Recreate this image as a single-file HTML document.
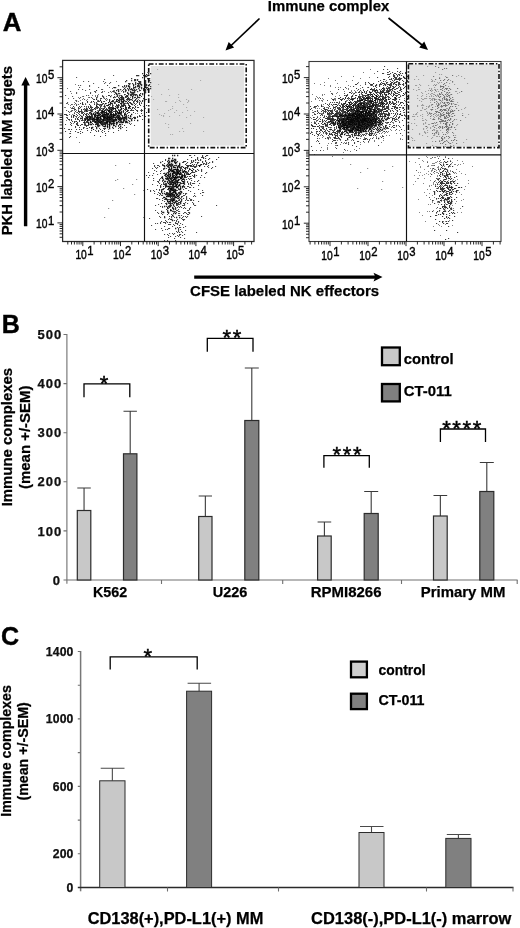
<!DOCTYPE html>
<html><head><meta charset="utf-8"><title>Figure</title>
<style>
html,body{margin:0;padding:0;background:#fff;}
body{width:520px;height:928px;overflow:hidden;font-family:"Liberation Sans",sans-serif;}
svg{display:block;}
</style></head><body>
<svg width="520" height="928" viewBox="0 0 520 928">
<rect width="520" height="928" fill="#fff"/>
<rect x="150.7" y="66" width="93.5" height="79.6" fill="#e2e2e2"/>
<rect x="409.2" y="64.5" width="89.00000000000003" height="82.3" fill="#e2e2e2"/>
<path d="M109 119.5h1.3M112 118.5h1.3M106 119.5h1.3M99 119.5h1.3M104 126.5h1.3M98 115.5h1.3M110 112.5h1.3M124 114.5h1.3M104 113.5h1.3M102 121.5h1.3M114 121.5h1.3M113 115.5h1.3M110 113.5h1.3M99 117.5h1.3M109 124.5h1.3M117 107.5h1.3M94 121.5h1.3M104 114.5h1.3M88 123.5h1.3M95 115.5h1.3M89 118.5h1.3M106 113.5h1.3M95 115.5h1.3M112 123.5h1.3M111 121.5h1.3M107 117.5h1.3M81 116.5h1.3M103 111.5h1.3M108 117.5h1.3M110 118.5h1.3M92 119.5h1.3M104 118.5h1.3M98 114.5h1.3M100 118.5h1.3M121 118.5h1.3M100 123.5h1.3M109 125.5h1.3M119 117.5h1.3M103 116.5h1.3M108 118.5h1.3M110 116.5h1.3M110 115.5h1.3M96 119.5h1.3M110 114.5h1.3M124 120.5h1.3M92 118.5h1.3M118 119.5h1.3M110 118.5h1.3M102 116.5h1.3M131 114.5h1.3M117 117.5h1.3M96 117.5h1.3M110 119.5h1.3M115 118.5h1.3M107 113.5h1.3M117 118.5h1.3M108 113.5h1.3M116 116.5h1.3M125 117.5h1.3M102 111.5h1.3M111 119.5h1.3M104 119.5h1.3M110 118.5h1.3M96 117.5h1.3M103 117.5h1.3M107 115.5h1.3M119 117.5h1.3M122 116.5h1.3M94 119.5h1.3M100 114.5h1.3M116 119.5h1.3M87 120.5h1.3M104 118.5h1.3M108 117.5h1.3M123 120.5h1.3M117 112.5h1.3M105 120.5h1.3M105 119.5h1.3M106 119.5h1.3M126 119.5h1.3M104 116.5h1.3M106 117.5h1.3M113 121.5h1.3M108 120.5h1.3M107 119.5h1.3M97 113.5h1.3M109 120.5h1.3M104 123.5h1.3M122 122.5h1.3M116 119.5h1.3M109 112.5h1.3M116 122.5h1.3M105 118.5h1.3M121 108.5h1.3M109 120.5h1.3M115 112.5h1.3M95 114.5h1.3M113 116.5h1.3M90 124.5h1.3M87 118.5h1.3M106 119.5h1.3M99 125.5h1.3M111 124.5h1.3M134 117.5h1.3M100 118.5h1.3M102 114.5h1.3M111 116.5h1.3M114 120.5h1.3M107 120.5h1.3M107 119.5h1.3M117 122.5h1.3M115 115.5h1.3M98 118.5h1.3M108 121.5h1.3M109 120.5h1.3M97 123.5h1.3M112 120.5h1.3M100 117.5h1.3M120 119.5h1.3M111 114.5h1.3M110 112.5h1.3M102 121.5h1.3M108 118.5h1.3M87 120.5h1.3M97 112.5h1.3M113 117.5h1.3M86 117.5h1.3M118 115.5h1.3M90 110.5h1.3M117 117.5h1.3M100 122.5h1.3M118 119.5h1.3M110 116.5h1.3M92 119.5h1.3M123 121.5h1.3M125 107.5h1.3M108 118.5h1.3M106 120.5h1.3M107 121.5h1.3M98 125.5h1.3M121 122.5h1.3M103 120.5h1.3M108 119.5h1.3M100 122.5h1.3M102 116.5h1.3M95 119.5h1.3M123 121.5h1.3M107 126.5h1.3M120 117.5h1.3M109 118.5h1.3M101 119.5h1.3M105 124.5h1.3M103 118.5h1.3M109 124.5h1.3M105 115.5h1.3M106 118.5h1.3M94 118.5h1.3M100 122.5h1.3M127 122.5h1.3M102 113.5h1.3M97 115.5h1.3M113 119.5h1.3M124 115.5h1.3M93 113.5h1.3M107 122.5h1.3M102 120.5h1.3M90 121.5h1.3M117 116.5h1.3M109 122.5h1.3M110 117.5h1.3M101 123.5h1.3M114 115.5h1.3M103 115.5h1.3M107 119.5h1.3M97 116.5h1.3M96 121.5h1.3M124 119.5h1.3M103 115.5h1.3M112 118.5h1.3M109 117.5h1.3M104 122.5h1.3M103 116.5h1.3M116 116.5h1.3M106 123.5h1.3M107 127.5h1.3M109 126.5h1.3M122 118.5h1.3M116 119.5h1.3M113 124.5h1.3M103 118.5h1.3M94 115.5h1.3M119 118.5h1.3M120 120.5h1.3M107 115.5h1.3M115 112.5h1.3M118 113.5h1.3M118 121.5h1.3M119 115.5h1.3M104 118.5h1.3M126 119.5h1.3M95 121.5h1.3M118 117.5h1.3M114 120.5h1.3M119 115.5h1.3M130 116.5h1.3M125 114.5h1.3M96 123.5h1.3M90 119.5h1.3M118 115.5h1.3M98 117.5h1.3M109 117.5h1.3M118 121.5h1.3M91 113.5h1.3M86 115.5h1.3M112 117.5h1.3M109 128.5h1.3M106 122.5h1.3M109 118.5h1.3M100 121.5h1.3M92 127.5h1.3M107 117.5h1.3M98 117.5h1.3M91 124.5h1.3M115 120.5h1.3M108 121.5h1.3M113 116.5h1.3M98 126.5h1.3M102 125.5h1.3M98 121.5h1.3M99 121.5h1.3M111 111.5h1.3M100 121.5h1.3M113 117.5h1.3M113 120.5h1.3M131 120.5h1.3M94 118.5h1.3M119 112.5h1.3M108 120.5h1.3M109 116.5h1.3M93 118.5h1.3M104 116.5h1.3M117 117.5h1.3M108 110.5h1.3M110 123.5h1.3M106 119.5h1.3M122 122.5h1.3M109 126.5h1.3M85 119.5h1.3M101 112.5h1.3M87 116.5h1.3M73 115.5h1.3M103 117.5h1.3M124 118.5h1.3M110 111.5h1.3M96 120.5h1.3M99 113.5h1.3M121 119.5h1.3M111 118.5h1.3M110 117.5h1.3M108 118.5h1.3M109 116.5h1.3M118 116.5h1.3M115 112.5h1.3M111 118.5h1.3M98 126.5h1.3M115 126.5h1.3M101 124.5h1.3M121 121.5h1.3M95 116.5h1.3M107 124.5h1.3M109 118.5h1.3M94 119.5h1.3M128 117.5h1.3M125 118.5h1.3M104 117.5h1.3M117 118.5h1.3M113 114.5h1.3M80 118.5h1.3M112 127.5h1.3M108 118.5h1.3M110 117.5h1.3M97 121.5h1.3M106 121.5h1.3M107 114.5h1.3M122 117.5h1.3M113 122.5h1.3M109 119.5h1.3M126 118.5h1.3M103 124.5h1.3M105 116.5h1.3M89 119.5h1.3M126 116.5h1.3M120 124.5h1.3M119 111.5h1.3M116 116.5h1.3M110 116.5h1.3M111 121.5h1.3M106 121.5h1.3M107 124.5h1.3M110 112.5h1.3M126 121.5h1.3M115 117.5h1.3M108 116.5h1.3M103 121.5h1.3M102 115.5h1.3M127 110.5h1.3M115 117.5h1.3M110 113.5h1.3M105 116.5h1.3M97 120.5h1.3M108 120.5h1.3M119 124.5h1.3M105 118.5h1.3M107 113.5h1.3M107 116.5h1.3M110 115.5h1.3M91 114.5h1.3M106 120.5h1.3M100 116.5h1.3M119 110.5h1.3M101 121.5h1.3M115 118.5h1.3M126 119.5h1.3M106 119.5h1.3M102 121.5h1.3M111 118.5h1.3M109 123.5h1.3M98 120.5h1.3M114 120.5h1.3M131 119.5h1.3M106 113.5h1.3M107 118.5h1.3M98 118.5h1.3M113 119.5h1.3M95 114.5h1.3M97 125.5h1.3M123 118.5h1.3M99 114.5h1.3M121 111.5h1.3M126 117.5h1.3M112 118.5h1.3M115 115.5h1.3M130 118.5h1.3M107 116.5h1.3M102 121.5h1.3M94 116.5h1.3M109 118.5h1.3M125 121.5h1.3M120 128.5h1.3M99 115.5h1.3M100 117.5h1.3M103 115.5h1.3M112 121.5h1.3M107 114.5h1.3M111 116.5h1.3M112 118.5h1.3M106 115.5h1.3M109 115.5h1.3M111 116.5h1.3M108 110.5h1.3M115 113.5h1.3M130 116.5h1.3M116 119.5h1.3M110 118.5h1.3M90 112.5h1.3M113 116.5h1.3M88 122.5h1.3M94 121.5h1.3M118 118.5h1.3M117 115.5h1.3M107 121.5h1.3M90 117.5h1.3M105 114.5h1.3M102 116.5h1.3M116 124.5h1.3M134 118.5h1.3M111 123.5h1.3M100 117.5h1.3M96 122.5h1.3M108 116.5h1.3M107 118.5h1.3M96 128.5h1.3M110 121.5h1.3M96 117.5h1.3M121 118.5h1.3M121 119.5h1.3M121 122.5h1.3M104 117.5h1.3M115 112.5h1.3M108 117.5h1.3M105 119.5h1.3M105 119.5h1.3M95 124.5h1.3M93 120.5h1.3M118 121.5h1.3M107 114.5h1.3M111 121.5h1.3M120 126.5h1.3M90 122.5h1.3M100 120.5h1.3M111 119.5h1.3M113 125.5h1.3M105 115.5h1.3M120 117.5h1.3M111 120.5h1.3M96 122.5h1.3M99 117.5h1.3M118 119.5h1.3M114 117.5h1.3M88 119.5h1.3M124 117.5h1.3M116 114.5h1.3M124 118.5h1.3M105 122.5h1.3M106 115.5h1.3M97 118.5h1.3M137 120.5h1.3M107 114.5h1.3M126 118.5h1.3M102 115.5h1.3M111 123.5h1.3M91 128.5h1.3M105 126.5h1.3M120 117.5h1.3M95 122.5h1.3M121 118.5h1.3M113 119.5h1.3M98 125.5h1.3M103 114.5h1.3M104 122.5h1.3M108 118.5h1.3M103 124.5h1.3M100 119.5h1.3M106 116.5h1.3M98 120.5h1.3M95 122.5h1.3M108 118.5h1.3M119 120.5h1.3M92 117.5h1.3M109 110.5h1.3M102 122.5h1.3M98 121.5h1.3M118 119.5h1.3M103 119.5h1.3M125 122.5h1.3M100 117.5h1.3M113 115.5h1.3M106 118.5h1.3M101 123.5h1.3M115 113.5h1.3M107 123.5h1.3M116 116.5h1.3M108 114.5h1.3M97 123.5h1.3M108 118.5h1.3M110 113.5h1.3M120 117.5h1.3M99 122.5h1.3M109 123.5h1.3M90 117.5h1.3M116 120.5h1.3M97 121.5h1.3M89 117.5h1.3M108 120.5h1.3M121 118.5h1.3M92 117.5h1.3M97 117.5h1.3M101 119.5h1.3M97 119.5h1.3M113 116.5h1.3M100 117.5h1.3M101 123.5h1.3M115 119.5h1.3M101 122.5h1.3M114 123.5h1.3M98 121.5h1.3M96 127.5h1.3M89 116.5h1.3M129 121.5h1.3M105 117.5h1.3" stroke="#000" stroke-width="1.3" stroke-opacity="0.85" fill="none"/>
<path d="M142 101.5h1.05M139 116.5h1.05M66 114.5h1.05M86 114.5h1.05M118 126.5h1.05M121 113.5h1.05M120 112.5h1.05M104 131.5h1.05M114 115.5h1.05M118 105.5h1.05M103 119.5h1.05M126 101.5h1.05M118 121.5h1.05M84 113.5h1.05M124 105.5h1.05M100 116.5h1.05M87 117.5h1.05M112 105.5h1.05M87 121.5h1.05M87 101.5h1.05M74 115.5h1.05M104 110.5h1.05M115 110.5h1.05M125 112.5h1.05M102 104.5h1.05M126 115.5h1.05M105 112.5h1.05M103 109.5h1.05M116 101.5h1.05M126 101.5h1.05M98 117.5h1.05M100 107.5h1.05M102 115.5h1.05M107 121.5h1.05M87 125.5h1.05M126 122.5h1.05M97 113.5h1.05M114 103.5h1.05M88 124.5h1.05M112 115.5h1.05M113 121.5h1.05M97 115.5h1.05M145 116.5h1.05M112 119.5h1.05M141 113.5h1.05M124 114.5h1.05M92 119.5h1.05M97 117.5h1.05M114 114.5h1.05M106 121.5h1.05M106 109.5h1.05M99 128.5h1.05M69 119.5h1.05M100 122.5h1.05M112 110.5h1.05M90 132.5h1.05M91 114.5h1.05M101 104.5h1.05M110 107.5h1.05M76 116.5h1.05M70 136.5h1.05M84 119.5h1.05M64 128.5h1.05M86 109.5h1.05M137 111.5h1.05M84 122.5h1.05M118 125.5h1.05M78 113.5h1.05M111 117.5h1.05M99 117.5h1.05M104 106.5h1.05M116 111.5h1.05M140 105.5h1.05M109 95.5h1.05M107 118.5h1.05M86 121.5h1.05M117 108.5h1.05M100 104.5h1.05M122 122.5h1.05M104 116.5h1.05M140 116.5h1.05M65 131.5h1.05M99 110.5h1.05M123 117.5h1.05M98 113.5h1.05M89 116.5h1.05M100 114.5h1.05M77 118.5h1.05M107 122.5h1.05M128 108.5h1.05M83 115.5h1.05M88 119.5h1.05M97 108.5h1.05M125 106.5h1.05M89 116.5h1.05M91 111.5h1.05M123 110.5h1.05M122 106.5h1.05M98 130.5h1.05M83 128.5h1.05M74 122.5h1.05M91 115.5h1.05M120 113.5h1.05M92 115.5h1.05M115 114.5h1.05M142 110.5h1.05M128 120.5h1.05M82 117.5h1.05M122 127.5h1.05M128 103.5h1.05M90 121.5h1.05M86 109.5h1.05M103 128.5h1.05M73 116.5h1.05M134 108.5h1.05M83 127.5h1.05M100 106.5h1.05M100 112.5h1.05M108 102.5h1.05M110 114.5h1.05M101 113.5h1.05M128 107.5h1.05M105 110.5h1.05M91 110.5h1.05M108 117.5h1.05M109 125.5h1.05M87 102.5h1.05M92 115.5h1.05M121 108.5h1.05M112 116.5h1.05M91 108.5h1.05M146 105.5h1.05M76 124.5h1.05M111 113.5h1.05M121 114.5h1.05M109 111.5h1.05M101 102.5h1.05M94 120.5h1.05M101 116.5h1.05M94 114.5h1.05M120 119.5h1.05M97 124.5h1.05M96 106.5h1.05M81 112.5h1.05M104 126.5h1.05M87 128.5h1.05M101 108.5h1.05M126 101.5h1.05M112 107.5h1.05M115 108.5h1.05M112 100.5h1.05M106 114.5h1.05M102 104.5h1.05M99 105.5h1.05M120 118.5h1.05M83 112.5h1.05M132 108.5h1.05M106 118.5h1.05M90 122.5h1.05M95 113.5h1.05M91 116.5h1.05M108 107.5h1.05M91 130.5h1.05M128 115.5h1.05M89 108.5h1.05M90 122.5h1.05M65 124.5h1.05M104 128.5h1.05M126 121.5h1.05M118 107.5h1.05M78 117.5h1.05M90 106.5h1.05M141 109.5h1.05M111 114.5h1.05M105 135.5h1.05M126 111.5h1.05M131 104.5h1.05M108 114.5h1.05M112 103.5h1.05M117 105.5h1.05M93 113.5h1.05M84 120.5h1.05M106 112.5h1.05M86 110.5h1.05M104 120.5h1.05M107 109.5h1.05M88 106.5h1.05M103 108.5h1.05M102 119.5h1.05M114 99.5h1.05M126 109.5h1.05M95 121.5h1.05M89 113.5h1.05M72 121.5h1.05M86 108.5h1.05M116 122.5h1.05M106 122.5h1.05M85 119.5h1.05M98 101.5h1.05M106 105.5h1.05M115 119.5h1.05M93 129.5h1.05M100 117.5h1.05M69 129.5h1.05M82 113.5h1.05M137 107.5h1.05M98 118.5h1.05M109 101.5h1.05M98 122.5h1.05M89 127.5h1.05M104 105.5h1.05M105 103.5h1.05M103 117.5h1.05M67 115.5h1.05M102 96.5h1.05M88 123.5h1.05M94 117.5h1.05M110 109.5h1.05M118 128.5h1.05M123 112.5h1.05M95 109.5h1.05M123 111.5h1.05M128 101.5h1.05M128 104.5h1.05M133 112.5h1.05M102 110.5h1.05M102 111.5h1.05M122 124.5h1.05M78 125.5h1.05M109 119.5h1.05M94 119.5h1.05M98 119.5h1.05M70 131.5h1.05M87 116.5h1.05M105 128.5h1.05M123 103.5h1.05M125 108.5h1.05M103 103.5h1.05M101 111.5h1.05M88 120.5h1.05M113 123.5h1.05M100 109.5h1.05M117 111.5h1.05M140 105.5h1.05M104 108.5h1.05M75 109.5h1.05M88 117.5h1.05M76 105.5h1.05M81 118.5h1.05M131 109.5h1.05M110 108.5h1.05M75 111.5h1.05M118 100.5h1.05M130 124.5h1.05M98 104.5h1.05M91 128.5h1.05M98 119.5h1.05M111 110.5h1.05M118 102.5h1.05M129 118.5h1.05M129 123.5h1.05M129 102.5h1.05M132 107.5h1.05M118 119.5h1.05M74 121.5h1.05M102 130.5h1.05M111 108.5h1.05M97 119.5h1.05M123 101.5h1.05M98 131.5h1.05M86 111.5h1.05M134 91.5h1.05M118 110.5h1.05M109 112.5h1.05M124 125.5h1.05M126 107.5h1.05M112 112.5h1.05M91 128.5h1.05M96 115.5h1.05M85 125.5h1.05M109 117.5h1.05M129 107.5h1.05M95 116.5h1.05M82 118.5h1.05M146 99.5h1.05M96 124.5h1.05M80 107.5h1.05M110 122.5h1.05M114 119.5h1.05M91 115.5h1.05M121 105.5h1.05M95 113.5h1.05M87 120.5h1.05M109 119.5h1.05M120 113.5h1.05M92 123.5h1.05M112 108.5h1.05M103 116.5h1.05M91 122.5h1.05M133 110.5h1.05M104 110.5h1.05M102 123.5h1.05M119 116.5h1.05M123 89.5h1.05M130 110.5h1.05M112 101.5h1.05M93 124.5h1.05M94 135.5h1.05M115 108.5h1.05M117 112.5h1.05M133 107.5h1.05M113 115.5h1.05M126 115.5h1.05M135 118.5h1.05M108 105.5h1.05M75 131.5h1.05M81 110.5h1.05M76 121.5h1.05M137 117.5h1.05M88 122.5h1.05M130 102.5h1.05M117 106.5h1.05M139 104.5h1.05M125 110.5h1.05M103 123.5h1.05M101 104.5h1.05M107 117.5h1.05M109 118.5h1.05M94 120.5h1.05M104 117.5h1.05M137 120.5h1.05M71 123.5h1.05M110 119.5h1.05M87 121.5h1.05M109 127.5h1.05M122 96.5h1.05M104 124.5h1.05M120 109.5h1.05M73 117.5h1.05M127 102.5h1.05M93 101.5h1.05M117 108.5h1.05M109 108.5h1.05M90 105.5h1.05M109 124.5h1.05M136 110.5h1.05M111 111.5h1.05M110 107.5h1.05M77 112.5h1.05M134 100.5h1.05M141 103.5h1.05M106 113.5h1.05M101 113.5h1.05M73 108.5h1.05M123 108.5h1.05M119 112.5h1.05M130 124.5h1.05M116 117.5h1.05M85 114.5h1.05M132 96.5h1.05M80 107.5h1.05M101 101.5h1.05M111 118.5h1.05M123 105.5h1.05M113 113.5h1.05M113 107.5h1.05M90 117.5h1.05M79 129.5h1.05M106 108.5h1.05M91 113.5h1.05M79 112.5h1.05M80 125.5h1.05M95 107.5h1.05M68 111.5h1.05M78 107.5h1.05M72 108.5h1.05M109 117.5h1.05M113 132.5h1.05M145 99.5h1.05M75 126.5h1.05M91 118.5h1.05M123 102.5h1.05M101 112.5h1.05M98 113.5h1.05M139 102.5h1.05M98 130.5h1.05M82 103.5h1.05M79 121.5h1.05M112 115.5h1.05M111 108.5h1.05M78 119.5h1.05M85 124.5h1.05M116 113.5h1.05M117 115.5h1.05M92 121.5h1.05M117 96.5h1.05M116 123.5h1.05M69 137.5h1.05M99 122.5h1.05M113 120.5h1.05M94 104.5h1.05M99 108.5h1.05M120 106.5h1.05M137 116.5h1.05M82 102.5h1.05M124 109.5h1.05M130 110.5h1.05M125 105.5h1.05M108 107.5h1.05M82 132.5h1.05M118 102.5h1.05M91 108.5h1.05M119 127.5h1.05M141 110.5h1.05M87 111.5h1.05M134 105.5h1.05M137 116.5h1.05M136 101.5h1.05M105 125.5h1.05M81 129.5h1.05M101 115.5h1.05M71 125.5h1.05M107 125.5h1.05M85 109.5h1.05M102 123.5h1.05M103 111.5h1.05M144 101.5h1.05M131 110.5h1.05M104 112.5h1.05M129 102.5h1.05M89 104.5h1.05M98 107.5h1.05M123 122.5h1.05M80 133.5h1.05M99 120.5h1.05M79 127.5h1.05M107 109.5h1.05M138 107.5h1.05M90 118.5h1.05M110 104.5h1.05M87 109.5h1.05M82 118.5h1.05M80 115.5h1.05M134 100.5h1.05M115 110.5h1.05M91 124.5h1.05M119 111.5h1.05M98 112.5h1.05M121 112.5h1.05M111 111.5h1.05M111 107.5h1.05M117 108.5h1.05M93 121.5h1.05M97 120.5h1.05M71 129.5h1.05M96 102.5h1.05M77 115.5h1.05M102 111.5h1.05M86 118.5h1.05M107 110.5h1.05M114 108.5h1.05M77 124.5h1.05M89 118.5h1.05M86 108.5h1.05M120 121.5h1.05M139 115.5h1.05M122 106.5h1.05M98 121.5h1.05M134 103.5h1.05M75 127.5h1.05M135 107.5h1.05M92 109.5h1.05M137 110.5h1.05M84 118.5h1.05M108 113.5h1.05M101 110.5h1.05M107 85.5h1.05M75 119.5h1.05M91 101.5h1.05M114 114.5h1.05M109 122.5h1.05M129 112.5h1.05M107 110.5h1.05M91 115.5h1.05M110 108.5h1.05M67 115.5h1.05M80 111.5h1.05M132 118.5h1.05M86 117.5h1.05M116 119.5h1.05M104 112.5h1.05M84 118.5h1.05M98 113.5h1.05M95 119.5h1.05M95 122.5h1.05M120 113.5h1.05M118 106.5h1.05M93 109.5h1.05M87 130.5h1.05M111 110.5h1.05M103 112.5h1.05M126 121.5h1.05M122 115.5h1.05M104 111.5h1.05M102 132.5h1.05M88 119.5h1.05M87 121.5h1.05M85 116.5h1.05M97 104.5h1.05M96 105.5h1.05M120 114.5h1.05M97 118.5h1.05M101 112.5h1.05M81 109.5h1.05M138 97.5h1.05M115 109.5h1.05M141 96.5h1.05M121 118.5h1.05M135 117.5h1.05M100 136.5h1.05M119 118.5h1.05M81 111.5h1.05M129 83.5h1.05M139 103.5h1.05M113 111.5h1.05M120 118.5h1.05M131 114.5h1.05M92 120.5h1.05M113 114.5h1.05M87 122.5h1.05M91 127.5h1.05M92 107.5h1.05M102 110.5h1.05M108 102.5h1.05M114 125.5h1.05M76 129.5h1.05M146 112.5h1.05M129 100.5h1.05M120 112.5h1.05M98 113.5h1.05M103 114.5h1.05M116 110.5h1.05M113 116.5h1.05M71 116.5h1.05M120 118.5h1.05M67 118.5h1.05M125 109.5h1.05M113 109.5h1.05M103 120.5h1.05M133 107.5h1.05M81 120.5h1.05M108 110.5h1.05M135 97.5h1.05M101 121.5h1.05M96 107.5h1.05M107 118.5h1.05M96 118.5h1.05M137 95.5h1.05M86 109.5h1.05M123 106.5h1.05M79 111.5h1.05M119 102.5h1.05M103 120.5h1.05M105 117.5h1.05M83 114.5h1.05M96 117.5h1.05M137 102.5h1.05M82 117.5h1.05M83 122.5h1.05M135 109.5h1.05M107 110.5h1.05M137 100.5h1.05M112 114.5h1.05M87 119.5h1.05M104 112.5h1.05M130 103.5h1.05M124 114.5h1.05M105 133.5h1.05M106 111.5h1.05M103 117.5h1.05M93 118.5h1.05M145 87.5h1.05M105 114.5h1.05M82 112.5h1.05M95 126.5h1.05M120 109.5h1.05M118 105.5h1.05M102 112.5h1.05M91 117.5h1.05M105 109.5h1.05M71 119.5h1.05M78 108.5h1.05M121 109.5h1.05M95 121.5h1.05M113 128.5h1.05M130 115.5h1.05M118 113.5h1.05M105 123.5h1.05M119 124.5h1.05M98 123.5h1.05M120 110.5h1.05M113 114.5h1.05M87 118.5h1.05M107 116.5h1.05M102 116.5h1.05M65 114.5h1.05M101 98.5h1.05M99 109.5h1.05M96 99.5h1.05M71 120.5h1.05M98 115.5h1.05M104 101.5h1.05M107 119.5h1.05M82 124.5h1.05M118 112.5h1.05M80 131.5h1.05M100 129.5h1.05M132 100.5h1.05M91 124.5h1.05M94 119.5h1.05M127 113.5h1.05M97 122.5h1.05M99 109.5h1.05M110 108.5h1.05M127 103.5h1.05M88 116.5h1.05M84 106.5h1.05M83 109.5h1.05M87 121.5h1.05M88 116.5h1.05M111 115.5h1.05M87 102.5h1.05M108 107.5h1.05M113 108.5h1.05M90 116.5h1.05M108 108.5h1.05M139 115.5h1.05M112 112.5h1.05M92 116.5h1.05M104 114.5h1.05M86 122.5h1.05M111 109.5h1.05M123 119.5h1.05M88 120.5h1.05M101 115.5h1.05M128 110.5h1.05M95 119.5h1.05M109 121.5h1.05M84 124.5h1.05M88 119.5h1.05M95 122.5h1.05M97 125.5h1.05M94 115.5h1.05M94 99.5h1.05M102 124.5h1.05M118 112.5h1.05M109 104.5h1.05M146 105.5h1.05M109 106.5h1.05M134 125.5h1.05M111 116.5h1.05M117 99.5h1.05M76 123.5h1.05M102 111.5h1.05M104 129.5h1.05M100 106.5h1.05M123 111.5h1.05M97 112.5h1.05M96 112.5h1.05M100 98.5h1.05M100 118.5h1.05M113 125.5h1.05M80 103.5h1.05M86 126.5h1.05M111 108.5h1.05M108 131.5h1.05M97 118.5h1.05M94 114.5h1.05M88 125.5h1.05M104 118.5h1.05M129 105.5h1.05M84 123.5h1.05M135 104.5h1.05M122 97.5h1.05M96 131.5h1.05M121 108.5h1.05M76 114.5h1.05M70 122.5h1.05M79 106.5h1.05M97 104.5h1.05M98 111.5h1.05M95 111.5h1.05M107 114.5h1.05M115 108.5h1.05M77 122.5h1.05M92 120.5h1.05M97 106.5h1.05M82 119.5h1.05M78 111.5h1.05M85 125.5h1.05M105 117.5h1.05M117 112.5h1.05M116 101.5h1.05M85 118.5h1.05M89 110.5h1.05M87 122.5h1.05M114 111.5h1.05M64 114.5h1.05M130 116.5h1.05M95 121.5h1.05M89 112.5h1.05M112 121.5h1.05M126 108.5h1.05M112 110.5h1.05M126 111.5h1.05M108 107.5h1.05M130 106.5h1.05M130 108.5h1.05M103 126.5h1.05M134 120.5h1.05M108 111.5h1.05M107 126.5h1.05M87 116.5h1.05M99 117.5h1.05M121 118.5h1.05M79 120.5h1.05M118 130.5h1.05M112 114.5h1.05M111 103.5h1.05M103 111.5h1.05M118 109.5h1.05M90 93.5h1.05M107 121.5h1.05M118 117.5h1.05M92 123.5h1.05M122 124.5h1.05M68 119.5h1.05M119 118.5h1.05M100 109.5h1.05M121 108.5h1.05M86 125.5h1.05M93 119.5h1.05M88 119.5h1.05M91 114.5h1.05M99 108.5h1.05M85 120.5h1.05M129 106.5h1.05M140 95.5h1.05M91 107.5h1.05M70 133.5h1.05M128 98.5h1.05M127 111.5h1.05M121 115.5h1.05M128 115.5h1.05M88 107.5h1.05M102 112.5h1.05M77 119.5h1.05M77 125.5h1.05M125 105.5h1.05M92 107.5h1.05M106 122.5h1.05M92 119.5h1.05M121 106.5h1.05M141 111.5h1.05M115 113.5h1.05M81 124.5h1.05M112 103.5h1.05M133 110.5h1.05M95 114.5h1.05M90 107.5h1.05M125 112.5h1.05M108 113.5h1.05M83 114.5h1.05M97 118.5h1.05M90 105.5h1.05M111 112.5h1.05M107 116.5h1.05M128 112.5h1.05M119 119.5h1.05M74 109.5h1.05M113 100.5h1.05M123 112.5h1.05M114 115.5h1.05M126 127.5h1.05M94 120.5h1.05M86 110.5h1.05M124 117.5h1.05M84 111.5h1.05M126 130.5h1.05M91 119.5h1.05M99 120.5h1.05M77 123.5h1.05M78 132.5h1.05M82 120.5h1.05M98 124.5h1.05M112 104.5h1.05M120 122.5h1.05M81 129.5h1.05M84 121.5h1.05M119 113.5h1.05M104 115.5h1.05M74 113.5h1.05M142 119.5h1.05M88 122.5h1.05M110 117.5h1.05M109 116.5h1.05M133 117.5h1.05M96 119.5h1.05M125 116.5h1.05" stroke="#000" stroke-width="1.05" stroke-opacity="0.75" fill="none"/>
<path d="M74 104.5h1M114 91.5h1M90 107.5h1M99 104.5h1M123 87.5h1M125 97.5h1M117 123.5h1M114 87.5h1M74 115.5h1M82 116.5h1M115 108.5h1M95 96.5h1M121 112.5h1M121 91.5h1M119 96.5h1M81 109.5h1M87 116.5h1M76 117.5h1M89 108.5h1M76 121.5h1M86 110.5h1M97 116.5h1M78 97.5h1M68 98.5h1M69 120.5h1M113 90.5h1M103 103.5h1M127 100.5h1M127 96.5h1M94 103.5h1M118 116.5h1M67 88.5h1M131 123.5h1M97 107.5h1M74 112.5h1M111 111.5h1M83 98.5h1M120 103.5h1M104 104.5h1M90 114.5h1M125 103.5h1M77 118.5h1M109 100.5h1M90 109.5h1M82 104.5h1M113 97.5h1M78 110.5h1M88 97.5h1M76 110.5h1M117 89.5h1M73 123.5h1M70 105.5h1M106 110.5h1M118 102.5h1M71 115.5h1M130 102.5h1M83 104.5h1M105 106.5h1M111 124.5h1M116 81.5h1M141 102.5h1M115 93.5h1M92 95.5h1M77 132.5h1M69 133.5h1M115 109.5h1M94 108.5h1M75 116.5h1M89 115.5h1M140 110.5h1M94 112.5h1M88 110.5h1M134 101.5h1M113 117.5h1M103 114.5h1M87 99.5h1M65 107.5h1M74 115.5h1M90 102.5h1M97 103.5h1M111 95.5h1M115 101.5h1M107 109.5h1M107 115.5h1M78 111.5h1M89 108.5h1M79 142.5h1M86 119.5h1M95 112.5h1M72 107.5h1M75 84.5h1M100 105.5h1M105 107.5h1M86 128.5h1M114 90.5h1M97 126.5h1M78 109.5h1M103 113.5h1M147 72.5h1M86 111.5h1M130 97.5h1M135 106.5h1M138 99.5h1M82 99.5h1M105 112.5h1M96 113.5h1M96 117.5h1M116 114.5h1M103 106.5h1M98 94.5h1M133 86.5h1M85 123.5h1M77 118.5h1M121 103.5h1M119 98.5h1M128 101.5h1M76 112.5h1M128 97.5h1M114 97.5h1M144 119.5h1M72 114.5h1M107 99.5h1M95 95.5h1M64 107.5h1M85 117.5h1M129 108.5h1M91 106.5h1M85 110.5h1M123 99.5h1M126 90.5h1M126 114.5h1M83 114.5h1M101 131.5h1M127 93.5h1M86 108.5h1M84 118.5h1M122 99.5h1M139 85.5h1M74 102.5h1M67 117.5h1M78 110.5h1M99 117.5h1M117 113.5h1M98 110.5h1M85 110.5h1M106 103.5h1M79 116.5h1M101 115.5h1M87 110.5h1M122 99.5h1M82 96.5h1M78 101.5h1M91 116.5h1M84 125.5h1M84 110.5h1M123 110.5h1M92 121.5h1M83 120.5h1M70 107.5h1M74 110.5h1M100 108.5h1M97 97.5h1M129 105.5h1M87 119.5h1M127 96.5h1M108 124.5h1M102 103.5h1M71 110.5h1M120 95.5h1M136 103.5h1M107 105.5h1M120 119.5h1M92 114.5h1M93 113.5h1M86 107.5h1M125 87.5h1M110 103.5h1M96 99.5h1M94 117.5h1M115 103.5h1M110 121.5h1M82 117.5h1M143 106.5h1M108 107.5h1M102 108.5h1M137 105.5h1M127 110.5h1M100 99.5h1M115 108.5h1M76 137.5h1M87 108.5h1M131 93.5h1M118 114.5h1M82 111.5h1M79 114.5h1M97 125.5h1M108 129.5h1M117 94.5h1M145 108.5h1M111 110.5h1M123 106.5h1M88 114.5h1M119 102.5h1M106 121.5h1M91 114.5h1M100 110.5h1M101 119.5h1M107 114.5h1M112 109.5h1M90 112.5h1M84 127.5h1M120 107.5h1M87 101.5h1M139 95.5h1M85 111.5h1M119 105.5h1M136 101.5h1M139 89.5h1M124 114.5h1M97 100.5h1M111 92.5h1M80 100.5h1M121 102.5h1M75 121.5h1M95 119.5h1M126 103.5h1M75 100.5h1M93 101.5h1M106 96.5h1M70 111.5h1M130 83.5h1M110 105.5h1M66 120.5h1M101 105.5h1M83 114.5h1M86 100.5h1M104 91.5h1M85 103.5h1M125 113.5h1M85 120.5h1M126 97.5h1M101 118.5h1M123 99.5h1M89 124.5h1M90 113.5h1M74 107.5h1M116 111.5h1M125 94.5h1M133 85.5h1M108 107.5h1M97 107.5h1M111 103.5h1M101 102.5h1M137 113.5h1M125 97.5h1M82 103.5h1M85 122.5h1M135 113.5h1M109 108.5h1M96 90.5h1M130 94.5h1M93 114.5h1M95 108.5h1M91 124.5h1M123 108.5h1M73 106.5h1M88 122.5h1M84 109.5h1M119 113.5h1M100 100.5h1M102 92.5h1M100 100.5h1M67 103.5h1M109 116.5h1M111 117.5h1M102 109.5h1M115 102.5h1M116 96.5h1M105 120.5h1M97 110.5h1M125 106.5h1M128 97.5h1M71 93.5h1M127 93.5h1M114 92.5h1M125 105.5h1M113 105.5h1M72 104.5h1M74 108.5h1M146 112.5h1M108 95.5h1M68 104.5h1M110 102.5h1M93 101.5h1M109 87.5h1M101 106.5h1M96 108.5h1M109 104.5h1M116 101.5h1M95 117.5h1" stroke="#222" stroke-width="1" stroke-opacity="0.6" fill="none"/>
<path d="M139 82.5h1.25M135 99.5h1.25M139 90.5h1.25M137 83.5h1.25M120 97.5h1.25M94 108.5h1.25M139 86.5h1.25M131 95.5h1.25M146 85.5h1.25M119 100.5h1.25M137 86.5h1.25M121 99.5h1.25M138 85.5h1.25M149 84.5h1.25M115 111.5h1.25M143 75.5h1.25M144 86.5h1.25M123 104.5h1.25M138 83.5h1.25M134 80.5h1.25M131 103.5h1.25M109 107.5h1.25M122 102.5h1.25M123 97.5h1.25M114 102.5h1.25M129 84.5h1.25M137 91.5h1.25M147 89.5h1.25M121 100.5h1.25M145 80.5h1.25M145 76.5h1.25M141 84.5h1.25M124 86.5h1.25M121 97.5h1.25M132 83.5h1.25M131 92.5h1.25M132 94.5h1.25M144 86.5h1.25M137 79.5h1.25M141 88.5h1.25M126 86.5h1.25M139 83.5h1.25M118 93.5h1.25M132 97.5h1.25M138 75.5h1.25M140 84.5h1.25M125 101.5h1.25M116 105.5h1.25M150 86.5h1.25M143 88.5h1.25M120 99.5h1.25M138 88.5h1.25M117 99.5h1.25M124 88.5h1.25M133 84.5h1.25M135 95.5h1.25M138 85.5h1.25M120 99.5h1.25M145 90.5h1.25M139 95.5h1.25M124 100.5h1.25M132 96.5h1.25M127 88.5h1.25M142 77.5h1.25M146 87.5h1.25M120 107.5h1.25M122 101.5h1.25M137 101.5h1.25M138 84.5h1.25M133 93.5h1.25M145 85.5h1.25M135 84.5h1.25M130 89.5h1.25M129 106.5h1.25M136 89.5h1.25M125 101.5h1.25M110 103.5h1.25M143 89.5h1.25M138 88.5h1.25M130 95.5h1.25M116 93.5h1.25M116 100.5h1.25M144 93.5h1.25M138 86.5h1.25M118 104.5h1.25M131 80.5h1.25M121 96.5h1.25M119 113.5h1.25M137 97.5h1.25M117 95.5h1.25M124 94.5h1.25M145 82.5h1.25M110 96.5h1.25M127 98.5h1.25M133 85.5h1.25M143 98.5h1.25M102 111.5h1.25M150 73.5h1.25M129 99.5h1.25M118 89.5h1.25M137 75.5h1.25M144 81.5h1.25M132 98.5h1.25M148 78.5h1.25M143 88.5h1.25M115 108.5h1.25M133 84.5h1.25M118 104.5h1.25M133 87.5h1.25M125 91.5h1.25M123 100.5h1.25M110 102.5h1.25M124 113.5h1.25M112 101.5h1.25M124 103.5h1.25M118 91.5h1.25M147 75.5h1.25M109 99.5h1.25M148 80.5h1.25M127 99.5h1.25M139 94.5h1.25M132 104.5h1.25M134 94.5h1.25M103 97.5h1.25M126 96.5h1.25M112 108.5h1.25M145 81.5h1.25M135 90.5h1.25M123 100.5h1.25M107 105.5h1.25M115 106.5h1.25M123 91.5h1.25M108 104.5h1.25M132 89.5h1.25M126 96.5h1.25M124 86.5h1.25M130 99.5h1.25M119 99.5h1.25M145 89.5h1.25M127 95.5h1.25M134 87.5h1.25M139 100.5h1.25M121 95.5h1.25M140 93.5h1.25M108 104.5h1.25M136 98.5h1.25M133 102.5h1.25M132 98.5h1.25M143 90.5h1.25M115 87.5h1.25M139 97.5h1.25M132 90.5h1.25M145 83.5h1.25M122 98.5h1.25M148 85.5h1.25M114 87.5h1.25M126 99.5h1.25M140 81.5h1.25M123 101.5h1.25M133 95.5h1.25M121 104.5h1.25M135 86.5h1.25M137 85.5h1.25M147 87.5h1.25M139 87.5h1.25M130 92.5h1.25M142 73.5h1.25M134 89.5h1.25M141 85.5h1.25M141 84.5h1.25M145 92.5h1.25M146 76.5h1.25M113 91.5h1.25M125 90.5h1.25M118 100.5h1.25M145 81.5h1.25M149 80.5h1.25M150 88.5h1.25M120 103.5h1.25M123 98.5h1.25M128 86.5h1.25M129 87.5h1.25M111 109.5h1.25M116 90.5h1.25M145 86.5h1.25M122 105.5h1.25M130 91.5h1.25M126 95.5h1.25M131 94.5h1.25M136 94.5h1.25M133 88.5h1.25M141 87.5h1.25M134 94.5h1.25M119 101.5h1.25M132 92.5h1.25M139 81.5h1.25M136 75.5h1.25M111 101.5h1.25M128 107.5h1.25M130 95.5h1.25M150 82.5h1.25M144 100.5h1.25M145 83.5h1.25M123 99.5h1.25M123 99.5h1.25M135 90.5h1.25M142 94.5h1.25M135 79.5h1.25M139 81.5h1.25M128 85.5h1.25M128 99.5h1.25M147 78.5h1.25M134 92.5h1.25M130 91.5h1.25M127 98.5h1.25M148 89.5h1.25M133 92.5h1.25M127 96.5h1.25M141 85.5h1.25M148 73.5h1.25M133 94.5h1.25M145 87.5h1.25M136 75.5h1.25M135 83.5h1.25M131 88.5h1.25M140 82.5h1.25M146 84.5h1.25M116 99.5h1.25M113 101.5h1.25M137 91.5h1.25M108 104.5h1.25M147 89.5h1.25M118 85.5h1.25M149 78.5h1.25M133 101.5h1.25M119 100.5h1.25M145 84.5h1.25M115 92.5h1.25M132 90.5h1.25M112 106.5h1.25M142 93.5h1.25M117 95.5h1.25M125 81.5h1.25M129 86.5h1.25M122 86.5h1.25M131 78.5h1.25M134 92.5h1.25M116 94.5h1.25M145 85.5h1.25M118 100.5h1.25M135 90.5h1.25M128 94.5h1.25M126 80.5h1.25M129 88.5h1.25M124 85.5h1.25M135 82.5h1.25M137 96.5h1.25M120 89.5h1.25M135 87.5h1.25M125 89.5h1.25M134 97.5h1.25M145 87.5h1.25M131 95.5h1.25M128 89.5h1.25M135 80.5h1.25M145 81.5h1.25M145 87.5h1.25M118 90.5h1.25M109 110.5h1.25M138 81.5h1.25M119 93.5h1.25M142 100.5h1.25M145 80.5h1.25M140 83.5h1.25M145 75.5h1.25M105 103.5h1.25M133 90.5h1.25M113 108.5h1.25M135 94.5h1.25M118 97.5h1.25M117 101.5h1.25M131 99.5h1.25M128 93.5h1.25M127 92.5h1.25M128 90.5h1.25M146 74.5h1.25M134 90.5h1.25M145 86.5h1.25M121 103.5h1.25M113 97.5h1.25M134 79.5h1.25M131 89.5h1.25M121 98.5h1.25M126 85.5h1.25M132 89.5h1.25M121 96.5h1.25M108 102.5h1.25M128 83.5h1.25M119 98.5h1.25M132 93.5h1.25M121 101.5h1.25M125 96.5h1.25" stroke="#000" stroke-width="1.25" stroke-opacity="0.8" fill="none"/>
<path d="M93 129.5h1.1M116 107.5h1.1M101 105.5h1.1M109 83.5h1.1M114 120.5h1.1M96 99.5h1.1M91 102.5h1.1M104 79.5h1.1M88 114.5h1.1M106 114.5h1.1M121 97.5h1.1M116 104.5h1.1M89 108.5h1.1M69 114.5h1.1M96 105.5h1.1M94 122.5h1.1M121 101.5h1.1M89 97.5h1.1M92 98.5h1.1M113 75.5h1.1M86 95.5h1.1M93 114.5h1.1M135 106.5h1.1M130 94.5h1.1M111 107.5h1.1M103 81.5h1.1M76 100.5h1.1M109 109.5h1.1M98 111.5h1.1M102 95.5h1.1M86 113.5h1.1M97 124.5h1.1M93 99.5h1.1M104 112.5h1.1M128 86.5h1.1M105 82.5h1.1M76 104.5h1.1M80 97.5h1.1M109 100.5h1.1M106 112.5h1.1M84 122.5h1.1M103 101.5h1.1M80 85.5h1.1M66 117.5h1.1M66 110.5h1.1M78 111.5h1.1M128 105.5h1.1M68 129.5h1.1M124 104.5h1.1M126 109.5h1.1M93 83.5h1.1M96 97.5h1.1M83 96.5h1.1M96 103.5h1.1M111 107.5h1.1M97 95.5h1.1M119 122.5h1.1M123 92.5h1.1M104 98.5h1.1M104 106.5h1.1M96 90.5h1.1M104 110.5h1.1M72 110.5h1.1M106 100.5h1.1M101 124.5h1.1M78 104.5h1.1M144 107.5h1.1M76 93.5h1.1M78 85.5h1.1M103 96.5h1.1M79 98.5h1.1M76 77.5h1.1M94 91.5h1.1M104 83.5h1.1M121 118.5h1.1M115 97.5h1.1M123 98.5h1.1M110 91.5h1.1M87 113.5h1.1M121 99.5h1.1M86 106.5h1.1M83 81.5h1.1M130 116.5h1.1M114 108.5h1.1M102 110.5h1.1M113 117.5h1.1M116 101.5h1.1M67 102.5h1.1M95 111.5h1.1M71 108.5h1.1M99 101.5h1.1M82 104.5h1.1M127 98.5h1.1M108 111.5h1.1M79 114.5h1.1M96 104.5h1.1M70 124.5h1.1M98 87.5h1.1M109 101.5h1.1M103 122.5h1.1M89 86.5h1.1M108 119.5h1.1M103 109.5h1.1M122 90.5h1.1M69 112.5h1.1M108 92.5h1.1M82 89.5h1.1M101 102.5h1.1M106 98.5h1.1M112 91.5h1.1M84 99.5h1.1M101 92.5h1.1M71 104.5h1.1M66 103.5h1.1M109 112.5h1.1M96 98.5h1.1M78 89.5h1.1M97 101.5h1.1M131 120.5h1.1M120 113.5h1.1M114 96.5h1.1M95 91.5h1.1M107 115.5h1.1M105 99.5h1.1M106 112.5h1.1M92 110.5h1.1M135 100.5h1.1M129 107.5h1.1M95 92.5h1.1M75 103.5h1.1M142 115.5h1.1M123 111.5h1.1M139 104.5h1.1M76 92.5h1.1M103 115.5h1.1M89 85.5h1.1M108 95.5h1.1M104 107.5h1.1M140 90.5h1.1M110 120.5h1.1M97 116.5h1.1M121 97.5h1.1M91 97.5h1.1M89 89.5h1.1M146 88.5h1.1M79 108.5h1.1M86 110.5h1.1M98 107.5h1.1M73 106.5h1.1M120 107.5h1.1M79 87.5h1.1M85 104.5h1.1M89 120.5h1.1M75 118.5h1.1M73 98.5h1.1M100 100.5h1.1M113 123.5h1.1M113 87.5h1.1M96 106.5h1.1M71 117.5h1.1M114 94.5h1.1M92 111.5h1.1M98 100.5h1.1M95 130.5h1.1M84 108.5h1.1M109 100.5h1.1M66 115.5h1.1M71 111.5h1.1M90 92.5h1.1M81 106.5h1.1M102 89.5h1.1M119 95.5h1.1M102 89.5h1.1M101 89.5h1.1M97 96.5h1.1M116 93.5h1.1M105 112.5h1.1M76 101.5h1.1M70 91.5h1.1M97 112.5h1.1M88 81.5h1.1M110 82.5h1.1M121 112.5h1.1M95 114.5h1.1M140 101.5h1.1M116 90.5h1.1M129 98.5h1.1M99 110.5h1.1M65 95.5h1.1M72 96.5h1.1M112 88.5h1.1M118 91.5h1.1M81 113.5h1.1M91 109.5h1.1M102 91.5h1.1M89 97.5h1.1M132 110.5h1.1M145 91.5h1.1M94 102.5h1.1M137 80.5h1.1M85 90.5h1.1M79 108.5h1.1M118 91.5h1.1M88 95.5h1.1" stroke="#111" stroke-width="1.1" stroke-opacity="0.7" fill="none"/>
<path d="M183 131.5h1.1M165 123.5h1.1M163 116.5h1.1M179 115.5h1.1M174 112.5h1.1M188 100.5h1.1M183 104.5h1.1M163 115.5h1.1M170 109.5h1.1M170 134.5h1.1M151 96.5h1.1M157 69.5h1.1M186 107.5h1.1M186 117.5h1.1M176 110.5h1.1M169 95.5h1.1M179 131.5h1.1M179 100.5h1.1M190 123.5h1.1M165 101.5h1.1M168 89.5h1.1M168 127.5h1.1M200 80.5h1.1M186 99.5h1.1M157 109.5h1.1M166 101.5h1.1M161 115.5h1.1M172 106.5h1.1M175 102.5h1.1M187 110.5h1.1M178 94.5h1.1M161 94.5h1.1M169 116.5h1.1M164 113.5h1.1M172 108.5h1.1M187 102.5h1.1M191 89.5h1.1M166 101.5h1.1M194 111.5h1.1M178 97.5h1.1M190 115.5h1.1M180 101.5h1.1M188 101.5h1.1M172 134.5h1.1M159 114.5h1.1M182 128.5h1.1M182 112.5h1.1M203 131.5h1.1M168 124.5h1.1M153 99.5h1.1M168 110.5h1.1M203 117.5h1.1M158 84.5h1.1" stroke="#888" stroke-width="1.1" stroke-opacity="0.6" fill="none"/>
<path d="M166 192.5h1.1M166 179.5h1.1M177 232.5h1.1M174 238.5h1.1M193 204.5h1.1M167 240.5h1.1M170 183.5h1.1M163 180.5h1.1M188 214.5h1.1M162 207.5h1.1M185 188.5h1.1M194 183.5h1.1M174 186.5h1.1M180 227.5h1.1M150 191.5h1.1M171 203.5h1.1M158 213.5h1.1M177 203.5h1.1M175 213.5h1.1M166 174.5h1.1M188 186.5h1.1M177 219.5h1.1M170 188.5h1.1M159 199.5h1.1M173 200.5h1.1M198 201.5h1.1M167 189.5h1.1M179 204.5h1.1M169 218.5h1.1M185 194.5h1.1M180 198.5h1.1M173 182.5h1.1M153 173.5h1.1M169 233.5h1.1M190 191.5h1.1M173 192.5h1.1M183 193.5h1.1M170 219.5h1.1M157 223.5h1.1M183 172.5h1.1M180 188.5h1.1M169 201.5h1.1M171 193.5h1.1M180 182.5h1.1M169 206.5h1.1M181 175.5h1.1M174 179.5h1.1M147 189.5h1.1M175 177.5h1.1M168 235.5h1.1M183 161.5h1.1M170 183.5h1.1M183 227.5h1.1M178 177.5h1.1M156 171.5h1.1M167 179.5h1.1M183 220.5h1.1M172 208.5h1.1M166 185.5h1.1M175 186.5h1.1M184 174.5h1.1M178 202.5h1.1M184 182.5h1.1M166 174.5h1.1M173 177.5h1.1M177 166.5h1.1M155 223.5h1.1M172 226.5h1.1M161 203.5h1.1M194 181.5h1.1M194 193.5h1.1M193 203.5h1.1M185 193.5h1.1M170 166.5h1.1M189 176.5h1.1M174 186.5h1.1M185 175.5h1.1M165 199.5h1.1M169 192.5h1.1M199 183.5h1.1M176 187.5h1.1M201 216.5h1.1M160 173.5h1.1M174 211.5h1.1M164 175.5h1.1M174 203.5h1.1M175 186.5h1.1M183 219.5h1.1M185 208.5h1.1M176 182.5h1.1M177 194.5h1.1M176 210.5h1.1M183 185.5h1.1M177 181.5h1.1M181 200.5h1.1M162 214.5h1.1M183 208.5h1.1M200 177.5h1.1M177 198.5h1.1M159 195.5h1.1M184 234.5h1.1M172 178.5h1.1M184 186.5h1.1M182 175.5h1.1M192 183.5h1.1M184 182.5h1.1M178 182.5h1.1M162 178.5h1.1M180 168.5h1.1M179 232.5h1.1M164 197.5h1.1M169 206.5h1.1M181 197.5h1.1M155 205.5h1.1M155 210.5h1.1M173 199.5h1.1M181 168.5h1.1M170 194.5h1.1M146 175.5h1.1M176 200.5h1.1M160 194.5h1.1M178 236.5h1.1M175 176.5h1.1M180 174.5h1.1M186 174.5h1.1M169 207.5h1.1M188 173.5h1.1M194 174.5h1.1M179 211.5h1.1M195 171.5h1.1M168 167.5h1.1M189 174.5h1.1M179 194.5h1.1M163 169.5h1.1M175 192.5h1.1M170 178.5h1.1M169 216.5h1.1M177 187.5h1.1M172 189.5h1.1M178 176.5h1.1M159 193.5h1.1M177 186.5h1.1M191 180.5h1.1M178 230.5h1.1M169 222.5h1.1M165 222.5h1.1M176 174.5h1.1M159 180.5h1.1M160 171.5h1.1M182 224.5h1.1M199 183.5h1.1M159 190.5h1.1M182 183.5h1.1M162 200.5h1.1M178 195.5h1.1M164 199.5h1.1M176 205.5h1.1M174 195.5h1.1M171 186.5h1.1M178 231.5h1.1M192 202.5h1.1M169 177.5h1.1M180 237.5h1.1M177 190.5h1.1M174 217.5h1.1M202 190.5h1.1M154 193.5h1.1M172 189.5h1.1M173 185.5h1.1M216 205.5h1.1M179 207.5h1.1M203 164.5h1.1M194 175.5h1.1M170 236.5h1.1M181 196.5h1.1M201 164.5h1.1M178 192.5h1.1M179 177.5h1.1M183 183.5h1.1M157 174.5h1.1M166 183.5h1.1M182 172.5h1.1M183 181.5h1.1M165 176.5h1.1M171 216.5h1.1M175 184.5h1.1M174 197.5h1.1M186 179.5h1.1M176 212.5h1.1M177 196.5h1.1M158 181.5h1.1M164 222.5h1.1M180 187.5h1.1M179 197.5h1.1M168 195.5h1.1M166 196.5h1.1M179 232.5h1.1M168 196.5h1.1M165 183.5h1.1M168 171.5h1.1M196 232.5h1.1M176 190.5h1.1M174 172.5h1.1M186 199.5h1.1M172 175.5h1.1M185 230.5h1.1M162 181.5h1.1M176 170.5h1.1M160 194.5h1.1M162 165.5h1.1M170 205.5h1.1M188 174.5h1.1M180 234.5h1.1M169 168.5h1.1M184 170.5h1.1M172 182.5h1.1M179 170.5h1.1M178 188.5h1.1M182 205.5h1.1M168 186.5h1.1M174 203.5h1.1M178 195.5h1.1M177 190.5h1.1M166 174.5h1.1M198 185.5h1.1M170 219.5h1.1M182 217.5h1.1M177 207.5h1.1M193 176.5h1.1M155 229.5h1.1M204 177.5h1.1M173 192.5h1.1M179 164.5h1.1M202 192.5h1.1M179 213.5h1.1M161 184.5h1.1M171 165.5h1.1M187 216.5h1.1M161 228.5h1.1M173 172.5h1.1M208 167.5h1.1M172 198.5h1.1M168 186.5h1.1M166 221.5h1.1M189 179.5h1.1M181 207.5h1.1M157 212.5h1.1M184 183.5h1.1M168 188.5h1.1M180 178.5h1.1M170 170.5h1.1M169 164.5h1.1M168 224.5h1.1M172 197.5h1.1M159 183.5h1.1M176 177.5h1.1M157 181.5h1.1M174 233.5h1.1M174 206.5h1.1M162 161.5h1.1M189 169.5h1.1M204 166.5h1.1M190 199.5h1.1M160 194.5h1.1M186 217.5h1.1M179 182.5h1.1M175 183.5h1.1M169 178.5h1.1M174 211.5h1.1M196 171.5h1.1M183 179.5h1.1M171 163.5h1.1M168 213.5h1.1M171 168.5h1.1M184 180.5h1.1M198 189.5h1.1M163 182.5h1.1M177 161.5h1.1M171 205.5h1.1M167 212.5h1.1M180 194.5h1.1M183 182.5h1.1M159 189.5h1.1M192 175.5h1.1M181 173.5h1.1M179 215.5h1.1M170 224.5h1.1M181 191.5h1.1M162 180.5h1.1M175 207.5h1.1M190 165.5h1.1M164 216.5h1.1M188 190.5h1.1M179 234.5h1.1M165 160.5h1.1M175 202.5h1.1M175 190.5h1.1M184 187.5h1.1M183 198.5h1.1M160 185.5h1.1M161 213.5h1.1M191 170.5h1.1M176 204.5h1.1M177 227.5h1.1M181 173.5h1.1M161 190.5h1.1M191 178.5h1.1M166 206.5h1.1M183 205.5h1.1M190 200.5h1.1M157 165.5h1.1M178 215.5h1.1M172 215.5h1.1M173 176.5h1.1M163 189.5h1.1M164 201.5h1.1M186 167.5h1.1M184 205.5h1.1M169 171.5h1.1M157 167.5h1.1M202 195.5h1.1M182 235.5h1.1M181 178.5h1.1M163 173.5h1.1M168 228.5h1.1M176 221.5h1.1M164 191.5h1.1M193 200.5h1.1M178 173.5h1.1M182 170.5h1.1M163 169.5h1.1M165 184.5h1.1M167 214.5h1.1M179 185.5h1.1M172 192.5h1.1M172 211.5h1.1M182 162.5h1.1M176 220.5h1.1M191 200.5h1.1M174 173.5h1.1M163 186.5h1.1M177 167.5h1.1M190 207.5h1.1M169 192.5h1.1M176 187.5h1.1M172 170.5h1.1M179 202.5h1.1M178 204.5h1.1M166 209.5h1.1M174 167.5h1.1M188 184.5h1.1M190 182.5h1.1M183 216.5h1.1M183 213.5h1.1M171 203.5h1.1M171 217.5h1.1M186 193.5h1.1M175 186.5h1.1M154 191.5h1.1M172 171.5h1.1M167 199.5h1.1M162 198.5h1.1M179 227.5h1.1M167 201.5h1.1M172 171.5h1.1M173 192.5h1.1M167 193.5h1.1M189 209.5h1.1M170 194.5h1.1M179 182.5h1.1M160 194.5h1.1M170 195.5h1.1M172 173.5h1.1M172 176.5h1.1M169 194.5h1.1M175 222.5h1.1M193 196.5h1.1M174 191.5h1.1M173 204.5h1.1M171 193.5h1.1M212 167.5h1.1M197 181.5h1.1M178 228.5h1.1M184 195.5h1.1M167 172.5h1.1M174 195.5h1.1M178 189.5h1.1M165 175.5h1.1M167 208.5h1.1M178 229.5h1.1M178 209.5h1.1M148 172.5h1.1M176 195.5h1.1M193 176.5h1.1M168 183.5h1.1M177 210.5h1.1M157 167.5h1.1M182 219.5h1.1M162 214.5h1.1M172 185.5h1.1M168 201.5h1.1M159 166.5h1.1M183 175.5h1.1M178 200.5h1.1M194 195.5h1.1M162 206.5h1.1M158 204.5h1.1M172 177.5h1.1M181 183.5h1.1M179 200.5h1.1M160 222.5h1.1M167 234.5h1.1M173 211.5h1.1M186 188.5h1.1M182 181.5h1.1M171 170.5h1.1M164 191.5h1.1M185 200.5h1.1M189 179.5h1.1M215 166.5h1.1M175 163.5h1.1M200 164.5h1.1M164 240.5h1.1M168 219.5h1.1M170 209.5h1.1M166 206.5h1.1M169 169.5h1.1M170 191.5h1.1M183 195.5h1.1M175 183.5h1.1M177 168.5h1.1M191 199.5h1.1M177 224.5h1.1M177 205.5h1.1M177 169.5h1.1M179 227.5h1.1M166 168.5h1.1M190 183.5h1.1M190 184.5h1.1M170 184.5h1.1M157 194.5h1.1M170 202.5h1.1M178 189.5h1.1M182 219.5h1.1M174 186.5h1.1M172 180.5h1.1M199 165.5h1.1M168 199.5h1.1M184 207.5h1.1M162 230.5h1.1M178 200.5h1.1M169 199.5h1.1M164 163.5h1.1M153 180.5h1.1M157 185.5h1.1M178 213.5h1.1M171 187.5h1.1M181 166.5h1.1M162 164.5h1.1M172 185.5h1.1M172 194.5h1.1M154 170.5h1.1M182 179.5h1.1M178 180.5h1.1M175 185.5h1.1M184 187.5h1.1M194 205.5h1.1M165 159.5h1.1M179 225.5h1.1M200 193.5h1.1M175 209.5h1.1M198 165.5h1.1M151 225.5h1.1M189 213.5h1.1M153 190.5h1.1M179 235.5h1.1M184 219.5h1.1M190 191.5h1.1M194 164.5h1.1M174 220.5h1.1M167 192.5h1.1M175 193.5h1.1M183 167.5h1.1M170 194.5h1.1M176 194.5h1.1M184 204.5h1.1M178 211.5h1.1M203 192.5h1.1M208 165.5h1.1M161 170.5h1.1M169 193.5h1.1M160 193.5h1.1M164 226.5h1.1M182 196.5h1.1M165 223.5h1.1M164 199.5h1.1M173 184.5h1.1M171 190.5h1.1M171 190.5h1.1M186 197.5h1.1M178 222.5h1.1M182 186.5h1.1M186 198.5h1.1M163 179.5h1.1M177 204.5h1.1M168 162.5h1.1M190 178.5h1.1M187 181.5h1.1M163 188.5h1.1M193 183.5h1.1M163 222.5h1.1M186 213.5h1.1M179 174.5h1.1M166 198.5h1.1M172 180.5h1.1M176 185.5h1.1M167 207.5h1.1M185 168.5h1.1M159 190.5h1.1M173 234.5h1.1M152 175.5h1.1M176 231.5h1.1M160 171.5h1.1M168 208.5h1.1M173 190.5h1.1M187 186.5h1.1M170 210.5h1.1M189 212.5h1.1M182 232.5h1.1M185 226.5h1.1M177 223.5h1.1M179 232.5h1.1M186 198.5h1.1M177 205.5h1.1M174 169.5h1.1M155 167.5h1.1M184 187.5h1.1M179 195.5h1.1M160 187.5h1.1M177 190.5h1.1M180 229.5h1.1M174 203.5h1.1M188 166.5h1.1M181 218.5h1.1M160 217.5h1.1M172 196.5h1.1M180 201.5h1.1M188 183.5h1.1M189 208.5h1.1M152 184.5h1.1M175 192.5h1.1M180 223.5h1.1M189 198.5h1.1M195 196.5h1.1M171 189.5h1.1M165 229.5h1.1M184 203.5h1.1M159 183.5h1.1M191 185.5h1.1M184 212.5h1.1M148 177.5h1.1M168 173.5h1.1M161 221.5h1.1M172 201.5h1.1M175 169.5h1.1M181 231.5h1.1M181 168.5h1.1M176 223.5h1.1M170 189.5h1.1M175 196.5h1.1M174 186.5h1.1M186 177.5h1.1M174 186.5h1.1M185 212.5h1.1M153 163.5h1.1M193 169.5h1.1M173 216.5h1.1M187 203.5h1.1M188 171.5h1.1M196 175.5h1.1M169 193.5h1.1M176 197.5h1.1M173 202.5h1.1M177 201.5h1.1M159 216.5h1.1M175 165.5h1.1M172 200.5h1.1M166 183.5h1.1M174 181.5h1.1M193 187.5h1.1M177 235.5h1.1M165 187.5h1.1M162 195.5h1.1M179 193.5h1.1M156 198.5h1.1M167 222.5h1.1M171 198.5h1.1M178 196.5h1.1M177 177.5h1.1M195 205.5h1.1M185 171.5h1.1M160 178.5h1.1M186 197.5h1.1M159 179.5h1.1M178 169.5h1.1M161 191.5h1.1M165 174.5h1.1M188 210.5h1.1M169 199.5h1.1M168 170.5h1.1M169 205.5h1.1M171 214.5h1.1M191 199.5h1.1M161 189.5h1.1M161 184.5h1.1M157 198.5h1.1M171 196.5h1.1M190 187.5h1.1M177 172.5h1.1M170 183.5h1.1M167 211.5h1.1M165 203.5h1.1M168 203.5h1.1M177 198.5h1.1M193 176.5h1.1M186 196.5h1.1M169 224.5h1.1M167 193.5h1.1M187 162.5h1.1M153 178.5h1.1M171 164.5h1.1M172 176.5h1.1M163 184.5h1.1M181 176.5h1.1M154 166.5h1.1M164 188.5h1.1M168 237.5h1.1M177 177.5h1.1M160 206.5h1.1M187 200.5h1.1M172 181.5h1.1M172 215.5h1.1M171 184.5h1.1M167 178.5h1.1M163 179.5h1.1M188 200.5h1.1M173 224.5h1.1M189 179.5h1.1M167 195.5h1.1M184 176.5h1.1M176 175.5h1.1M164 165.5h1.1M183 203.5h1.1M157 181.5h1.1M183 189.5h1.1M165 203.5h1.1M182 169.5h1.1M195 171.5h1.1M180 206.5h1.1M168 173.5h1.1M176 174.5h1.1M170 222.5h1.1M161 192.5h1.1M164 234.5h1.1M152 168.5h1.1M174 198.5h1.1M178 221.5h1.1M176 203.5h1.1M163 184.5h1.1M190 173.5h1.1M162 212.5h1.1M185 168.5h1.1M199 166.5h1.1M149 175.5h1.1M178 193.5h1.1M175 236.5h1.1M178 186.5h1.1M166 221.5h1.1M172 174.5h1.1M158 182.5h1.1M177 184.5h1.1M183 178.5h1.1M167 229.5h1.1M163 168.5h1.1M169 228.5h1.1M174 200.5h1.1M174 212.5h1.1M174 177.5h1.1M175 211.5h1.1M158 165.5h1.1M181 201.5h1.1M194 177.5h1.1M156 168.5h1.1M167 175.5h1.1M179 184.5h1.1M187 182.5h1.1M186 163.5h1.1M187 210.5h1.1M175 169.5h1.1M179 199.5h1.1M181 177.5h1.1M170 165.5h1.1M185 216.5h1.1M183 186.5h1.1M185 202.5h1.1M170 203.5h1.1M186 199.5h1.1M162 176.5h1.1M178 203.5h1.1M149 218.5h1.1M162 177.5h1.1M186 172.5h1.1M170 179.5h1.1M175 223.5h1.1M156 189.5h1.1M184 238.5h1.1M183 182.5h1.1M174 192.5h1.1M175 240.5h1.1M188 212.5h1.1M179 171.5h1.1M158 192.5h1.1M172 190.5h1.1M193 172.5h1.1M178 231.5h1.1M170 202.5h1.1M184 175.5h1.1M177 171.5h1.1M181 197.5h1.1M154 165.5h1.1M165 220.5h1.1M184 182.5h1.1M173 169.5h1.1M178 206.5h1.1M201 175.5h1.1M171 188.5h1.1M177 196.5h1.1M168 173.5h1.1M168 202.5h1.1M172 233.5h1.1M160 223.5h1.1M150 190.5h1.1M187 214.5h1.1M174 172.5h1.1M189 187.5h1.1M174 225.5h1.1M178 172.5h1.1M182 196.5h1.1M181 215.5h1.1M161 195.5h1.1M163 183.5h1.1M178 180.5h1.1M211 168.5h1.1M175 197.5h1.1M194 195.5h1.1" stroke="#000" stroke-width="1.1" stroke-opacity="0.72" fill="none"/>
<path d="M170 169.5h1.3M175 183.5h1.3M172 180.5h1.3M174 195.5h1.3M168 169.5h1.3M167 194.5h1.3M174 186.5h1.3M164 168.5h1.3M168 196.5h1.3M175 192.5h1.3M169 162.5h1.3M167 210.5h1.3M166 165.5h1.3M173 167.5h1.3M170 176.5h1.3M173 191.5h1.3M171 189.5h1.3M181 176.5h1.3M170 200.5h1.3M162 189.5h1.3M173 200.5h1.3M172 220.5h1.3M173 183.5h1.3M178 172.5h1.3M172 165.5h1.3M172 182.5h1.3M164 184.5h1.3M174 162.5h1.3M172 164.5h1.3M179 174.5h1.3M170 178.5h1.3M173 194.5h1.3M167 182.5h1.3M174 179.5h1.3M167 186.5h1.3M171 166.5h1.3M171 180.5h1.3M172 195.5h1.3M169 196.5h1.3M168 188.5h1.3M172 176.5h1.3M169 169.5h1.3M173 199.5h1.3M171 188.5h1.3M161 177.5h1.3M179 166.5h1.3M175 197.5h1.3M174 182.5h1.3M170 170.5h1.3M165 178.5h1.3M176 217.5h1.3M177 196.5h1.3M175 160.5h1.3M174 178.5h1.3M174 162.5h1.3M172 155.5h1.3M173 182.5h1.3M172 215.5h1.3M174 202.5h1.3M167 182.5h1.3M169 176.5h1.3M175 182.5h1.3M170 196.5h1.3M160 162.5h1.3M161 211.5h1.3M182 181.5h1.3M176 203.5h1.3M175 183.5h1.3M169 203.5h1.3M166 173.5h1.3M171 188.5h1.3M172 203.5h1.3M168 196.5h1.3M173 173.5h1.3M175 192.5h1.3M175 169.5h1.3M167 161.5h1.3M161 191.5h1.3M172 201.5h1.3M169 194.5h1.3M174 161.5h1.3M180 191.5h1.3M180 188.5h1.3M173 173.5h1.3M180 193.5h1.3M172 193.5h1.3M173 187.5h1.3M172 158.5h1.3M170 196.5h1.3M168 193.5h1.3M172 187.5h1.3M169 177.5h1.3M176 185.5h1.3M170 173.5h1.3M179 173.5h1.3M178 166.5h1.3M166 186.5h1.3M177 172.5h1.3M170 195.5h1.3M179 189.5h1.3M175 167.5h1.3M172 207.5h1.3M175 162.5h1.3M169 188.5h1.3M174 196.5h1.3M174 199.5h1.3M174 194.5h1.3M167 200.5h1.3M175 201.5h1.3M175 169.5h1.3M174 178.5h1.3M176 172.5h1.3M169 201.5h1.3M187 166.5h1.3M171 199.5h1.3M173 188.5h1.3M168 160.5h1.3M179 163.5h1.3M170 174.5h1.3M177 180.5h1.3M167 196.5h1.3M174 177.5h1.3M170 194.5h1.3M177 155.5h1.3M168 176.5h1.3M174 186.5h1.3M166 176.5h1.3M167 166.5h1.3M176 185.5h1.3M163 212.5h1.3M176 177.5h1.3M170 170.5h1.3M168 169.5h1.3M173 209.5h1.3M175 179.5h1.3M169 190.5h1.3M171 199.5h1.3M176 195.5h1.3M176 165.5h1.3M172 194.5h1.3M168 194.5h1.3M168 189.5h1.3M169 196.5h1.3M176 171.5h1.3M175 178.5h1.3M174 172.5h1.3M179 189.5h1.3M171 171.5h1.3M170 186.5h1.3M170 164.5h1.3M182 176.5h1.3M162 178.5h1.3M174 178.5h1.3M175 181.5h1.3M173 177.5h1.3M184 173.5h1.3M176 195.5h1.3M168 172.5h1.3M175 176.5h1.3M171 168.5h1.3M173 195.5h1.3M173 166.5h1.3M170 188.5h1.3M175 197.5h1.3M180 202.5h1.3M177 196.5h1.3M173 189.5h1.3M163 165.5h1.3M178 198.5h1.3M178 196.5h1.3M171 193.5h1.3M170 193.5h1.3M176 180.5h1.3M168 174.5h1.3M176 195.5h1.3M167 201.5h1.3M168 166.5h1.3M172 194.5h1.3M165 186.5h1.3M172 193.5h1.3M175 183.5h1.3M166 199.5h1.3M177 194.5h1.3M170 194.5h1.3M175 159.5h1.3M173 192.5h1.3M170 182.5h1.3M170 164.5h1.3M164 193.5h1.3M169 161.5h1.3M169 195.5h1.3M180 203.5h1.3M177 171.5h1.3M166 196.5h1.3M176 186.5h1.3M174 190.5h1.3M171 161.5h1.3M175 189.5h1.3M176 181.5h1.3M170 192.5h1.3M171 181.5h1.3M173 196.5h1.3M168 186.5h1.3M173 190.5h1.3M172 201.5h1.3M169 184.5h1.3M168 196.5h1.3M174 183.5h1.3M177 187.5h1.3M174 172.5h1.3M168 193.5h1.3M176 197.5h1.3M173 179.5h1.3M175 191.5h1.3M178 185.5h1.3M168 165.5h1.3M172 186.5h1.3M170 201.5h1.3M168 175.5h1.3M177 182.5h1.3M164 173.5h1.3M175 208.5h1.3M170 181.5h1.3M178 179.5h1.3M173 171.5h1.3M172 184.5h1.3M173 172.5h1.3M174 167.5h1.3M173 180.5h1.3M171 169.5h1.3M172 200.5h1.3M175 163.5h1.3M167 181.5h1.3M172 170.5h1.3M172 160.5h1.3M170 206.5h1.3M166 204.5h1.3M171 160.5h1.3M168 183.5h1.3M175 213.5h1.3M173 160.5h1.3M174 199.5h1.3M165 185.5h1.3M175 172.5h1.3M169 181.5h1.3M171 167.5h1.3M172 182.5h1.3M176 201.5h1.3M176 174.5h1.3M181 180.5h1.3M173 198.5h1.3M170 210.5h1.3M170 173.5h1.3M176 184.5h1.3M180 170.5h1.3M174 171.5h1.3M170 175.5h1.3M174 171.5h1.3M174 155.5h1.3M169 171.5h1.3M160 186.5h1.3M170 199.5h1.3M178 171.5h1.3M174 178.5h1.3M162 193.5h1.3M173 191.5h1.3M164 181.5h1.3M182 177.5h1.3M173 208.5h1.3M167 177.5h1.3M176 172.5h1.3M169 158.5h1.3M175 186.5h1.3M173 177.5h1.3M167 210.5h1.3M176 175.5h1.3M166 194.5h1.3M179 192.5h1.3M173 205.5h1.3M168 163.5h1.3M164 206.5h1.3M180 178.5h1.3M180 177.5h1.3M166 178.5h1.3M180 172.5h1.3M173 175.5h1.3M172 188.5h1.3M171 182.5h1.3M179 165.5h1.3M173 179.5h1.3M164 217.5h1.3M183 183.5h1.3M177 174.5h1.3M167 207.5h1.3M171 169.5h1.3M168 180.5h1.3M173 172.5h1.3M174 177.5h1.3M174 191.5h1.3M170 190.5h1.3M169 171.5h1.3M177 177.5h1.3M172 182.5h1.3M183 171.5h1.3M169 181.5h1.3M176 169.5h1.3M173 170.5h1.3M169 182.5h1.3M179 164.5h1.3M173 186.5h1.3M168 179.5h1.3M171 168.5h1.3M177 170.5h1.3M167 175.5h1.3M179 176.5h1.3M176 181.5h1.3M171 178.5h1.3M179 166.5h1.3M181 199.5h1.3M175 193.5h1.3M173 182.5h1.3M181 192.5h1.3M180 183.5h1.3M168 178.5h1.3M171 182.5h1.3M171 219.5h1.3M171 195.5h1.3M165 198.5h1.3M177 173.5h1.3M173 189.5h1.3M173 213.5h1.3M179 185.5h1.3M170 197.5h1.3M172 199.5h1.3M174 189.5h1.3M170 204.5h1.3M172 184.5h1.3M176 187.5h1.3M172 171.5h1.3M179 217.5h1.3M169 186.5h1.3M173 182.5h1.3M166 203.5h1.3M172 174.5h1.3M169 181.5h1.3M179 167.5h1.3M176 180.5h1.3M175 174.5h1.3M182 186.5h1.3M180 177.5h1.3M176 171.5h1.3M169 177.5h1.3M165 181.5h1.3M172 173.5h1.3M171 194.5h1.3M169 191.5h1.3M171 183.5h1.3M164 166.5h1.3M180 186.5h1.3M167 164.5h1.3M169 184.5h1.3M175 180.5h1.3M165 174.5h1.3M177 167.5h1.3M177 169.5h1.3M171 210.5h1.3M167 178.5h1.3M170 178.5h1.3M163 197.5h1.3M179 184.5h1.3M173 196.5h1.3M169 164.5h1.3M168 166.5h1.3M175 228.5h1.3M180 178.5h1.3M166 178.5h1.3M170 184.5h1.3M164 197.5h1.3M176 162.5h1.3M173 184.5h1.3M184 177.5h1.3M172 190.5h1.3M170 184.5h1.3M169 174.5h1.3M177 167.5h1.3M176 193.5h1.3M174 159.5h1.3M170 175.5h1.3M168 206.5h1.3M178 173.5h1.3M182 187.5h1.3M170 178.5h1.3M175 190.5h1.3M181 178.5h1.3M169 174.5h1.3M171 200.5h1.3M166 178.5h1.3M172 161.5h1.3M172 176.5h1.3M170 189.5h1.3M169 165.5h1.3M165 194.5h1.3M166 193.5h1.3M168 212.5h1.3M176 170.5h1.3M170 191.5h1.3M168 158.5h1.3M176 173.5h1.3M175 181.5h1.3M169 187.5h1.3M169 180.5h1.3M176 178.5h1.3M174 171.5h1.3" stroke="#000" stroke-width="1.3" stroke-opacity="0.85" fill="none"/>
<path d="M197 162.5h1.15M166 184.5h1.15M184 181.5h1.15M203 163.5h1.15M170 175.5h1.15M208 163.5h1.15M190 176.5h1.15M175 177.5h1.15M191 160.5h1.15M190 169.5h1.15M206 164.5h1.15M206 172.5h1.15M201 157.5h1.15M184 179.5h1.15M174 175.5h1.15M193 169.5h1.15M181 174.5h1.15M185 169.5h1.15M187 159.5h1.15M191 161.5h1.15M199 165.5h1.15M191 172.5h1.15M187 168.5h1.15M193 166.5h1.15M205 158.5h1.15M180 172.5h1.15M177 181.5h1.15M180 173.5h1.15M183 167.5h1.15M195 170.5h1.15M183 172.5h1.15M197 163.5h1.15M209 162.5h1.15M201 169.5h1.15M201 164.5h1.15M184 175.5h1.15M185 176.5h1.15M181 167.5h1.15M177 173.5h1.15M195 159.5h1.15M187 173.5h1.15M200 165.5h1.15M187 172.5h1.15M195 166.5h1.15M192 166.5h1.15M207 155.5h1.15M184 176.5h1.15M179 174.5h1.15M177 169.5h1.15M190 173.5h1.15M206 163.5h1.15M208 159.5h1.15M182 166.5h1.15M202 155.5h1.15M191 160.5h1.15M177 183.5h1.15M174 169.5h1.15M200 159.5h1.15M177 167.5h1.15M203 157.5h1.15M192 168.5h1.15M185 177.5h1.15M188 165.5h1.15M191 165.5h1.15M183 179.5h1.15M199 166.5h1.15M205 158.5h1.15M201 170.5h1.15M195 162.5h1.15M182 171.5h1.15M206 163.5h1.15M202 161.5h1.15M197 158.5h1.15M195 160.5h1.15M185 172.5h1.15M178 165.5h1.15M206 163.5h1.15M180 167.5h1.15M185 171.5h1.15M191 160.5h1.15M180 174.5h1.15M194 175.5h1.15M207 166.5h1.15M192 171.5h1.15M196 165.5h1.15M177 176.5h1.15M189 169.5h1.15M180 177.5h1.15M185 167.5h1.15M182 174.5h1.15M178 170.5h1.15M187 176.5h1.15M205 164.5h1.15M186 171.5h1.15M205 156.5h1.15M185 168.5h1.15M183 167.5h1.15M184 168.5h1.15M200 159.5h1.15M187 174.5h1.15M189 155.5h1.15M198 180.5h1.15M184 171.5h1.15M171 179.5h1.15M184 179.5h1.15M190 155.5h1.15M198 162.5h1.15M188 178.5h1.15M173 179.5h1.15M197 157.5h1.15M180 170.5h1.15M216 159.5h1.15M189 165.5h1.15M200 160.5h1.15M187 165.5h1.15M187 167.5h1.15M182 179.5h1.15M180 189.5h1.15M183 171.5h1.15M212 162.5h1.15M209 158.5h1.15M173 171.5h1.15M185 167.5h1.15M175 183.5h1.15M182 175.5h1.15M197 169.5h1.15M190 165.5h1.15M194 172.5h1.15M185 176.5h1.15M195 167.5h1.15M197 163.5h1.15M202 156.5h1.15M193 160.5h1.15M186 165.5h1.15M194 166.5h1.15M183 162.5h1.15M198 160.5h1.15M204 163.5h1.15M182 175.5h1.15M191 165.5h1.15M196 164.5h1.15M191 157.5h1.15M184 184.5h1.15M198 170.5h1.15M191 162.5h1.15M188 174.5h1.15M194 172.5h1.15M192 172.5h1.15M169 167.5h1.15M180 169.5h1.15M179 171.5h1.15M190 166.5h1.15M190 163.5h1.15M189 168.5h1.15M206 155.5h1.15M205 161.5h1.15M202 162.5h1.15M194 155.5h1.15M218 157.5h1.15M194 176.5h1.15M206 162.5h1.15M186 173.5h1.15M197 159.5h1.15M191 170.5h1.15M202 157.5h1.15M189 174.5h1.15M185 161.5h1.15M205 173.5h1.15M184 170.5h1.15M189 165.5h1.15M193 165.5h1.15M191 165.5h1.15M194 166.5h1.15M192 162.5h1.15M203 158.5h1.15M174 179.5h1.15M182 176.5h1.15M171 177.5h1.15M183 181.5h1.15M177 173.5h1.15M206 155.5h1.15M184 161.5h1.15M193 161.5h1.15M192 170.5h1.15M205 160.5h1.15M174 178.5h1.15M191 166.5h1.15M174 165.5h1.15M185 176.5h1.15M178 180.5h1.15M182 166.5h1.15M184 174.5h1.15M177 182.5h1.15M212 161.5h1.15M185 169.5h1.15M188 165.5h1.15M201 171.5h1.15M188 170.5h1.15M192 164.5h1.15M194 167.5h1.15M181 167.5h1.15M196 164.5h1.15M187 168.5h1.15M196 166.5h1.15M185 164.5h1.15M179 179.5h1.15M175 173.5h1.15" stroke="#000" stroke-width="1.15" stroke-opacity="0.75" fill="none"/>
<path d="M143 217.5h1.2M115 165.5h1.2M132 184.5h1.2M143 190.5h1.2M129 163.5h1.2M108 208.5h1.2M123 188.5h1.2M134 194.5h1.2M115 180.5h1.2M136 179.5h1.2M112 200.5h1.2M104 217.5h1.2M117 179.5h1.2" stroke="#444" stroke-width="1.2" stroke-opacity="0.6" fill="none"/>
<path d="M354 117.5h1.3M361 130.5h1.3M371 117.5h1.3M349 119.5h1.3M363 121.5h1.3M354 116.5h1.3M353 120.5h1.3M364 121.5h1.3M349 120.5h1.3M346 121.5h1.3M363 127.5h1.3M356 124.5h1.3M354 115.5h1.3M355 120.5h1.3M361 125.5h1.3M353 119.5h1.3M364 122.5h1.3M361 121.5h1.3M371 123.5h1.3M369 120.5h1.3M365 120.5h1.3M355 118.5h1.3M358 123.5h1.3M351 117.5h1.3M384 128.5h1.3M355 122.5h1.3M362 120.5h1.3M370 125.5h1.3M344 122.5h1.3M349 122.5h1.3M353 121.5h1.3M347 119.5h1.3M345 118.5h1.3M352 118.5h1.3M369 126.5h1.3M364 118.5h1.3M357 120.5h1.3M357 119.5h1.3M341 126.5h1.3M363 130.5h1.3M361 117.5h1.3M346 125.5h1.3M359 122.5h1.3M355 120.5h1.3M352 124.5h1.3M347 116.5h1.3M350 126.5h1.3M348 123.5h1.3M361 117.5h1.3M360 129.5h1.3M360 125.5h1.3M355 127.5h1.3M353 115.5h1.3M376 119.5h1.3M339 120.5h1.3M368 124.5h1.3M360 128.5h1.3M357 113.5h1.3M352 122.5h1.3M355 121.5h1.3M345 127.5h1.3M344 122.5h1.3M356 116.5h1.3M341 121.5h1.3M365 116.5h1.3M367 117.5h1.3M324 123.5h1.3M342 120.5h1.3M359 123.5h1.3M359 114.5h1.3M358 132.5h1.3M361 127.5h1.3M364 125.5h1.3M365 115.5h1.3M374 111.5h1.3M357 117.5h1.3M365 120.5h1.3M341 133.5h1.3M355 128.5h1.3M345 120.5h1.3M370 127.5h1.3M379 126.5h1.3M362 121.5h1.3M344 128.5h1.3M356 123.5h1.3M357 118.5h1.3M359 116.5h1.3M367 120.5h1.3M366 126.5h1.3M332 116.5h1.3M370 113.5h1.3M352 124.5h1.3M351 109.5h1.3M370 129.5h1.3M354 120.5h1.3M344 126.5h1.3M344 131.5h1.3M357 115.5h1.3M365 116.5h1.3M371 131.5h1.3M355 120.5h1.3M352 121.5h1.3M372 122.5h1.3M352 127.5h1.3M371 127.5h1.3M359 122.5h1.3M359 120.5h1.3M355 121.5h1.3M360 123.5h1.3M352 128.5h1.3M350 122.5h1.3M355 130.5h1.3M351 118.5h1.3M360 124.5h1.3M358 130.5h1.3M354 128.5h1.3M355 123.5h1.3M355 117.5h1.3M373 117.5h1.3M357 121.5h1.3M351 123.5h1.3M354 120.5h1.3M363 114.5h1.3M355 118.5h1.3M355 124.5h1.3M354 126.5h1.3M358 115.5h1.3M360 120.5h1.3M361 113.5h1.3M341 120.5h1.3M347 139.5h1.3M332 123.5h1.3M364 120.5h1.3M367 118.5h1.3M369 115.5h1.3M358 113.5h1.3M368 121.5h1.3M356 120.5h1.3M356 128.5h1.3M342 115.5h1.3M349 124.5h1.3M351 128.5h1.3M365 112.5h1.3M373 124.5h1.3M352 114.5h1.3M360 124.5h1.3M359 128.5h1.3M349 122.5h1.3M340 124.5h1.3M350 119.5h1.3M343 124.5h1.3M354 127.5h1.3M355 121.5h1.3M355 121.5h1.3M355 123.5h1.3M361 125.5h1.3M348 114.5h1.3M365 121.5h1.3M341 119.5h1.3M357 124.5h1.3M360 126.5h1.3M349 123.5h1.3M342 128.5h1.3M363 117.5h1.3M350 120.5h1.3M364 117.5h1.3M364 121.5h1.3M357 122.5h1.3M357 121.5h1.3M366 115.5h1.3M360 121.5h1.3M348 120.5h1.3M358 124.5h1.3M362 120.5h1.3M359 127.5h1.3M359 123.5h1.3M355 113.5h1.3M356 121.5h1.3M348 115.5h1.3M343 127.5h1.3M367 128.5h1.3M351 122.5h1.3M359 123.5h1.3M343 115.5h1.3M358 111.5h1.3M349 119.5h1.3M385 119.5h1.3M347 115.5h1.3M348 122.5h1.3M366 123.5h1.3M367 124.5h1.3M337 130.5h1.3M359 125.5h1.3M365 119.5h1.3M345 123.5h1.3M363 124.5h1.3M352 117.5h1.3M347 128.5h1.3M353 126.5h1.3M352 121.5h1.3M344 119.5h1.3M378 138.5h1.3M352 126.5h1.3M350 126.5h1.3M365 130.5h1.3M356 126.5h1.3M369 122.5h1.3M354 125.5h1.3M360 117.5h1.3M358 125.5h1.3M358 114.5h1.3M355 124.5h1.3M356 124.5h1.3M373 113.5h1.3M350 131.5h1.3M352 116.5h1.3M353 127.5h1.3M362 119.5h1.3M361 123.5h1.3M366 118.5h1.3M344 134.5h1.3M359 126.5h1.3M355 130.5h1.3M354 125.5h1.3M358 125.5h1.3M338 123.5h1.3M359 120.5h1.3M358 124.5h1.3M343 123.5h1.3M356 121.5h1.3M371 114.5h1.3M353 120.5h1.3M362 124.5h1.3M355 119.5h1.3M349 124.5h1.3M348 121.5h1.3M353 117.5h1.3M369 117.5h1.3M364 118.5h1.3M350 121.5h1.3M366 120.5h1.3M356 127.5h1.3M350 117.5h1.3M361 112.5h1.3M348 125.5h1.3M342 120.5h1.3M369 120.5h1.3M340 134.5h1.3M362 128.5h1.3M342 125.5h1.3M356 126.5h1.3M355 122.5h1.3M353 126.5h1.3M336 120.5h1.3M356 118.5h1.3M356 119.5h1.3M348 129.5h1.3M356 129.5h1.3M366 118.5h1.3M350 127.5h1.3M359 121.5h1.3M346 127.5h1.3M360 120.5h1.3M363 126.5h1.3M380 120.5h1.3M365 120.5h1.3M361 121.5h1.3M370 122.5h1.3M347 119.5h1.3M367 115.5h1.3M352 130.5h1.3M351 120.5h1.3M367 113.5h1.3M359 111.5h1.3M369 108.5h1.3M343 119.5h1.3M359 128.5h1.3M352 114.5h1.3M354 120.5h1.3M339 114.5h1.3M366 126.5h1.3M359 123.5h1.3M348 124.5h1.3M344 129.5h1.3M349 130.5h1.3M370 126.5h1.3M356 119.5h1.3M354 116.5h1.3M361 117.5h1.3M357 113.5h1.3M359 130.5h1.3M364 120.5h1.3M360 122.5h1.3M365 122.5h1.3M346 132.5h1.3M357 119.5h1.3M354 127.5h1.3M358 123.5h1.3M356 121.5h1.3M351 113.5h1.3M354 126.5h1.3M366 118.5h1.3M352 120.5h1.3M345 123.5h1.3M362 122.5h1.3M366 127.5h1.3M354 119.5h1.3M358 122.5h1.3M349 123.5h1.3M355 122.5h1.3M367 124.5h1.3M364 120.5h1.3M358 127.5h1.3M354 118.5h1.3M342 116.5h1.3M360 121.5h1.3M361 127.5h1.3M367 119.5h1.3M376 118.5h1.3M360 120.5h1.3M366 122.5h1.3M347 121.5h1.3M368 123.5h1.3M365 113.5h1.3M370 128.5h1.3M363 124.5h1.3M361 117.5h1.3M371 127.5h1.3M351 124.5h1.3M363 128.5h1.3M367 116.5h1.3M350 130.5h1.3M346 122.5h1.3M361 112.5h1.3M358 125.5h1.3M363 120.5h1.3M363 117.5h1.3M350 121.5h1.3M360 112.5h1.3M368 124.5h1.3M354 121.5h1.3M354 121.5h1.3M347 129.5h1.3M365 121.5h1.3M375 118.5h1.3M344 118.5h1.3M364 121.5h1.3M365 126.5h1.3M352 119.5h1.3M354 117.5h1.3M347 127.5h1.3M350 122.5h1.3M359 121.5h1.3M363 131.5h1.3M358 116.5h1.3M365 122.5h1.3M359 113.5h1.3M346 121.5h1.3M371 124.5h1.3M368 126.5h1.3M351 116.5h1.3M374 125.5h1.3M362 125.5h1.3M358 121.5h1.3M375 132.5h1.3M334 123.5h1.3M342 118.5h1.3M364 123.5h1.3M355 113.5h1.3M348 129.5h1.3M371 126.5h1.3M362 120.5h1.3M345 125.5h1.3M351 125.5h1.3M365 130.5h1.3M374 118.5h1.3M339 116.5h1.3M360 112.5h1.3M354 120.5h1.3M341 115.5h1.3M356 121.5h1.3M342 124.5h1.3M352 120.5h1.3M372 117.5h1.3M362 127.5h1.3M365 120.5h1.3M363 123.5h1.3M361 126.5h1.3M366 115.5h1.3M346 118.5h1.3M354 134.5h1.3M365 121.5h1.3M351 117.5h1.3M353 121.5h1.3M368 118.5h1.3M372 115.5h1.3M352 120.5h1.3M350 122.5h1.3M363 121.5h1.3M360 124.5h1.3M351 114.5h1.3M363 114.5h1.3M362 125.5h1.3M358 120.5h1.3M385 126.5h1.3M370 122.5h1.3M365 115.5h1.3M367 124.5h1.3M385 116.5h1.3M368 122.5h1.3M351 128.5h1.3M360 131.5h1.3M358 121.5h1.3M352 125.5h1.3M360 123.5h1.3M360 125.5h1.3M357 110.5h1.3M353 120.5h1.3M365 123.5h1.3M343 125.5h1.3M365 118.5h1.3M357 126.5h1.3M360 127.5h1.3M335 123.5h1.3M373 120.5h1.3M341 121.5h1.3M349 123.5h1.3M363 127.5h1.3M352 129.5h1.3M354 120.5h1.3M337 118.5h1.3M353 118.5h1.3M359 126.5h1.3M364 122.5h1.3M355 123.5h1.3M359 124.5h1.3M361 123.5h1.3M351 121.5h1.3M350 117.5h1.3M376 118.5h1.3M350 123.5h1.3M369 123.5h1.3M358 120.5h1.3M371 119.5h1.3M351 128.5h1.3M362 119.5h1.3M361 123.5h1.3M355 120.5h1.3M360 117.5h1.3M350 115.5h1.3M357 119.5h1.3M354 118.5h1.3M365 125.5h1.3M357 116.5h1.3M344 120.5h1.3M354 125.5h1.3M357 121.5h1.3M349 124.5h1.3M370 125.5h1.3M361 114.5h1.3M365 119.5h1.3M350 118.5h1.3M354 128.5h1.3M367 121.5h1.3M344 125.5h1.3M361 129.5h1.3M358 120.5h1.3M353 122.5h1.3M358 124.5h1.3M347 121.5h1.3M360 127.5h1.3M346 126.5h1.3M346 127.5h1.3M370 121.5h1.3M351 120.5h1.3M338 121.5h1.3M367 120.5h1.3M350 114.5h1.3M325 125.5h1.3M357 125.5h1.3M366 121.5h1.3M361 119.5h1.3M373 121.5h1.3M356 123.5h1.3M363 123.5h1.3M348 130.5h1.3M359 118.5h1.3M372 123.5h1.3M362 125.5h1.3M359 122.5h1.3M339 121.5h1.3M354 117.5h1.3M345 119.5h1.3M365 125.5h1.3M351 129.5h1.3M361 118.5h1.3M348 124.5h1.3M375 123.5h1.3M346 127.5h1.3M359 123.5h1.3M382 123.5h1.3M359 126.5h1.3M349 117.5h1.3M363 122.5h1.3M367 113.5h1.3M366 112.5h1.3M339 119.5h1.3M359 114.5h1.3M338 125.5h1.3M375 125.5h1.3M358 120.5h1.3M353 121.5h1.3M364 120.5h1.3M362 120.5h1.3M346 123.5h1.3M373 123.5h1.3M355 120.5h1.3M341 119.5h1.3M371 119.5h1.3M372 125.5h1.3M369 119.5h1.3M363 128.5h1.3M349 121.5h1.3M366 128.5h1.3M375 115.5h1.3M365 118.5h1.3M372 123.5h1.3M350 124.5h1.3M367 120.5h1.3M366 131.5h1.3M343 123.5h1.3M342 124.5h1.3M351 119.5h1.3M358 129.5h1.3M362 125.5h1.3M355 124.5h1.3M357 114.5h1.3M356 123.5h1.3M358 119.5h1.3M363 123.5h1.3M362 126.5h1.3M357 118.5h1.3M360 123.5h1.3M353 126.5h1.3M365 122.5h1.3M353 120.5h1.3M373 116.5h1.3M357 119.5h1.3M360 116.5h1.3M350 127.5h1.3M354 122.5h1.3M359 116.5h1.3M358 122.5h1.3M352 116.5h1.3M347 107.5h1.3M358 127.5h1.3M359 127.5h1.3M363 115.5h1.3M369 118.5h1.3M355 123.5h1.3M339 121.5h1.3M356 118.5h1.3M340 120.5h1.3M345 121.5h1.3M367 119.5h1.3M363 122.5h1.3M351 121.5h1.3M352 118.5h1.3M357 122.5h1.3M341 115.5h1.3M362 128.5h1.3M354 114.5h1.3M375 120.5h1.3M348 124.5h1.3M367 123.5h1.3M351 123.5h1.3M367 127.5h1.3M348 117.5h1.3M364 121.5h1.3M353 122.5h1.3M350 120.5h1.3M356 119.5h1.3M362 127.5h1.3M361 118.5h1.3M372 119.5h1.3M365 120.5h1.3M333 122.5h1.3M354 123.5h1.3M339 122.5h1.3M354 123.5h1.3M363 122.5h1.3M345 124.5h1.3M346 128.5h1.3M359 118.5h1.3M355 129.5h1.3M373 119.5h1.3M361 124.5h1.3M363 122.5h1.3M374 119.5h1.3M353 113.5h1.3M358 129.5h1.3M348 119.5h1.3M360 118.5h1.3M367 126.5h1.3M370 121.5h1.3M357 130.5h1.3M351 130.5h1.3M350 125.5h1.3M344 123.5h1.3M359 125.5h1.3M370 115.5h1.3M335 123.5h1.3M337 123.5h1.3M371 119.5h1.3M342 123.5h1.3M361 115.5h1.3M346 126.5h1.3M365 127.5h1.3M365 115.5h1.3M359 122.5h1.3M365 128.5h1.3M358 123.5h1.3M363 117.5h1.3M375 116.5h1.3M368 125.5h1.3M351 130.5h1.3M350 117.5h1.3M355 122.5h1.3M355 118.5h1.3M358 120.5h1.3M352 123.5h1.3M364 121.5h1.3M358 118.5h1.3M361 131.5h1.3M358 121.5h1.3M363 120.5h1.3M346 127.5h1.3M373 121.5h1.3M361 120.5h1.3M362 126.5h1.3M363 117.5h1.3M368 124.5h1.3M365 126.5h1.3M360 124.5h1.3M356 121.5h1.3M342 122.5h1.3M360 114.5h1.3M355 121.5h1.3M355 123.5h1.3M381 124.5h1.3M340 123.5h1.3M358 120.5h1.3M369 117.5h1.3M367 121.5h1.3M369 122.5h1.3M346 128.5h1.3M349 122.5h1.3M364 119.5h1.3M355 121.5h1.3M374 119.5h1.3M360 120.5h1.3M360 111.5h1.3M362 114.5h1.3M355 116.5h1.3M359 124.5h1.3M351 122.5h1.3M357 122.5h1.3M353 127.5h1.3M360 117.5h1.3M344 127.5h1.3M344 124.5h1.3M362 118.5h1.3M360 128.5h1.3M349 116.5h1.3M356 117.5h1.3M348 121.5h1.3M377 122.5h1.3M343 121.5h1.3M374 111.5h1.3M350 121.5h1.3M362 121.5h1.3M355 133.5h1.3M354 128.5h1.3M367 122.5h1.3M366 116.5h1.3M355 123.5h1.3M349 117.5h1.3M378 122.5h1.3M371 123.5h1.3M359 120.5h1.3M355 123.5h1.3M361 120.5h1.3M359 119.5h1.3M369 128.5h1.3M349 125.5h1.3M358 120.5h1.3M350 118.5h1.3M370 122.5h1.3M375 123.5h1.3M357 125.5h1.3M363 128.5h1.3M371 123.5h1.3M355 117.5h1.3M349 131.5h1.3M368 126.5h1.3M363 125.5h1.3M356 128.5h1.3M372 114.5h1.3M360 120.5h1.3M341 120.5h1.3M361 127.5h1.3M357 116.5h1.3M376 119.5h1.3M358 128.5h1.3M356 125.5h1.3M362 120.5h1.3M360 130.5h1.3M344 116.5h1.3M359 124.5h1.3M355 121.5h1.3M371 123.5h1.3M381 119.5h1.3M347 118.5h1.3M349 123.5h1.3M350 116.5h1.3M352 124.5h1.3M351 120.5h1.3M358 126.5h1.3M368 119.5h1.3M346 119.5h1.3M343 124.5h1.3M340 128.5h1.3M368 112.5h1.3M370 121.5h1.3M343 125.5h1.3M342 116.5h1.3M359 117.5h1.3M368 124.5h1.3M368 117.5h1.3M360 119.5h1.3M364 129.5h1.3M361 117.5h1.3M353 118.5h1.3M376 110.5h1.3M358 117.5h1.3M347 116.5h1.3M353 129.5h1.3M343 128.5h1.3M358 116.5h1.3M368 130.5h1.3M346 126.5h1.3M369 120.5h1.3M378 124.5h1.3M361 123.5h1.3M347 119.5h1.3M350 114.5h1.3M355 118.5h1.3M346 122.5h1.3M346 120.5h1.3M355 118.5h1.3M356 126.5h1.3M364 116.5h1.3M346 126.5h1.3M376 118.5h1.3M368 122.5h1.3M366 116.5h1.3M352 122.5h1.3M374 117.5h1.3M355 114.5h1.3M375 121.5h1.3M368 121.5h1.3M349 126.5h1.3M354 123.5h1.3M376 116.5h1.3M367 118.5h1.3M356 110.5h1.3M360 116.5h1.3M360 127.5h1.3M351 129.5h1.3M356 125.5h1.3M352 123.5h1.3M354 124.5h1.3M362 123.5h1.3M349 114.5h1.3M365 117.5h1.3M359 127.5h1.3M365 126.5h1.3M366 122.5h1.3M370 120.5h1.3M364 119.5h1.3M365 119.5h1.3M356 117.5h1.3M363 113.5h1.3M349 123.5h1.3M356 120.5h1.3M365 120.5h1.3M357 129.5h1.3M362 124.5h1.3M348 119.5h1.3M371 123.5h1.3M352 115.5h1.3M362 126.5h1.3M358 123.5h1.3M367 120.5h1.3M354 124.5h1.3M348 129.5h1.3M340 120.5h1.3M355 117.5h1.3M347 132.5h1.3M363 121.5h1.3M372 128.5h1.3M337 119.5h1.3M346 124.5h1.3M361 118.5h1.3M370 124.5h1.3M361 120.5h1.3M361 118.5h1.3M363 128.5h1.3M363 123.5h1.3M374 112.5h1.3M364 120.5h1.3M346 118.5h1.3M353 116.5h1.3M360 119.5h1.3M350 120.5h1.3M355 122.5h1.3M353 118.5h1.3M351 113.5h1.3M365 119.5h1.3M354 126.5h1.3M347 116.5h1.3M351 125.5h1.3M358 124.5h1.3M378 118.5h1.3M360 123.5h1.3M372 117.5h1.3M363 119.5h1.3M337 118.5h1.3M362 123.5h1.3M350 128.5h1.3M345 119.5h1.3M348 127.5h1.3M375 111.5h1.3M343 118.5h1.3M352 117.5h1.3M369 129.5h1.3M364 118.5h1.3M342 126.5h1.3M357 112.5h1.3M353 122.5h1.3M356 124.5h1.3M365 121.5h1.3M352 109.5h1.3M355 122.5h1.3M372 124.5h1.3M340 128.5h1.3M354 123.5h1.3M362 114.5h1.3M346 121.5h1.3M352 126.5h1.3M345 118.5h1.3M359 124.5h1.3M352 120.5h1.3M365 122.5h1.3M368 124.5h1.3M358 118.5h1.3M354 135.5h1.3M360 122.5h1.3M358 123.5h1.3M346 119.5h1.3M368 121.5h1.3M360 120.5h1.3M365 114.5h1.3M345 115.5h1.3M366 122.5h1.3M378 120.5h1.3M364 109.5h1.3M344 112.5h1.3M358 120.5h1.3M357 121.5h1.3M360 124.5h1.3M356 116.5h1.3M363 124.5h1.3M353 120.5h1.3M360 119.5h1.3M351 121.5h1.3M359 126.5h1.3M367 124.5h1.3M353 126.5h1.3M364 118.5h1.3M349 121.5h1.3M354 116.5h1.3M356 119.5h1.3M370 119.5h1.3M350 120.5h1.3M370 124.5h1.3M344 124.5h1.3M356 125.5h1.3M367 122.5h1.3M364 126.5h1.3M348 122.5h1.3M346 126.5h1.3M366 123.5h1.3M346 125.5h1.3M363 121.5h1.3M353 116.5h1.3M358 115.5h1.3M380 129.5h1.3M373 123.5h1.3M366 123.5h1.3M345 121.5h1.3M361 119.5h1.3M358 135.5h1.3M357 116.5h1.3M371 121.5h1.3M341 122.5h1.3M361 116.5h1.3M359 116.5h1.3M351 119.5h1.3M374 119.5h1.3M346 120.5h1.3M358 125.5h1.3M359 116.5h1.3M337 124.5h1.3M344 129.5h1.3M348 126.5h1.3M365 116.5h1.3M367 108.5h1.3M363 125.5h1.3M360 124.5h1.3M337 120.5h1.3M360 127.5h1.3M353 120.5h1.3M369 121.5h1.3M371 116.5h1.3M379 122.5h1.3M365 119.5h1.3M366 119.5h1.3M348 127.5h1.3M359 122.5h1.3M346 115.5h1.3M366 124.5h1.3M346 126.5h1.3M356 118.5h1.3M350 120.5h1.3M353 122.5h1.3M362 120.5h1.3M352 122.5h1.3M360 124.5h1.3M348 120.5h1.3M371 130.5h1.3M352 119.5h1.3M367 119.5h1.3M378 129.5h1.3M334 134.5h1.3M348 122.5h1.3M356 121.5h1.3M369 116.5h1.3M353 127.5h1.3M361 122.5h1.3M351 118.5h1.3M363 123.5h1.3M346 128.5h1.3M366 124.5h1.3M329 133.5h1.3M339 128.5h1.3M375 123.5h1.3M359 121.5h1.3M349 124.5h1.3M379 126.5h1.3M368 125.5h1.3M369 126.5h1.3M354 123.5h1.3M364 125.5h1.3M363 127.5h1.3M342 121.5h1.3M363 115.5h1.3M356 129.5h1.3M370 124.5h1.3M370 119.5h1.3M351 123.5h1.3M352 121.5h1.3M360 114.5h1.3M364 120.5h1.3M354 115.5h1.3M357 122.5h1.3M364 121.5h1.3M362 126.5h1.3M369 120.5h1.3M360 123.5h1.3M349 121.5h1.3M341 121.5h1.3M366 115.5h1.3M354 126.5h1.3M354 122.5h1.3M355 119.5h1.3M342 123.5h1.3M354 120.5h1.3M332 119.5h1.3M354 123.5h1.3M349 127.5h1.3M375 119.5h1.3M362 115.5h1.3M356 119.5h1.3M359 130.5h1.3M365 117.5h1.3M350 127.5h1.3M355 120.5h1.3M354 125.5h1.3M382 120.5h1.3M358 114.5h1.3M338 121.5h1.3M365 131.5h1.3M383 120.5h1.3M348 125.5h1.3M392 118.5h1.3M357 121.5h1.3M367 122.5h1.3M352 124.5h1.3M355 132.5h1.3M346 122.5h1.3M347 121.5h1.3M337 119.5h1.3M369 115.5h1.3M346 115.5h1.3M361 124.5h1.3M361 113.5h1.3M351 128.5h1.3M358 125.5h1.3M357 120.5h1.3M353 116.5h1.3M358 122.5h1.3M358 122.5h1.3M348 127.5h1.3M345 119.5h1.3M349 120.5h1.3M359 121.5h1.3M371 120.5h1.3M372 118.5h1.3M361 113.5h1.3M367 114.5h1.3M359 118.5h1.3M368 120.5h1.3M359 126.5h1.3M361 132.5h1.3M355 129.5h1.3M358 123.5h1.3M376 129.5h1.3M346 122.5h1.3M358 119.5h1.3M352 132.5h1.3M367 116.5h1.3M375 119.5h1.3M354 120.5h1.3M330 129.5h1.3M364 118.5h1.3M364 125.5h1.3M341 120.5h1.3M355 116.5h1.3M357 123.5h1.3M335 123.5h1.3M364 116.5h1.3M362 117.5h1.3M360 118.5h1.3M347 126.5h1.3M351 124.5h1.3M351 123.5h1.3M362 124.5h1.3M348 120.5h1.3M372 123.5h1.3M361 119.5h1.3M336 116.5h1.3M374 117.5h1.3M359 122.5h1.3M352 122.5h1.3M359 126.5h1.3M340 115.5h1.3M359 120.5h1.3M333 124.5h1.3M347 118.5h1.3M371 122.5h1.3M370 119.5h1.3M354 116.5h1.3M348 127.5h1.3M367 115.5h1.3M357 126.5h1.3M360 120.5h1.3M364 117.5h1.3M347 118.5h1.3M365 118.5h1.3M337 119.5h1.3M372 122.5h1.3M342 114.5h1.3M351 127.5h1.3M351 126.5h1.3M365 128.5h1.3M365 117.5h1.3M361 111.5h1.3M363 118.5h1.3M362 121.5h1.3M357 123.5h1.3M339 120.5h1.3M335 122.5h1.3M335 123.5h1.3M357 114.5h1.3M355 130.5h1.3M356 116.5h1.3M360 123.5h1.3M355 127.5h1.3M347 118.5h1.3M343 122.5h1.3M339 130.5h1.3M369 120.5h1.3M366 126.5h1.3M344 124.5h1.3M355 123.5h1.3M362 125.5h1.3M373 120.5h1.3M351 121.5h1.3M359 126.5h1.3M369 122.5h1.3M340 125.5h1.3M350 116.5h1.3M357 122.5h1.3M350 127.5h1.3M378 125.5h1.3M366 123.5h1.3M359 119.5h1.3M348 119.5h1.3M366 123.5h1.3M364 128.5h1.3M352 122.5h1.3M353 128.5h1.3M343 121.5h1.3M357 127.5h1.3M366 117.5h1.3M367 122.5h1.3M363 116.5h1.3M365 124.5h1.3M351 124.5h1.3M353 117.5h1.3M369 118.5h1.3M362 119.5h1.3M349 115.5h1.3M362 117.5h1.3M366 117.5h1.3M364 125.5h1.3M358 128.5h1.3M352 120.5h1.3M361 120.5h1.3M374 122.5h1.3M359 119.5h1.3M351 121.5h1.3M361 125.5h1.3M345 123.5h1.3M360 121.5h1.3M354 119.5h1.3M367 128.5h1.3M358 119.5h1.3M368 122.5h1.3M380 116.5h1.3M355 119.5h1.3M349 122.5h1.3M362 120.5h1.3M356 124.5h1.3M359 122.5h1.3M351 116.5h1.3M363 111.5h1.3M358 126.5h1.3M336 120.5h1.3M355 128.5h1.3M361 121.5h1.3M369 117.5h1.3M352 124.5h1.3M349 121.5h1.3M369 121.5h1.3M351 118.5h1.3M358 124.5h1.3M362 126.5h1.3M365 119.5h1.3M357 130.5h1.3M346 119.5h1.3M367 122.5h1.3M353 114.5h1.3M352 113.5h1.3M377 130.5h1.3M366 128.5h1.3M347 127.5h1.3M352 114.5h1.3M355 123.5h1.3M350 124.5h1.3M338 123.5h1.3M365 123.5h1.3M365 117.5h1.3M360 121.5h1.3M353 117.5h1.3M359 120.5h1.3M363 123.5h1.3M347 118.5h1.3M354 120.5h1.3M352 120.5h1.3M364 121.5h1.3M360 126.5h1.3M344 123.5h1.3M351 124.5h1.3M375 114.5h1.3M348 120.5h1.3M359 125.5h1.3M351 118.5h1.3M369 119.5h1.3M357 117.5h1.3M353 128.5h1.3M346 120.5h1.3M355 118.5h1.3M365 124.5h1.3M364 126.5h1.3M344 124.5h1.3M373 125.5h1.3M355 123.5h1.3M347 121.5h1.3M358 119.5h1.3M351 120.5h1.3M351 119.5h1.3M351 124.5h1.3M356 121.5h1.3M352 122.5h1.3M340 125.5h1.3M362 121.5h1.3M352 116.5h1.3M369 117.5h1.3M362 116.5h1.3M363 113.5h1.3M359 122.5h1.3M370 115.5h1.3M354 116.5h1.3M347 117.5h1.3M361 125.5h1.3M330 121.5h1.3M353 126.5h1.3M359 121.5h1.3M353 120.5h1.3M369 124.5h1.3M364 124.5h1.3M358 122.5h1.3M353 117.5h1.3M368 119.5h1.3M350 116.5h1.3M353 121.5h1.3M364 122.5h1.3M363 128.5h1.3M377 127.5h1.3M355 125.5h1.3M339 127.5h1.3M364 122.5h1.3M369 134.5h1.3M355 129.5h1.3M372 133.5h1.3M375 122.5h1.3M351 124.5h1.3M352 127.5h1.3M345 123.5h1.3M362 123.5h1.3M364 117.5h1.3M363 126.5h1.3M345 123.5h1.3M350 126.5h1.3M343 121.5h1.3M341 114.5h1.3M344 124.5h1.3M342 128.5h1.3M355 116.5h1.3M361 117.5h1.3M363 120.5h1.3M357 120.5h1.3M350 114.5h1.3M357 130.5h1.3M363 126.5h1.3M354 119.5h1.3M358 113.5h1.3M354 123.5h1.3M352 131.5h1.3M357 125.5h1.3M346 127.5h1.3M367 117.5h1.3M342 123.5h1.3M362 114.5h1.3M344 131.5h1.3M372 123.5h1.3M366 111.5h1.3M349 113.5h1.3M353 124.5h1.3M346 123.5h1.3M356 120.5h1.3M361 124.5h1.3M382 129.5h1.3M344 124.5h1.3M369 113.5h1.3M351 121.5h1.3M360 115.5h1.3M366 117.5h1.3M362 123.5h1.3M361 121.5h1.3M355 117.5h1.3M357 121.5h1.3M358 118.5h1.3M369 123.5h1.3M343 121.5h1.3M352 123.5h1.3M345 121.5h1.3M348 125.5h1.3M349 121.5h1.3M368 121.5h1.3M378 118.5h1.3M370 121.5h1.3M345 114.5h1.3M358 134.5h1.3M346 119.5h1.3M361 122.5h1.3M369 119.5h1.3M363 119.5h1.3M366 123.5h1.3M356 119.5h1.3M338 120.5h1.3M338 116.5h1.3M356 117.5h1.3M363 116.5h1.3M369 129.5h1.3M354 116.5h1.3M358 116.5h1.3M359 122.5h1.3M367 127.5h1.3M356 114.5h1.3M346 115.5h1.3M368 121.5h1.3M361 123.5h1.3M361 115.5h1.3M345 114.5h1.3M357 117.5h1.3M340 126.5h1.3M337 122.5h1.3M355 125.5h1.3M353 121.5h1.3M363 121.5h1.3M371 124.5h1.3M357 121.5h1.3M374 122.5h1.3M351 118.5h1.3M364 118.5h1.3M345 124.5h1.3M358 120.5h1.3M354 118.5h1.3M355 125.5h1.3M363 124.5h1.3M339 122.5h1.3M358 118.5h1.3M349 126.5h1.3M358 133.5h1.3M361 117.5h1.3M353 115.5h1.3M353 118.5h1.3M346 118.5h1.3M362 115.5h1.3M350 116.5h1.3M361 125.5h1.3M343 126.5h1.3M370 128.5h1.3M347 125.5h1.3M368 119.5h1.3M353 127.5h1.3M362 118.5h1.3M356 120.5h1.3M364 116.5h1.3M357 127.5h1.3M369 125.5h1.3M364 119.5h1.3M364 120.5h1.3M373 121.5h1.3M350 123.5h1.3M370 125.5h1.3M358 122.5h1.3M343 124.5h1.3M362 114.5h1.3M355 120.5h1.3M373 112.5h1.3M352 130.5h1.3M357 128.5h1.3M359 125.5h1.3M338 127.5h1.3M362 130.5h1.3M347 126.5h1.3M371 113.5h1.3M373 120.5h1.3M357 111.5h1.3M342 118.5h1.3M359 116.5h1.3M359 121.5h1.3M364 123.5h1.3M354 117.5h1.3M345 121.5h1.3M356 123.5h1.3" stroke="#000" stroke-width="1.3" stroke-opacity="0.85" fill="none"/>
<path d="M353 120.5h1.05M353 119.5h1.05M347 106.5h1.05M373 119.5h1.05M362 119.5h1.05M325 138.5h1.05M351 99.5h1.05M362 114.5h1.05M336 142.5h1.05M370 109.5h1.05M339 115.5h1.05M349 135.5h1.05M354 142.5h1.05M403 108.5h1.05M350 110.5h1.05M344 112.5h1.05M371 109.5h1.05M346 109.5h1.05M360 107.5h1.05M362 115.5h1.05M356 121.5h1.05M329 121.5h1.05M385 98.5h1.05M351 124.5h1.05M352 119.5h1.05M329 115.5h1.05M322 119.5h1.05M344 121.5h1.05M324 123.5h1.05M367 113.5h1.05M374 120.5h1.05M343 129.5h1.05M322 119.5h1.05M348 117.5h1.05M334 109.5h1.05M360 113.5h1.05M360 120.5h1.05M347 126.5h1.05M358 117.5h1.05M378 111.5h1.05M392 102.5h1.05M345 120.5h1.05M371 102.5h1.05M351 118.5h1.05M334 120.5h1.05M383 102.5h1.05M364 118.5h1.05M359 113.5h1.05M364 121.5h1.05M353 112.5h1.05M334 125.5h1.05M393 125.5h1.05M375 114.5h1.05M362 123.5h1.05M376 106.5h1.05M383 107.5h1.05M352 98.5h1.05M368 112.5h1.05M349 106.5h1.05M370 115.5h1.05M351 96.5h1.05M407 98.5h1.05M349 118.5h1.05M367 118.5h1.05M366 97.5h1.05M349 113.5h1.05M376 138.5h1.05M354 124.5h1.05M347 119.5h1.05M356 88.5h1.05M340 109.5h1.05M381 116.5h1.05M369 116.5h1.05M377 117.5h1.05M328 131.5h1.05M362 116.5h1.05M340 127.5h1.05M358 97.5h1.05M383 136.5h1.05M362 112.5h1.05M352 110.5h1.05M380 127.5h1.05M377 118.5h1.05M395 119.5h1.05M317 117.5h1.05M363 117.5h1.05M347 125.5h1.05M338 108.5h1.05M359 113.5h1.05M332 118.5h1.05M337 112.5h1.05M351 104.5h1.05M395 113.5h1.05M341 121.5h1.05M332 132.5h1.05M315 123.5h1.05M349 110.5h1.05M351 102.5h1.05M359 116.5h1.05M326 118.5h1.05M340 139.5h1.05M360 131.5h1.05M323 113.5h1.05M380 109.5h1.05M367 105.5h1.05M364 129.5h1.05M363 116.5h1.05M334 116.5h1.05M379 111.5h1.05M334 132.5h1.05M396 99.5h1.05M361 120.5h1.05M317 110.5h1.05M374 110.5h1.05M398 101.5h1.05M351 120.5h1.05M379 113.5h1.05M352 129.5h1.05M343 125.5h1.05M382 98.5h1.05M347 109.5h1.05M364 110.5h1.05M332 118.5h1.05M337 112.5h1.05M380 122.5h1.05M348 127.5h1.05M348 115.5h1.05M330 116.5h1.05M361 113.5h1.05M373 112.5h1.05M347 117.5h1.05M352 100.5h1.05M331 116.5h1.05M386 91.5h1.05M343 118.5h1.05M353 123.5h1.05M392 99.5h1.05M351 118.5h1.05M324 116.5h1.05M337 112.5h1.05M349 137.5h1.05M394 118.5h1.05M361 120.5h1.05M352 112.5h1.05M374 117.5h1.05M384 109.5h1.05M340 123.5h1.05M386 101.5h1.05M374 112.5h1.05M366 110.5h1.05M360 132.5h1.05M386 119.5h1.05M351 109.5h1.05M405 92.5h1.05M358 108.5h1.05M335 111.5h1.05M369 107.5h1.05M363 99.5h1.05M374 104.5h1.05M352 117.5h1.05M384 115.5h1.05M345 98.5h1.05M359 115.5h1.05M330 111.5h1.05M340 108.5h1.05M361 112.5h1.05M343 111.5h1.05M347 124.5h1.05M352 124.5h1.05M362 112.5h1.05M373 106.5h1.05M373 131.5h1.05M378 131.5h1.05M361 119.5h1.05M345 116.5h1.05M323 132.5h1.05M349 132.5h1.05M340 113.5h1.05M318 141.5h1.05M391 108.5h1.05M318 134.5h1.05M364 109.5h1.05M368 114.5h1.05M352 112.5h1.05M357 126.5h1.05M340 109.5h1.05M394 106.5h1.05M340 124.5h1.05M326 116.5h1.05M335 140.5h1.05M343 103.5h1.05M357 141.5h1.05M364 108.5h1.05M324 131.5h1.05M364 131.5h1.05M404 112.5h1.05M341 104.5h1.05M354 113.5h1.05M371 114.5h1.05M382 117.5h1.05M342 128.5h1.05M336 131.5h1.05M335 135.5h1.05M380 102.5h1.05M376 122.5h1.05M310 106.5h1.05M311 125.5h1.05M330 110.5h1.05M325 103.5h1.05M365 123.5h1.05M361 114.5h1.05M398 118.5h1.05M373 96.5h1.05M359 103.5h1.05M382 110.5h1.05M338 112.5h1.05M327 122.5h1.05M357 109.5h1.05M377 108.5h1.05M322 110.5h1.05M376 125.5h1.05M375 109.5h1.05M346 105.5h1.05M360 122.5h1.05M351 122.5h1.05M358 117.5h1.05M374 115.5h1.05M339 115.5h1.05M379 110.5h1.05M375 90.5h1.05M376 96.5h1.05M315 111.5h1.05M317 126.5h1.05M371 125.5h1.05M344 116.5h1.05M342 116.5h1.05M340 130.5h1.05M328 117.5h1.05M350 123.5h1.05M341 123.5h1.05M343 105.5h1.05M367 117.5h1.05M331 122.5h1.05M381 99.5h1.05M328 135.5h1.05M369 135.5h1.05M376 119.5h1.05M356 132.5h1.05M372 99.5h1.05M354 130.5h1.05M319 143.5h1.05M364 131.5h1.05M381 101.5h1.05M345 129.5h1.05M320 121.5h1.05M344 129.5h1.05M363 108.5h1.05M363 115.5h1.05M380 105.5h1.05M368 118.5h1.05M367 113.5h1.05M314 135.5h1.05M404 115.5h1.05M358 120.5h1.05M375 112.5h1.05M349 114.5h1.05M353 116.5h1.05M358 123.5h1.05M390 111.5h1.05M389 113.5h1.05M370 113.5h1.05M399 107.5h1.05M348 110.5h1.05M368 94.5h1.05M347 123.5h1.05M384 116.5h1.05M357 106.5h1.05M378 131.5h1.05M394 97.5h1.05M312 134.5h1.05M403 110.5h1.05M363 118.5h1.05M350 129.5h1.05M316 133.5h1.05M350 117.5h1.05M359 103.5h1.05M353 118.5h1.05M396 125.5h1.05M350 126.5h1.05M380 111.5h1.05M382 114.5h1.05M401 115.5h1.05M351 134.5h1.05M373 105.5h1.05M324 129.5h1.05M333 123.5h1.05M351 109.5h1.05M356 105.5h1.05M331 133.5h1.05M348 121.5h1.05M372 111.5h1.05M347 118.5h1.05M353 126.5h1.05M338 120.5h1.05M387 127.5h1.05M395 106.5h1.05M361 107.5h1.05M354 115.5h1.05M393 99.5h1.05M367 110.5h1.05M342 131.5h1.05M328 138.5h1.05M344 124.5h1.05M404 109.5h1.05M344 109.5h1.05M357 119.5h1.05M352 118.5h1.05M385 104.5h1.05M352 112.5h1.05M365 130.5h1.05M334 130.5h1.05M330 121.5h1.05M341 121.5h1.05M362 128.5h1.05M343 122.5h1.05M315 126.5h1.05M367 98.5h1.05M353 99.5h1.05M351 97.5h1.05M344 95.5h1.05M391 113.5h1.05M347 109.5h1.05M368 118.5h1.05M387 115.5h1.05M381 110.5h1.05M361 100.5h1.05M357 130.5h1.05M364 129.5h1.05M376 106.5h1.05M369 133.5h1.05M347 118.5h1.05M367 106.5h1.05M365 110.5h1.05M372 94.5h1.05M361 111.5h1.05M386 94.5h1.05M361 126.5h1.05M376 115.5h1.05M358 101.5h1.05M345 124.5h1.05M337 102.5h1.05M354 118.5h1.05M369 118.5h1.05M384 111.5h1.05M355 104.5h1.05M346 116.5h1.05M346 116.5h1.05M385 111.5h1.05M359 130.5h1.05M346 135.5h1.05M373 129.5h1.05M329 114.5h1.05M359 107.5h1.05M356 116.5h1.05M354 121.5h1.05M332 99.5h1.05M378 105.5h1.05M393 127.5h1.05M328 108.5h1.05M360 107.5h1.05M371 106.5h1.05M406 112.5h1.05M348 117.5h1.05M337 116.5h1.05M357 100.5h1.05M400 114.5h1.05M358 115.5h1.05M363 108.5h1.05M395 109.5h1.05M311 132.5h1.05M310 109.5h1.05M377 96.5h1.05M374 102.5h1.05M327 112.5h1.05M368 82.5h1.05M358 109.5h1.05M362 126.5h1.05M340 115.5h1.05M347 128.5h1.05M338 89.5h1.05M358 114.5h1.05M352 131.5h1.05M393 125.5h1.05M371 108.5h1.05M323 113.5h1.05M366 118.5h1.05M388 97.5h1.05M363 111.5h1.05M380 94.5h1.05M356 116.5h1.05M372 113.5h1.05M337 136.5h1.05M374 116.5h1.05M327 114.5h1.05M385 109.5h1.05M324 108.5h1.05M311 124.5h1.05M368 111.5h1.05M353 121.5h1.05M359 125.5h1.05M366 93.5h1.05M356 119.5h1.05M338 127.5h1.05M362 102.5h1.05M364 134.5h1.05M368 106.5h1.05M400 133.5h1.05M341 126.5h1.05M358 125.5h1.05M369 116.5h1.05M347 128.5h1.05M331 110.5h1.05M345 109.5h1.05M380 91.5h1.05M351 122.5h1.05M370 106.5h1.05M341 126.5h1.05M367 120.5h1.05M342 104.5h1.05M339 126.5h1.05M359 118.5h1.05M358 117.5h1.05M389 114.5h1.05M322 122.5h1.05M368 114.5h1.05M392 120.5h1.05M386 100.5h1.05M349 105.5h1.05M342 110.5h1.05M346 128.5h1.05M363 111.5h1.05M361 135.5h1.05M365 82.5h1.05M370 106.5h1.05M334 115.5h1.05M333 123.5h1.05M331 134.5h1.05M328 119.5h1.05M355 105.5h1.05M364 123.5h1.05M368 87.5h1.05M357 121.5h1.05M388 113.5h1.05M341 110.5h1.05M364 109.5h1.05M378 115.5h1.05M374 113.5h1.05M366 111.5h1.05M349 105.5h1.05M330 123.5h1.05M354 109.5h1.05M344 119.5h1.05M372 107.5h1.05M354 118.5h1.05M369 121.5h1.05M322 124.5h1.05M378 118.5h1.05M339 105.5h1.05M323 126.5h1.05M327 124.5h1.05M343 111.5h1.05M381 109.5h1.05M372 84.5h1.05M332 121.5h1.05M359 111.5h1.05M355 92.5h1.05M323 127.5h1.05M336 113.5h1.05M313 126.5h1.05M338 116.5h1.05M340 119.5h1.05M337 116.5h1.05M340 124.5h1.05M339 127.5h1.05M382 88.5h1.05M350 117.5h1.05M362 108.5h1.05M373 101.5h1.05M376 125.5h1.05M372 123.5h1.05M345 107.5h1.05M333 108.5h1.05M340 127.5h1.05M347 111.5h1.05M357 112.5h1.05M355 95.5h1.05M381 110.5h1.05M355 128.5h1.05M396 104.5h1.05M379 110.5h1.05M347 135.5h1.05M375 121.5h1.05M387 117.5h1.05M366 126.5h1.05M366 97.5h1.05M321 114.5h1.05M352 139.5h1.05M354 118.5h1.05M381 110.5h1.05M353 108.5h1.05M339 108.5h1.05M371 84.5h1.05M335 143.5h1.05M373 112.5h1.05M360 116.5h1.05M381 96.5h1.05M331 120.5h1.05M384 114.5h1.05M363 113.5h1.05M399 114.5h1.05M343 109.5h1.05M397 111.5h1.05M372 122.5h1.05M374 118.5h1.05M341 122.5h1.05M369 112.5h1.05M371 103.5h1.05M339 124.5h1.05M332 116.5h1.05M340 109.5h1.05M388 118.5h1.05M360 98.5h1.05M377 106.5h1.05M363 122.5h1.05M359 125.5h1.05M362 111.5h1.05M348 118.5h1.05M383 116.5h1.05M361 114.5h1.05M362 107.5h1.05M327 125.5h1.05M364 116.5h1.05M342 119.5h1.05M346 129.5h1.05M379 114.5h1.05M334 115.5h1.05M353 118.5h1.05M370 133.5h1.05M382 103.5h1.05M346 115.5h1.05M364 106.5h1.05M363 118.5h1.05M333 107.5h1.05M311 128.5h1.05M316 131.5h1.05M370 105.5h1.05M359 106.5h1.05M328 105.5h1.05M343 118.5h1.05M348 105.5h1.05M349 110.5h1.05M356 111.5h1.05M404 100.5h1.05M340 127.5h1.05M360 131.5h1.05M340 97.5h1.05M343 110.5h1.05M338 121.5h1.05M352 105.5h1.05M345 112.5h1.05M364 116.5h1.05M362 129.5h1.05M338 131.5h1.05M398 105.5h1.05M332 121.5h1.05M365 110.5h1.05M404 105.5h1.05M342 106.5h1.05M385 92.5h1.05M387 106.5h1.05M364 124.5h1.05M317 131.5h1.05M387 91.5h1.05M359 113.5h1.05M345 111.5h1.05M384 113.5h1.05M341 107.5h1.05M380 121.5h1.05M345 115.5h1.05M368 119.5h1.05M334 129.5h1.05M348 97.5h1.05M337 117.5h1.05M342 134.5h1.05M361 115.5h1.05M353 127.5h1.05M361 119.5h1.05M384 105.5h1.05M355 119.5h1.05M317 134.5h1.05M351 130.5h1.05M359 130.5h1.05M379 100.5h1.05M379 120.5h1.05M377 98.5h1.05M352 115.5h1.05M371 111.5h1.05M326 128.5h1.05M385 114.5h1.05M366 127.5h1.05M368 107.5h1.05M349 126.5h1.05M358 119.5h1.05M343 118.5h1.05M369 101.5h1.05M328 127.5h1.05M378 115.5h1.05M369 121.5h1.05M400 107.5h1.05M356 113.5h1.05M355 120.5h1.05M361 119.5h1.05M358 122.5h1.05M355 135.5h1.05M333 113.5h1.05M333 140.5h1.05M345 87.5h1.05M351 126.5h1.05M332 112.5h1.05M332 141.5h1.05M351 107.5h1.05M373 123.5h1.05M353 106.5h1.05M372 101.5h1.05M378 120.5h1.05M373 121.5h1.05M348 110.5h1.05M348 142.5h1.05M317 120.5h1.05M342 134.5h1.05M367 103.5h1.05M334 110.5h1.05M386 111.5h1.05M388 99.5h1.05M349 122.5h1.05M377 90.5h1.05M327 123.5h1.05M335 114.5h1.05M349 107.5h1.05M357 118.5h1.05M353 114.5h1.05M339 114.5h1.05M399 116.5h1.05M363 117.5h1.05M363 118.5h1.05M372 126.5h1.05M361 114.5h1.05M352 125.5h1.05M345 113.5h1.05M322 128.5h1.05M389 115.5h1.05M337 113.5h1.05M321 106.5h1.05M340 106.5h1.05M323 112.5h1.05M400 113.5h1.05M365 113.5h1.05M387 107.5h1.05M388 115.5h1.05M369 121.5h1.05M369 128.5h1.05M342 112.5h1.05M355 121.5h1.05M344 125.5h1.05M358 106.5h1.05M342 119.5h1.05M384 101.5h1.05M373 110.5h1.05M355 120.5h1.05M321 105.5h1.05M372 104.5h1.05M376 104.5h1.05M356 117.5h1.05M330 113.5h1.05M366 118.5h1.05M380 103.5h1.05M316 118.5h1.05M369 119.5h1.05M318 126.5h1.05M359 117.5h1.05M394 108.5h1.05M359 125.5h1.05M367 128.5h1.05M350 113.5h1.05M357 108.5h1.05M407 96.5h1.05M386 128.5h1.05M350 108.5h1.05M349 103.5h1.05M357 118.5h1.05M404 118.5h1.05M361 102.5h1.05M381 110.5h1.05M349 102.5h1.05M330 113.5h1.05M385 127.5h1.05M355 117.5h1.05M340 116.5h1.05M342 119.5h1.05M343 121.5h1.05M344 117.5h1.05M324 109.5h1.05M383 99.5h1.05M365 135.5h1.05M378 104.5h1.05M350 129.5h1.05M364 107.5h1.05M361 128.5h1.05M382 118.5h1.05M374 110.5h1.05M365 135.5h1.05M343 108.5h1.05M331 118.5h1.05M340 110.5h1.05M343 110.5h1.05M345 114.5h1.05M331 111.5h1.05M392 106.5h1.05M363 131.5h1.05M314 106.5h1.05M334 107.5h1.05M328 111.5h1.05M362 110.5h1.05M380 122.5h1.05M336 127.5h1.05M370 118.5h1.05M351 119.5h1.05M382 136.5h1.05M386 99.5h1.05M364 102.5h1.05M372 112.5h1.05M357 118.5h1.05M349 115.5h1.05M332 111.5h1.05M364 101.5h1.05M356 113.5h1.05M349 110.5h1.05M355 111.5h1.05M353 105.5h1.05M335 133.5h1.05M346 122.5h1.05M381 130.5h1.05M352 111.5h1.05M387 111.5h1.05M332 117.5h1.05M328 121.5h1.05M360 112.5h1.05M374 111.5h1.05M343 98.5h1.05M370 110.5h1.05M377 119.5h1.05M380 91.5h1.05M355 112.5h1.05M356 122.5h1.05M322 135.5h1.05M357 115.5h1.05M363 119.5h1.05M387 128.5h1.05M330 134.5h1.05M339 114.5h1.05M336 113.5h1.05M376 122.5h1.05M334 114.5h1.05M401 105.5h1.05M371 116.5h1.05M329 119.5h1.05M356 113.5h1.05M375 110.5h1.05M369 98.5h1.05M352 134.5h1.05M340 131.5h1.05M375 128.5h1.05M357 114.5h1.05M374 114.5h1.05M365 120.5h1.05M347 126.5h1.05M388 91.5h1.05M346 121.5h1.05M366 104.5h1.05M344 117.5h1.05M352 110.5h1.05M352 134.5h1.05M343 124.5h1.05M362 114.5h1.05M385 125.5h1.05M396 108.5h1.05M387 102.5h1.05M353 114.5h1.05M388 106.5h1.05M366 114.5h1.05M395 117.5h1.05M330 119.5h1.05M388 109.5h1.05M344 128.5h1.05M382 114.5h1.05M347 127.5h1.05M376 113.5h1.05M351 103.5h1.05M317 111.5h1.05M336 102.5h1.05M352 128.5h1.05M358 120.5h1.05M332 110.5h1.05M342 122.5h1.05M353 115.5h1.05M362 118.5h1.05M340 110.5h1.05M325 110.5h1.05M363 130.5h1.05M350 107.5h1.05M376 112.5h1.05M346 131.5h1.05M371 94.5h1.05M338 126.5h1.05M363 115.5h1.05M359 114.5h1.05M367 117.5h1.05M337 107.5h1.05M354 93.5h1.05M339 138.5h1.05M354 113.5h1.05M370 122.5h1.05M358 118.5h1.05M372 117.5h1.05M359 122.5h1.05M381 127.5h1.05M367 119.5h1.05M379 124.5h1.05M365 111.5h1.05M408 102.5h1.05M386 111.5h1.05M321 126.5h1.05M363 120.5h1.05M359 135.5h1.05M310 133.5h1.05M339 119.5h1.05M347 138.5h1.05M342 122.5h1.05M360 119.5h1.05M319 127.5h1.05M373 109.5h1.05M373 101.5h1.05M365 115.5h1.05M350 114.5h1.05M357 107.5h1.05M347 119.5h1.05M381 109.5h1.05M368 108.5h1.05M399 90.5h1.05M349 115.5h1.05M388 128.5h1.05M345 127.5h1.05M354 127.5h1.05M335 119.5h1.05M368 124.5h1.05M356 109.5h1.05M370 108.5h1.05M389 115.5h1.05M356 101.5h1.05M365 115.5h1.05M376 115.5h1.05M356 133.5h1.05M346 110.5h1.05M365 118.5h1.05M368 107.5h1.05M374 107.5h1.05M375 85.5h1.05M343 109.5h1.05M367 126.5h1.05M383 116.5h1.05M347 119.5h1.05M365 139.5h1.05M344 123.5h1.05M361 102.5h1.05M394 107.5h1.05M361 114.5h1.05M337 136.5h1.05M364 105.5h1.05M362 119.5h1.05M381 121.5h1.05M328 113.5h1.05M338 120.5h1.05M356 95.5h1.05M324 123.5h1.05M381 89.5h1.05M315 119.5h1.05M340 136.5h1.05M326 125.5h1.05M343 119.5h1.05M374 114.5h1.05M370 135.5h1.05M377 118.5h1.05M370 124.5h1.05M314 119.5h1.05M364 110.5h1.05M318 112.5h1.05M347 116.5h1.05M349 110.5h1.05M346 128.5h1.05M368 120.5h1.05M340 117.5h1.05M394 103.5h1.05M370 84.5h1.05M382 105.5h1.05M373 116.5h1.05M376 119.5h1.05M356 84.5h1.05M399 83.5h1.05M335 121.5h1.05M367 103.5h1.05M357 113.5h1.05M352 112.5h1.05M364 120.5h1.05M341 99.5h1.05M375 106.5h1.05M374 122.5h1.05M359 117.5h1.05M373 104.5h1.05M335 124.5h1.05M319 125.5h1.05M345 109.5h1.05M352 123.5h1.05M352 115.5h1.05M379 121.5h1.05M375 100.5h1.05M402 115.5h1.05M360 113.5h1.05M371 103.5h1.05M353 110.5h1.05M339 131.5h1.05M336 114.5h1.05M341 115.5h1.05M387 103.5h1.05M363 106.5h1.05M354 126.5h1.05M358 138.5h1.05M345 131.5h1.05M356 121.5h1.05M356 123.5h1.05M371 109.5h1.05M376 107.5h1.05M323 110.5h1.05M362 129.5h1.05M386 107.5h1.05M336 112.5h1.05M352 110.5h1.05M361 117.5h1.05M380 106.5h1.05M370 113.5h1.05M353 118.5h1.05M368 127.5h1.05M379 99.5h1.05M365 117.5h1.05M396 101.5h1.05M366 110.5h1.05M335 136.5h1.05M341 125.5h1.05M354 112.5h1.05M353 121.5h1.05M370 113.5h1.05M365 125.5h1.05M393 104.5h1.05M374 117.5h1.05M388 108.5h1.05M341 119.5h1.05M348 116.5h1.05M372 107.5h1.05M359 116.5h1.05M370 123.5h1.05M363 108.5h1.05M344 114.5h1.05M393 113.5h1.05M381 103.5h1.05M325 130.5h1.05M344 125.5h1.05M358 92.5h1.05M372 106.5h1.05M356 105.5h1.05M329 129.5h1.05M375 122.5h1.05M353 104.5h1.05M383 104.5h1.05M364 114.5h1.05M378 108.5h1.05M375 120.5h1.05M376 122.5h1.05M347 124.5h1.05M379 123.5h1.05M362 124.5h1.05M331 120.5h1.05M349 113.5h1.05M350 109.5h1.05M367 122.5h1.05M372 122.5h1.05M334 130.5h1.05M373 109.5h1.05M356 112.5h1.05M335 122.5h1.05M375 125.5h1.05M341 122.5h1.05M332 122.5h1.05M373 104.5h1.05M376 117.5h1.05M344 124.5h1.05M380 102.5h1.05M379 130.5h1.05M347 108.5h1.05M399 117.5h1.05M356 114.5h1.05M362 116.5h1.05M371 107.5h1.05M345 125.5h1.05M367 112.5h1.05M322 119.5h1.05M382 120.5h1.05M388 117.5h1.05M397 110.5h1.05M370 131.5h1.05M365 113.5h1.05M342 123.5h1.05M356 102.5h1.05M387 90.5h1.05M340 120.5h1.05M362 124.5h1.05M356 118.5h1.05M365 109.5h1.05M349 110.5h1.05M376 120.5h1.05M378 109.5h1.05M329 104.5h1.05M381 118.5h1.05M342 121.5h1.05M352 120.5h1.05M381 122.5h1.05M360 129.5h1.05M370 119.5h1.05M374 111.5h1.05M370 92.5h1.05M347 121.5h1.05M338 118.5h1.05M372 126.5h1.05M374 126.5h1.05M365 119.5h1.05M354 130.5h1.05M376 111.5h1.05M357 115.5h1.05M329 112.5h1.05M364 111.5h1.05M369 116.5h1.05M374 123.5h1.05M339 111.5h1.05M342 126.5h1.05M365 138.5h1.05M349 104.5h1.05M357 113.5h1.05M378 112.5h1.05M366 124.5h1.05M396 129.5h1.05M364 127.5h1.05M394 108.5h1.05M381 103.5h1.05M359 115.5h1.05M357 118.5h1.05M386 101.5h1.05M348 133.5h1.05M349 110.5h1.05M364 121.5h1.05M366 116.5h1.05M329 110.5h1.05M364 115.5h1.05M352 117.5h1.05M358 114.5h1.05M362 123.5h1.05M355 111.5h1.05M381 137.5h1.05M369 125.5h1.05M355 107.5h1.05M360 90.5h1.05M381 124.5h1.05M375 115.5h1.05M385 111.5h1.05M356 106.5h1.05M362 100.5h1.05M401 89.5h1.05M358 141.5h1.05M394 125.5h1.05M377 106.5h1.05M350 136.5h1.05M330 102.5h1.05M372 120.5h1.05M344 125.5h1.05M344 109.5h1.05M323 117.5h1.05M384 100.5h1.05M361 115.5h1.05M360 128.5h1.05M367 124.5h1.05M364 119.5h1.05M361 126.5h1.05M370 95.5h1.05M353 137.5h1.05M375 99.5h1.05M368 110.5h1.05M360 108.5h1.05M392 110.5h1.05M330 124.5h1.05M390 122.5h1.05M368 131.5h1.05M325 111.5h1.05M351 132.5h1.05M372 126.5h1.05M334 130.5h1.05M371 130.5h1.05M403 93.5h1.05M388 117.5h1.05M359 105.5h1.05M366 138.5h1.05M339 109.5h1.05M362 102.5h1.05M352 128.5h1.05M338 125.5h1.05M331 121.5h1.05M399 109.5h1.05M361 121.5h1.05M338 137.5h1.05M350 109.5h1.05M390 104.5h1.05M393 103.5h1.05M346 117.5h1.05M363 115.5h1.05M378 99.5h1.05M352 120.5h1.05M335 107.5h1.05M339 116.5h1.05M359 113.5h1.05M343 116.5h1.05M332 135.5h1.05M354 133.5h1.05M379 123.5h1.05M373 129.5h1.05M354 113.5h1.05M399 122.5h1.05M343 118.5h1.05M358 118.5h1.05M331 123.5h1.05M375 98.5h1.05M357 109.5h1.05M324 120.5h1.05M342 122.5h1.05M397 107.5h1.05M374 104.5h1.05M361 103.5h1.05M377 112.5h1.05M326 109.5h1.05M342 106.5h1.05M331 119.5h1.05M342 120.5h1.05M351 108.5h1.05M370 95.5h1.05M380 114.5h1.05M379 120.5h1.05M349 113.5h1.05M359 91.5h1.05M370 122.5h1.05M342 107.5h1.05M353 124.5h1.05M368 108.5h1.05M341 117.5h1.05M369 111.5h1.05M385 92.5h1.05M336 148.5h1.05M311 108.5h1.05M361 116.5h1.05M337 111.5h1.05M363 112.5h1.05M350 131.5h1.05M365 95.5h1.05M383 109.5h1.05M376 117.5h1.05M351 118.5h1.05M335 124.5h1.05M314 107.5h1.05M342 105.5h1.05M361 111.5h1.05M345 125.5h1.05M346 118.5h1.05M325 138.5h1.05M324 123.5h1.05M323 124.5h1.05M371 115.5h1.05M317 105.5h1.05M372 119.5h1.05M339 107.5h1.05M369 109.5h1.05M363 139.5h1.05M374 100.5h1.05M383 112.5h1.05M342 121.5h1.05M338 120.5h1.05M349 117.5h1.05M342 113.5h1.05M371 133.5h1.05M355 95.5h1.05M358 105.5h1.05M366 129.5h1.05M348 123.5h1.05M380 103.5h1.05M319 113.5h1.05M362 112.5h1.05M368 141.5h1.05M341 123.5h1.05M343 107.5h1.05M376 114.5h1.05M351 110.5h1.05M317 138.5h1.05M329 124.5h1.05M378 125.5h1.05M339 121.5h1.05M384 131.5h1.05M386 114.5h1.05M353 119.5h1.05M368 103.5h1.05M340 114.5h1.05M349 121.5h1.05M342 113.5h1.05M369 139.5h1.05M330 120.5h1.05M354 108.5h1.05M358 125.5h1.05M368 108.5h1.05M313 128.5h1.05M320 121.5h1.05M339 111.5h1.05M352 131.5h1.05M360 116.5h1.05M361 126.5h1.05M399 104.5h1.05M371 98.5h1.05M369 100.5h1.05M347 112.5h1.05M373 111.5h1.05M371 113.5h1.05M371 118.5h1.05M354 103.5h1.05M370 116.5h1.05M389 97.5h1.05M340 112.5h1.05M312 150.5h1.05M374 126.5h1.05M372 109.5h1.05M352 135.5h1.05M347 132.5h1.05M347 132.5h1.05M331 118.5h1.05M347 116.5h1.05M367 105.5h1.05M344 124.5h1.05M349 104.5h1.05M363 109.5h1.05M348 122.5h1.05M359 110.5h1.05M356 119.5h1.05M335 138.5h1.05M358 105.5h1.05M332 134.5h1.05M376 105.5h1.05M337 110.5h1.05M352 119.5h1.05M319 133.5h1.05M347 110.5h1.05M331 113.5h1.05M388 105.5h1.05M354 109.5h1.05M367 116.5h1.05M320 115.5h1.05M331 118.5h1.05M353 120.5h1.05M328 116.5h1.05M380 123.5h1.05M348 110.5h1.05M360 107.5h1.05M363 135.5h1.05M353 132.5h1.05M373 113.5h1.05M343 127.5h1.05M364 118.5h1.05M381 106.5h1.05M361 122.5h1.05M359 118.5h1.05M350 130.5h1.05M358 96.5h1.05M371 121.5h1.05M351 118.5h1.05M322 115.5h1.05M360 111.5h1.05M353 112.5h1.05M366 100.5h1.05M357 110.5h1.05M389 118.5h1.05M332 105.5h1.05M336 115.5h1.05M370 89.5h1.05M335 114.5h1.05M363 118.5h1.05M356 115.5h1.05M316 124.5h1.05M370 102.5h1.05M385 116.5h1.05M361 106.5h1.05M327 130.5h1.05M373 115.5h1.05M335 116.5h1.05M354 131.5h1.05M365 110.5h1.05M340 129.5h1.05M321 123.5h1.05M353 116.5h1.05M356 126.5h1.05M339 123.5h1.05M340 118.5h1.05M372 112.5h1.05M355 118.5h1.05M347 118.5h1.05M344 115.5h1.05M360 104.5h1.05M358 89.5h1.05M353 115.5h1.05M328 118.5h1.05M349 130.5h1.05M343 123.5h1.05M358 127.5h1.05M380 129.5h1.05M376 111.5h1.05M370 105.5h1.05M359 124.5h1.05M350 111.5h1.05M363 112.5h1.05M347 132.5h1.05M349 123.5h1.05M339 130.5h1.05M355 102.5h1.05M355 116.5h1.05M394 120.5h1.05M368 100.5h1.05M349 119.5h1.05M372 117.5h1.05M347 94.5h1.05M377 128.5h1.05M372 105.5h1.05M334 137.5h1.05M355 97.5h1.05M354 121.5h1.05M362 110.5h1.05M371 113.5h1.05M336 111.5h1.05M341 132.5h1.05M362 103.5h1.05M376 116.5h1.05M333 125.5h1.05M325 121.5h1.05M380 109.5h1.05M373 110.5h1.05M378 122.5h1.05M337 124.5h1.05M352 116.5h1.05M361 104.5h1.05M365 116.5h1.05M354 122.5h1.05M355 116.5h1.05M377 127.5h1.05M347 98.5h1.05M345 143.5h1.05M348 115.5h1.05M346 106.5h1.05M359 97.5h1.05M352 125.5h1.05M347 123.5h1.05M385 108.5h1.05M362 114.5h1.05M349 119.5h1.05M382 107.5h1.05M345 130.5h1.05M356 122.5h1.05M354 115.5h1.05M345 101.5h1.05M349 131.5h1.05M358 110.5h1.05M327 110.5h1.05M348 130.5h1.05M361 120.5h1.05M362 94.5h1.05M362 97.5h1.05M403 103.5h1.05M370 100.5h1.05M353 115.5h1.05M354 143.5h1.05M356 146.5h1.05M365 114.5h1.05M350 125.5h1.05M387 119.5h1.05M334 119.5h1.05M369 98.5h1.05M366 125.5h1.05M333 118.5h1.05M369 118.5h1.05M367 121.5h1.05M343 110.5h1.05M403 125.5h1.05M370 114.5h1.05M350 119.5h1.05M347 113.5h1.05M341 126.5h1.05M361 125.5h1.05M357 110.5h1.05M328 127.5h1.05M335 115.5h1.05M342 106.5h1.05M348 114.5h1.05M349 123.5h1.05M343 124.5h1.05M369 125.5h1.05M375 105.5h1.05M358 112.5h1.05M312 125.5h1.05M353 123.5h1.05M367 112.5h1.05M355 106.5h1.05M362 99.5h1.05M358 128.5h1.05M326 132.5h1.05M369 129.5h1.05M346 117.5h1.05M364 119.5h1.05M350 130.5h1.05M353 111.5h1.05M384 103.5h1.05M332 102.5h1.05M356 119.5h1.05M334 124.5h1.05M358 124.5h1.05M366 120.5h1.05M369 114.5h1.05M359 127.5h1.05M329 110.5h1.05M361 119.5h1.05M374 118.5h1.05M376 111.5h1.05M399 126.5h1.05M367 118.5h1.05M336 133.5h1.05M346 127.5h1.05M358 114.5h1.05M377 132.5h1.05M333 131.5h1.05M374 113.5h1.05M369 112.5h1.05M339 108.5h1.05M368 112.5h1.05M341 116.5h1.05M356 118.5h1.05M350 113.5h1.05M361 121.5h1.05M333 119.5h1.05M367 98.5h1.05M313 119.5h1.05M348 108.5h1.05M345 105.5h1.05M388 107.5h1.05M367 123.5h1.05M346 106.5h1.05M338 98.5h1.05M357 114.5h1.05M344 149.5h1.05M401 102.5h1.05M357 111.5h1.05M377 127.5h1.05M340 117.5h1.05M388 122.5h1.05M345 107.5h1.05M378 114.5h1.05M360 102.5h1.05M380 113.5h1.05M357 109.5h1.05M342 107.5h1.05M325 124.5h1.05M375 114.5h1.05M367 108.5h1.05M356 108.5h1.05M365 102.5h1.05M360 111.5h1.05M345 122.5h1.05M395 107.5h1.05M361 117.5h1.05M352 130.5h1.05M327 118.5h1.05M344 121.5h1.05M356 124.5h1.05M353 122.5h1.05M347 122.5h1.05M355 117.5h1.05M334 140.5h1.05M356 115.5h1.05M325 118.5h1.05M339 125.5h1.05M341 136.5h1.05M374 127.5h1.05M366 114.5h1.05M358 124.5h1.05M333 125.5h1.05M348 118.5h1.05M372 120.5h1.05M381 118.5h1.05M327 123.5h1.05M348 135.5h1.05M358 112.5h1.05M363 129.5h1.05M356 138.5h1.05M370 135.5h1.05M327 124.5h1.05M387 108.5h1.05M333 104.5h1.05M357 115.5h1.05M367 139.5h1.05M380 95.5h1.05M374 97.5h1.05M374 121.5h1.05M382 118.5h1.05M353 98.5h1.05M371 113.5h1.05M387 114.5h1.05M341 103.5h1.05M328 131.5h1.05M336 106.5h1.05M385 122.5h1.05M381 113.5h1.05M349 110.5h1.05M361 98.5h1.05M366 111.5h1.05M377 111.5h1.05M319 121.5h1.05M345 112.5h1.05M351 115.5h1.05M363 124.5h1.05M358 106.5h1.05M350 115.5h1.05M362 120.5h1.05M373 129.5h1.05M374 109.5h1.05M343 120.5h1.05M365 84.5h1.05M398 105.5h1.05M393 116.5h1.05M358 104.5h1.05M332 134.5h1.05M360 96.5h1.05M351 131.5h1.05M374 107.5h1.05M331 110.5h1.05M353 111.5h1.05M362 112.5h1.05M347 107.5h1.05M378 98.5h1.05M334 115.5h1.05M332 130.5h1.05M350 121.5h1.05M373 127.5h1.05M351 111.5h1.05M345 114.5h1.05M373 109.5h1.05M361 116.5h1.05M346 122.5h1.05M359 133.5h1.05M352 124.5h1.05M369 115.5h1.05M360 129.5h1.05M341 111.5h1.05M347 104.5h1.05M348 124.5h1.05M364 116.5h1.05M364 116.5h1.05M340 128.5h1.05M353 113.5h1.05M363 113.5h1.05M379 116.5h1.05M362 122.5h1.05M396 119.5h1.05M357 117.5h1.05M371 116.5h1.05M350 92.5h1.05M337 132.5h1.05M359 99.5h1.05M366 113.5h1.05M363 141.5h1.05M360 112.5h1.05M350 101.5h1.05M340 135.5h1.05M351 111.5h1.05M366 112.5h1.05M376 110.5h1.05M369 121.5h1.05M378 110.5h1.05M382 123.5h1.05M364 105.5h1.05M370 120.5h1.05M348 111.5h1.05M355 123.5h1.05M367 107.5h1.05M335 115.5h1.05M341 134.5h1.05M361 103.5h1.05M330 108.5h1.05M358 121.5h1.05M327 118.5h1.05M361 111.5h1.05M357 114.5h1.05M345 140.5h1.05M338 108.5h1.05M346 115.5h1.05M312 126.5h1.05M349 107.5h1.05M359 115.5h1.05M381 116.5h1.05M346 108.5h1.05M353 128.5h1.05M385 99.5h1.05M392 108.5h1.05M347 121.5h1.05M378 145.5h1.05M380 93.5h1.05M367 117.5h1.05M337 145.5h1.05M338 113.5h1.05M368 125.5h1.05M404 109.5h1.05M353 102.5h1.05M388 114.5h1.05M395 99.5h1.05M331 121.5h1.05M345 102.5h1.05M387 118.5h1.05M376 87.5h1.05M368 112.5h1.05M356 129.5h1.05M369 119.5h1.05M344 114.5h1.05M407 104.5h1.05M333 115.5h1.05M320 150.5h1.05M360 115.5h1.05M386 110.5h1.05M347 110.5h1.05M356 111.5h1.05M336 126.5h1.05M355 110.5h1.05M336 111.5h1.05M336 114.5h1.05M327 117.5h1.05M346 119.5h1.05M394 104.5h1.05M355 114.5h1.05M360 107.5h1.05M402 120.5h1.05M344 119.5h1.05M336 116.5h1.05M367 117.5h1.05M332 120.5h1.05M363 98.5h1.05M380 109.5h1.05M335 137.5h1.05M346 123.5h1.05M391 121.5h1.05M335 113.5h1.05M343 103.5h1.05M361 108.5h1.05M350 131.5h1.05M339 108.5h1.05M389 101.5h1.05M345 129.5h1.05M363 112.5h1.05M348 115.5h1.05M352 120.5h1.05M329 122.5h1.05M375 109.5h1.05M348 120.5h1.05M382 103.5h1.05M333 119.5h1.05M347 124.5h1.05M366 103.5h1.05M359 113.5h1.05M343 106.5h1.05M354 124.5h1.05M330 127.5h1.05M358 125.5h1.05M360 125.5h1.05M384 118.5h1.05M375 104.5h1.05M374 122.5h1.05M348 108.5h1.05M366 138.5h1.05M348 120.5h1.05M355 122.5h1.05M355 103.5h1.05M375 124.5h1.05M366 98.5h1.05M374 107.5h1.05M337 114.5h1.05M371 106.5h1.05M366 128.5h1.05M311 146.5h1.05M321 111.5h1.05M358 126.5h1.05M343 115.5h1.05M356 130.5h1.05M344 93.5h1.05M387 106.5h1.05M318 135.5h1.05M329 113.5h1.05M337 131.5h1.05M329 115.5h1.05M345 129.5h1.05M356 122.5h1.05M329 116.5h1.05M364 106.5h1.05M383 109.5h1.05M379 123.5h1.05M397 108.5h1.05M380 104.5h1.05M356 150.5h1.05M393 93.5h1.05M371 111.5h1.05M395 114.5h1.05M353 105.5h1.05M314 123.5h1.05M333 116.5h1.05M360 100.5h1.05M368 118.5h1.05M353 105.5h1.05M377 104.5h1.05M333 132.5h1.05M343 107.5h1.05M377 118.5h1.05M358 128.5h1.05M359 125.5h1.05M385 115.5h1.05M379 109.5h1.05M341 104.5h1.05M361 116.5h1.05M322 126.5h1.05M357 110.5h1.05M365 104.5h1.05M322 131.5h1.05M388 99.5h1.05M397 113.5h1.05M367 109.5h1.05M376 95.5h1.05M387 127.5h1.05M353 122.5h1.05M378 117.5h1.05M365 99.5h1.05M326 120.5h1.05M339 122.5h1.05M346 110.5h1.05M379 128.5h1.05M359 94.5h1.05M377 119.5h1.05M347 98.5h1.05M331 104.5h1.05M399 94.5h1.05M365 106.5h1.05M353 109.5h1.05M381 101.5h1.05M335 104.5h1.05M353 107.5h1.05M328 110.5h1.05M367 110.5h1.05M362 110.5h1.05M349 92.5h1.05M344 111.5h1.05M326 133.5h1.05M340 113.5h1.05M382 110.5h1.05M350 109.5h1.05M383 103.5h1.05M340 117.5h1.05M355 101.5h1.05M348 115.5h1.05M352 99.5h1.05M373 115.5h1.05M316 106.5h1.05M372 119.5h1.05M371 123.5h1.05M357 98.5h1.05M359 121.5h1.05M353 111.5h1.05M371 124.5h1.05M358 109.5h1.05M340 115.5h1.05M360 111.5h1.05M376 124.5h1.05M365 93.5h1.05M358 122.5h1.05M361 115.5h1.05M347 111.5h1.05M348 114.5h1.05M319 131.5h1.05M353 124.5h1.05M377 128.5h1.05M349 109.5h1.05M339 98.5h1.05M375 105.5h1.05M360 112.5h1.05M360 109.5h1.05M367 125.5h1.05M371 135.5h1.05M356 119.5h1.05M340 99.5h1.05M392 119.5h1.05M358 108.5h1.05M341 118.5h1.05M361 122.5h1.05M381 114.5h1.05M329 119.5h1.05M383 113.5h1.05M354 123.5h1.05M397 114.5h1.05M370 133.5h1.05M355 84.5h1.05M382 102.5h1.05M383 104.5h1.05M350 124.5h1.05M362 116.5h1.05M347 125.5h1.05M376 96.5h1.05M329 117.5h1.05M354 122.5h1.05M314 122.5h1.05M369 108.5h1.05M312 125.5h1.05M336 135.5h1.05M362 92.5h1.05M350 132.5h1.05M348 119.5h1.05M338 109.5h1.05M348 123.5h1.05M322 121.5h1.05M364 126.5h1.05M373 103.5h1.05M372 122.5h1.05M356 105.5h1.05M382 113.5h1.05M366 120.5h1.05M376 110.5h1.05M365 120.5h1.05M358 108.5h1.05M342 128.5h1.05M370 105.5h1.05M355 114.5h1.05M397 107.5h1.05M317 113.5h1.05M374 120.5h1.05M338 117.5h1.05M357 121.5h1.05M339 102.5h1.05M364 100.5h1.05M356 112.5h1.05M375 101.5h1.05M360 112.5h1.05M367 118.5h1.05M383 121.5h1.05M367 128.5h1.05M354 123.5h1.05M382 103.5h1.05M355 120.5h1.05M365 107.5h1.05M351 121.5h1.05M344 106.5h1.05M371 116.5h1.05M334 116.5h1.05M372 98.5h1.05M393 111.5h1.05M331 114.5h1.05M375 114.5h1.05M355 107.5h1.05M366 107.5h1.05M333 125.5h1.05M358 130.5h1.05M360 101.5h1.05M386 107.5h1.05M400 111.5h1.05M363 112.5h1.05M350 111.5h1.05M401 129.5h1.05M355 106.5h1.05M356 118.5h1.05M359 109.5h1.05M367 112.5h1.05M371 88.5h1.05M346 126.5h1.05M355 113.5h1.05M395 98.5h1.05M389 126.5h1.05M366 110.5h1.05M363 107.5h1.05M353 107.5h1.05M378 122.5h1.05M347 117.5h1.05M360 111.5h1.05M348 102.5h1.05M345 107.5h1.05M358 118.5h1.05M357 114.5h1.05M346 96.5h1.05M356 106.5h1.05M359 116.5h1.05M348 144.5h1.05M344 109.5h1.05M355 92.5h1.05M371 120.5h1.05M379 105.5h1.05M361 100.5h1.05M352 121.5h1.05M357 112.5h1.05M395 97.5h1.05M376 98.5h1.05M338 117.5h1.05M356 115.5h1.05M347 98.5h1.05M350 126.5h1.05M324 107.5h1.05M358 129.5h1.05M330 123.5h1.05M346 115.5h1.05M388 112.5h1.05M377 105.5h1.05M340 117.5h1.05M337 135.5h1.05M339 112.5h1.05M320 130.5h1.05M338 109.5h1.05M352 115.5h1.05M336 128.5h1.05M372 99.5h1.05M356 118.5h1.05M347 94.5h1.05M392 96.5h1.05M372 107.5h1.05M359 123.5h1.05M394 115.5h1.05M384 100.5h1.05M343 116.5h1.05M364 115.5h1.05M349 100.5h1.05M329 124.5h1.05M395 121.5h1.05M387 122.5h1.05M332 113.5h1.05M367 108.5h1.05M325 111.5h1.05M379 105.5h1.05M356 112.5h1.05M352 122.5h1.05M383 111.5h1.05M358 105.5h1.05M352 124.5h1.05M376 120.5h1.05M351 109.5h1.05M375 109.5h1.05M357 113.5h1.05M374 94.5h1.05M370 113.5h1.05M373 118.5h1.05M337 138.5h1.05M395 109.5h1.05M354 112.5h1.05M393 106.5h1.05M345 123.5h1.05M352 124.5h1.05M352 107.5h1.05M381 112.5h1.05M349 123.5h1.05M366 92.5h1.05M326 134.5h1.05M348 114.5h1.05M362 123.5h1.05M355 114.5h1.05M320 119.5h1.05M367 112.5h1.05M338 121.5h1.05M396 116.5h1.05M354 112.5h1.05M403 95.5h1.05M371 105.5h1.05M367 103.5h1.05M348 124.5h1.05M355 105.5h1.05M367 128.5h1.05M318 123.5h1.05M378 110.5h1.05M334 132.5h1.05M352 112.5h1.05M367 121.5h1.05M372 119.5h1.05M363 103.5h1.05M364 139.5h1.05M350 122.5h1.05M360 101.5h1.05M382 108.5h1.05M349 126.5h1.05M368 115.5h1.05M372 121.5h1.05M353 140.5h1.05M362 123.5h1.05M362 134.5h1.05M347 123.5h1.05M407 99.5h1.05M349 132.5h1.05M392 101.5h1.05M379 120.5h1.05M316 129.5h1.05M362 105.5h1.05M378 104.5h1.05M374 110.5h1.05M339 122.5h1.05M363 127.5h1.05M333 120.5h1.05M336 138.5h1.05M353 125.5h1.05M361 107.5h1.05M390 102.5h1.05M365 114.5h1.05M379 106.5h1.05M333 118.5h1.05M334 127.5h1.05M347 119.5h1.05M393 118.5h1.05M330 113.5h1.05M325 112.5h1.05M356 101.5h1.05M382 92.5h1.05M324 116.5h1.05M352 117.5h1.05M330 118.5h1.05M387 110.5h1.05M371 134.5h1.05M363 103.5h1.05M356 112.5h1.05M353 111.5h1.05M360 105.5h1.05M344 131.5h1.05M339 118.5h1.05M335 132.5h1.05M358 103.5h1.05M341 137.5h1.05M375 135.5h1.05M314 114.5h1.05M369 113.5h1.05M368 112.5h1.05M382 116.5h1.05M352 103.5h1.05M327 126.5h1.05M338 126.5h1.05M380 105.5h1.05M351 93.5h1.05M349 110.5h1.05M345 113.5h1.05M356 123.5h1.05M353 110.5h1.05M325 109.5h1.05M345 124.5h1.05M378 115.5h1.05M387 117.5h1.05M355 116.5h1.05M347 128.5h1.05M385 115.5h1.05M354 98.5h1.05M333 122.5h1.05M355 124.5h1.05M371 113.5h1.05M389 124.5h1.05M347 112.5h1.05M368 120.5h1.05M350 104.5h1.05M381 111.5h1.05M362 109.5h1.05M363 104.5h1.05M337 105.5h1.05M351 119.5h1.05M351 121.5h1.05M375 99.5h1.05M357 106.5h1.05M353 124.5h1.05M350 104.5h1.05M358 127.5h1.05M362 97.5h1.05M330 123.5h1.05M360 122.5h1.05M360 127.5h1.05M358 111.5h1.05M327 113.5h1.05M354 101.5h1.05M331 129.5h1.05M364 113.5h1.05M384 106.5h1.05M375 108.5h1.05M350 119.5h1.05M346 118.5h1.05M346 130.5h1.05M364 92.5h1.05M344 127.5h1.05M346 112.5h1.05M340 115.5h1.05M341 117.5h1.05M346 125.5h1.05M382 113.5h1.05M329 106.5h1.05M330 120.5h1.05M369 112.5h1.05M337 123.5h1.05M354 116.5h1.05M361 114.5h1.05M357 126.5h1.05M341 107.5h1.05M376 134.5h1.05M388 104.5h1.05M337 108.5h1.05M352 124.5h1.05M376 123.5h1.05M353 129.5h1.05M337 134.5h1.05M348 122.5h1.05M374 113.5h1.05M337 123.5h1.05M362 114.5h1.05M365 108.5h1.05M344 134.5h1.05M369 132.5h1.05M371 113.5h1.05M377 109.5h1.05M376 107.5h1.05M327 104.5h1.05M375 105.5h1.05M369 108.5h1.05M377 112.5h1.05M340 108.5h1.05M376 92.5h1.05M365 121.5h1.05M334 138.5h1.05M383 89.5h1.05M341 117.5h1.05M336 128.5h1.05M365 102.5h1.05M345 103.5h1.05M365 114.5h1.05M352 114.5h1.05M363 108.5h1.05M374 129.5h1.05M356 131.5h1.05M375 119.5h1.05M374 112.5h1.05M340 115.5h1.05M375 121.5h1.05M370 111.5h1.05M360 130.5h1.05M380 124.5h1.05M391 103.5h1.05M373 121.5h1.05M327 137.5h1.05M366 121.5h1.05M355 106.5h1.05M352 114.5h1.05M364 111.5h1.05M351 118.5h1.05M390 110.5h1.05M363 111.5h1.05M358 125.5h1.05M373 127.5h1.05M374 107.5h1.05M381 96.5h1.05M370 117.5h1.05M357 116.5h1.05M360 120.5h1.05M313 117.5h1.05M327 124.5h1.05M378 103.5h1.05M351 128.5h1.05M394 127.5h1.05M394 100.5h1.05M332 94.5h1.05M364 110.5h1.05M341 121.5h1.05M365 115.5h1.05M353 122.5h1.05M352 145.5h1.05M352 111.5h1.05M357 112.5h1.05M373 118.5h1.05M341 100.5h1.05M368 122.5h1.05M343 112.5h1.05M368 99.5h1.05M364 106.5h1.05M342 124.5h1.05M360 124.5h1.05M342 132.5h1.05M340 124.5h1.05M381 104.5h1.05M320 129.5h1.05M369 113.5h1.05M372 138.5h1.05M345 97.5h1.05M380 129.5h1.05M376 121.5h1.05M331 125.5h1.05M368 113.5h1.05M367 109.5h1.05M342 109.5h1.05M369 98.5h1.05M373 135.5h1.05M343 129.5h1.05M317 131.5h1.05M366 119.5h1.05M342 99.5h1.05M322 120.5h1.05M350 119.5h1.05M350 107.5h1.05M388 114.5h1.05M367 115.5h1.05M339 112.5h1.05M349 122.5h1.05M339 121.5h1.05M370 95.5h1.05M357 129.5h1.05M341 142.5h1.05M331 112.5h1.05M349 130.5h1.05M381 102.5h1.05M333 116.5h1.05M366 133.5h1.05M364 117.5h1.05M317 140.5h1.05M380 115.5h1.05M357 127.5h1.05M403 107.5h1.05M393 125.5h1.05M352 136.5h1.05M354 124.5h1.05M337 115.5h1.05M329 118.5h1.05M374 104.5h1.05M352 124.5h1.05M349 124.5h1.05M354 110.5h1.05M371 124.5h1.05M377 107.5h1.05M357 135.5h1.05M353 126.5h1.05M359 133.5h1.05M400 102.5h1.05M315 114.5h1.05M334 102.5h1.05M367 122.5h1.05M360 105.5h1.05M383 126.5h1.05M384 113.5h1.05M398 117.5h1.05M341 107.5h1.05M370 108.5h1.05M353 120.5h1.05M377 121.5h1.05M361 103.5h1.05M376 117.5h1.05M342 111.5h1.05M361 125.5h1.05M347 116.5h1.05M352 115.5h1.05M348 123.5h1.05M336 133.5h1.05M380 110.5h1.05M364 128.5h1.05M380 102.5h1.05M337 124.5h1.05M317 113.5h1.05M344 121.5h1.05M354 108.5h1.05M374 114.5h1.05M379 119.5h1.05M383 102.5h1.05M389 93.5h1.05M373 112.5h1.05M360 122.5h1.05M342 122.5h1.05M372 105.5h1.05M347 127.5h1.05M341 117.5h1.05M370 122.5h1.05M362 107.5h1.05M375 118.5h1.05M343 132.5h1.05M382 106.5h1.05M365 112.5h1.05M354 124.5h1.05M342 125.5h1.05M335 124.5h1.05M329 121.5h1.05M386 95.5h1.05M328 122.5h1.05M371 101.5h1.05M352 119.5h1.05M346 95.5h1.05M348 133.5h1.05M356 137.5h1.05M376 118.5h1.05M369 106.5h1.05M358 114.5h1.05M329 131.5h1.05M321 130.5h1.05M396 102.5h1.05M337 133.5h1.05M325 130.5h1.05M381 118.5h1.05M327 119.5h1.05M373 114.5h1.05M377 106.5h1.05M363 118.5h1.05M377 106.5h1.05M329 134.5h1.05M332 122.5h1.05M354 120.5h1.05M357 120.5h1.05M356 120.5h1.05M367 100.5h1.05M342 133.5h1.05M314 126.5h1.05M366 110.5h1.05M353 108.5h1.05M374 107.5h1.05M400 103.5h1.05M359 116.5h1.05M369 106.5h1.05M339 121.5h1.05M376 115.5h1.05" stroke="#000" stroke-width="1.05" stroke-opacity="0.75" fill="none"/>
<path d="M333 116.5h1M350 151.5h1M363 117.5h1M357 108.5h1M349 118.5h1M373 137.5h1M394 98.5h1M351 90.5h1M328 138.5h1M370 124.5h1M358 114.5h1M348 134.5h1M363 72.5h1M340 114.5h1M323 129.5h1M337 116.5h1M347 107.5h1M335 135.5h1M388 72.5h1M353 116.5h1M322 94.5h1M365 83.5h1M365 116.5h1M359 131.5h1M360 134.5h1M326 107.5h1M349 122.5h1M317 97.5h1M327 145.5h1M325 109.5h1M327 138.5h1M342 113.5h1M345 111.5h1M328 143.5h1M384 100.5h1M338 137.5h1M397 107.5h1M381 100.5h1M315 106.5h1M378 132.5h1M394 107.5h1M361 91.5h1M322 137.5h1M339 122.5h1M311 131.5h1M314 111.5h1M344 119.5h1M365 116.5h1M351 107.5h1M358 119.5h1M343 105.5h1M372 104.5h1M323 99.5h1M367 117.5h1M315 107.5h1M355 108.5h1M316 141.5h1M344 116.5h1M367 114.5h1M387 89.5h1M327 133.5h1M321 127.5h1M386 114.5h1M324 115.5h1M371 115.5h1M335 124.5h1M353 76.5h1M316 150.5h1M371 132.5h1M374 112.5h1M389 135.5h1M320 98.5h1M396 133.5h1M378 117.5h1M400 114.5h1M319 128.5h1M359 132.5h1M346 123.5h1M355 106.5h1M368 142.5h1M325 121.5h1M349 113.5h1M322 113.5h1M361 96.5h1M369 103.5h1M352 92.5h1M384 117.5h1M372 113.5h1M361 119.5h1M384 93.5h1M313 112.5h1M349 106.5h1M349 92.5h1M336 93.5h1M374 134.5h1M337 123.5h1M331 93.5h1M347 138.5h1M346 140.5h1M365 133.5h1M324 85.5h1M384 109.5h1M312 94.5h1M336 145.5h1M317 108.5h1M376 118.5h1M333 130.5h1M386 123.5h1M329 124.5h1M358 109.5h1M372 118.5h1M378 110.5h1M314 83.5h1M339 133.5h1M347 106.5h1M371 108.5h1M361 93.5h1M365 96.5h1M355 123.5h1M363 134.5h1M380 115.5h1M334 99.5h1M370 135.5h1M408 106.5h1M337 92.5h1M338 87.5h1M340 120.5h1M339 111.5h1M398 102.5h1M322 114.5h1M344 103.5h1M385 104.5h1M367 119.5h1M357 104.5h1M340 131.5h1M346 101.5h1M350 127.5h1M370 120.5h1M352 110.5h1M378 109.5h1M374 141.5h1M334 104.5h1M350 135.5h1M337 133.5h1M369 109.5h1M346 142.5h1M369 77.5h1M326 122.5h1M356 117.5h1M386 113.5h1M383 127.5h1M339 110.5h1M354 113.5h1M339 135.5h1M346 114.5h1M351 99.5h1M386 122.5h1M367 113.5h1M393 104.5h1M396 121.5h1M313 107.5h1M359 100.5h1M337 113.5h1M318 119.5h1M335 98.5h1M400 139.5h1M353 126.5h1M345 119.5h1M349 120.5h1M328 78.5h1M355 130.5h1M347 100.5h1M334 98.5h1M369 106.5h1M347 113.5h1M370 138.5h1M321 134.5h1M353 94.5h1M376 103.5h1M328 114.5h1M338 130.5h1M342 106.5h1M335 87.5h1M358 101.5h1M380 111.5h1M360 124.5h1M380 125.5h1M381 133.5h1M333 121.5h1M358 112.5h1M339 128.5h1M370 113.5h1M340 109.5h1M345 109.5h1M400 127.5h1M345 140.5h1M354 90.5h1M359 132.5h1M335 99.5h1M352 110.5h1M380 123.5h1M335 96.5h1M345 97.5h1M329 106.5h1M360 142.5h1M347 133.5h1M323 104.5h1M346 118.5h1M404 114.5h1M360 138.5h1M408 124.5h1M312 125.5h1M335 119.5h1M382 135.5h1M374 73.5h1M367 123.5h1M359 128.5h1M389 109.5h1M359 148.5h1M392 126.5h1M319 131.5h1M360 136.5h1M386 120.5h1M387 132.5h1M346 126.5h1M405 101.5h1M365 98.5h1M382 132.5h1M319 128.5h1M328 107.5h1M328 118.5h1M402 135.5h1M374 125.5h1M355 129.5h1M339 101.5h1M341 119.5h1M386 135.5h1M335 80.5h1M382 130.5h1M373 114.5h1M324 111.5h1M342 98.5h1M390 117.5h1M338 123.5h1M388 118.5h1M374 121.5h1M325 131.5h1M346 143.5h1M369 98.5h1M363 114.5h1M395 105.5h1M383 140.5h1M360 111.5h1M371 89.5h1M330 117.5h1M333 106.5h1M368 103.5h1M360 108.5h1M318 98.5h1M348 85.5h1M327 149.5h1M335 115.5h1M388 98.5h1M323 128.5h1M332 139.5h1M367 87.5h1M353 109.5h1M356 120.5h1M350 123.5h1M340 97.5h1M327 107.5h1M334 115.5h1M342 123.5h1M375 115.5h1M406 101.5h1M354 110.5h1M394 79.5h1M354 149.5h1M353 111.5h1M388 117.5h1M392 122.5h1M325 123.5h1M330 91.5h1M330 115.5h1M336 104.5h1M393 104.5h1M363 115.5h1M378 118.5h1M350 114.5h1M348 89.5h1M371 123.5h1M338 132.5h1M386 87.5h1M331 127.5h1M311 122.5h1M388 116.5h1M373 120.5h1M329 127.5h1M383 131.5h1M346 116.5h1M348 116.5h1M335 100.5h1M354 111.5h1M357 110.5h1M335 129.5h1M380 131.5h1M393 91.5h1M328 137.5h1M363 96.5h1M363 104.5h1M323 136.5h1M347 112.5h1M356 127.5h1M344 104.5h1M382 115.5h1M329 118.5h1M338 118.5h1M361 128.5h1M350 109.5h1M359 110.5h1M345 95.5h1M328 115.5h1M371 106.5h1M354 130.5h1M378 124.5h1M390 101.5h1M341 124.5h1M330 138.5h1M338 113.5h1M333 99.5h1M399 121.5h1M363 126.5h1M335 104.5h1M369 119.5h1M360 85.5h1M350 124.5h1M380 120.5h1M352 103.5h1M349 102.5h1M356 113.5h1M331 143.5h1M330 114.5h1M399 109.5h1M369 112.5h1M374 89.5h1M370 107.5h1M346 95.5h1M399 114.5h1M346 81.5h1M311 101.5h1M370 118.5h1M386 80.5h1M355 91.5h1M362 131.5h1M379 92.5h1M396 112.5h1M369 119.5h1M400 95.5h1M360 88.5h1M312 110.5h1M379 122.5h1M360 103.5h1M355 121.5h1M315 98.5h1M383 91.5h1M346 100.5h1M323 108.5h1M334 107.5h1M345 111.5h1M355 122.5h1M326 109.5h1M325 133.5h1M364 104.5h1M350 126.5h1M340 144.5h1M373 83.5h1M402 139.5h1M346 88.5h1M380 136.5h1M361 115.5h1M353 121.5h1M398 97.5h1M323 133.5h1M334 128.5h1M348 106.5h1M380 127.5h1M345 133.5h1M376 126.5h1M330 111.5h1M385 113.5h1M349 131.5h1M338 130.5h1M399 130.5h1M352 118.5h1M368 103.5h1M355 120.5h1M372 121.5h1M355 107.5h1M317 126.5h1M360 102.5h1M366 119.5h1M363 105.5h1M345 150.5h1M404 130.5h1M331 122.5h1M355 95.5h1M358 96.5h1M321 129.5h1M317 116.5h1M371 119.5h1M371 89.5h1M356 92.5h1M343 113.5h1M359 94.5h1M370 102.5h1M386 125.5h1M365 108.5h1M380 123.5h1M400 138.5h1M380 116.5h1M339 107.5h1M366 134.5h1M358 92.5h1M322 101.5h1M326 118.5h1M364 91.5h1M347 132.5h1M373 104.5h1M341 125.5h1M344 112.5h1M330 86.5h1M368 97.5h1M384 106.5h1M314 154.5h1M324 131.5h1M363 126.5h1M385 97.5h1M391 127.5h1M368 134.5h1M382 125.5h1M339 95.5h1M393 95.5h1M336 113.5h1M345 101.5h1M346 124.5h1M362 117.5h1M394 119.5h1M361 127.5h1M356 105.5h1M340 106.5h1M367 133.5h1M320 113.5h1M338 104.5h1M314 113.5h1M335 119.5h1M311 118.5h1M387 123.5h1M345 131.5h1M315 106.5h1M315 99.5h1M383 138.5h1M371 103.5h1M374 89.5h1M350 86.5h1M377 113.5h1M389 103.5h1M370 85.5h1M359 119.5h1M320 98.5h1M352 113.5h1M326 128.5h1M314 121.5h1M379 130.5h1M365 116.5h1M374 125.5h1M377 121.5h1M392 103.5h1M350 137.5h1M345 122.5h1M344 99.5h1M333 100.5h1M381 110.5h1M370 101.5h1M393 122.5h1M382 120.5h1M385 132.5h1M366 124.5h1M354 98.5h1M339 132.5h1M350 105.5h1M323 106.5h1M362 116.5h1M348 116.5h1M329 124.5h1M337 140.5h1M341 113.5h1M387 118.5h1M332 109.5h1M313 112.5h1M361 136.5h1M379 121.5h1M397 119.5h1M321 105.5h1M343 143.5h1M338 114.5h1M393 102.5h1M370 114.5h1M351 126.5h1M371 126.5h1M340 140.5h1M344 99.5h1M349 109.5h1M335 142.5h1M343 152.5h1M360 105.5h1M357 114.5h1M392 88.5h1M375 101.5h1M348 102.5h1M335 132.5h1M339 116.5h1M312 115.5h1M339 131.5h1M353 111.5h1M331 98.5h1M345 117.5h1M347 150.5h1M329 119.5h1M325 126.5h1M346 113.5h1M357 112.5h1M320 126.5h1M322 98.5h1M364 105.5h1M376 137.5h1M332 156.5h1M353 126.5h1M327 124.5h1M366 125.5h1M351 140.5h1M360 99.5h1M370 117.5h1M340 87.5h1M364 121.5h1M344 91.5h1M363 127.5h1M354 129.5h1M352 80.5h1M326 126.5h1M378 117.5h1M381 104.5h1M334 132.5h1M323 150.5h1M355 123.5h1M327 100.5h1M353 93.5h1M372 96.5h1M368 98.5h1M391 130.5h1M362 119.5h1M319 118.5h1M325 132.5h1M364 115.5h1M403 112.5h1M339 103.5h1M323 108.5h1M389 113.5h1M345 98.5h1M369 140.5h1M380 115.5h1M321 109.5h1M339 132.5h1M333 100.5h1M364 131.5h1M367 116.5h1M335 147.5h1M365 106.5h1M359 102.5h1M359 95.5h1M349 120.5h1M346 121.5h1M319 108.5h1M390 129.5h1M341 76.5h1M343 123.5h1M346 117.5h1M364 115.5h1M351 106.5h1M364 142.5h1M323 111.5h1M380 120.5h1M335 113.5h1M370 108.5h1M356 117.5h1M379 124.5h1M347 98.5h1M316 96.5h1M342 123.5h1M388 99.5h1M337 105.5h1M350 126.5h1M384 113.5h1M333 123.5h1M358 113.5h1M357 122.5h1M332 118.5h1M355 98.5h1M378 117.5h1M378 108.5h1M339 113.5h1M359 106.5h1M341 100.5h1M329 136.5h1M321 147.5h1M372 108.5h1M345 122.5h1M310 109.5h1M344 103.5h1M348 111.5h1M312 112.5h1M321 113.5h1M385 111.5h1M333 99.5h1M349 129.5h1M340 99.5h1M372 97.5h1M383 128.5h1M375 126.5h1M364 137.5h1M365 117.5h1M315 108.5h1M386 131.5h1M333 116.5h1M324 116.5h1M338 103.5h1M326 124.5h1M360 78.5h1M369 122.5h1M385 81.5h1M346 130.5h1M332 93.5h1M341 127.5h1M328 113.5h1M405 93.5h1M327 148.5h1M336 110.5h1M367 97.5h1M356 135.5h1M370 69.5h1M324 94.5h1M319 97.5h1M386 102.5h1M330 85.5h1M346 129.5h1M355 131.5h1M343 110.5h1M331 93.5h1M364 122.5h1M340 105.5h1M371 130.5h1M337 83.5h1M329 103.5h1M332 139.5h1M348 120.5h1M376 136.5h1M324 82.5h1M332 115.5h1M370 111.5h1M363 89.5h1M369 104.5h1M358 131.5h1M342 125.5h1M335 108.5h1M335 122.5h1M374 133.5h1M391 95.5h1M405 116.5h1M320 135.5h1M342 105.5h1M349 136.5h1M344 115.5h1M317 136.5h1M391 117.5h1M344 112.5h1M336 106.5h1M349 119.5h1M315 122.5h1M339 139.5h1M371 113.5h1M396 118.5h1M374 140.5h1M386 118.5h1M319 125.5h1M388 114.5h1M354 122.5h1M347 128.5h1M396 110.5h1M322 100.5h1M322 95.5h1M328 114.5h1M395 130.5h1M376 129.5h1M396 126.5h1M349 106.5h1M361 92.5h1M327 109.5h1M402 107.5h1M361 103.5h1M386 127.5h1M321 106.5h1M369 123.5h1M351 128.5h1M343 89.5h1M326 111.5h1M329 137.5h1M316 132.5h1M330 119.5h1M348 98.5h1M365 103.5h1M319 138.5h1M331 125.5h1M341 120.5h1M341 129.5h1M343 89.5h1M361 99.5h1M376 114.5h1M372 133.5h1M357 132.5h1M366 102.5h1M326 118.5h1M322 106.5h1M367 108.5h1M365 117.5h1M342 108.5h1M321 100.5h1M357 90.5h1M336 114.5h1M323 121.5h1M388 122.5h1M404 98.5h1M359 104.5h1M330 137.5h1M356 122.5h1M347 130.5h1M373 103.5h1M359 97.5h1M385 129.5h1M333 99.5h1M348 88.5h1M346 104.5h1M316 120.5h1M339 116.5h1M361 93.5h1M336 143.5h1M351 113.5h1M356 134.5h1M351 91.5h1M352 124.5h1M345 97.5h1M361 94.5h1M372 118.5h1M342 133.5h1M336 138.5h1M338 138.5h1M358 111.5h1M339 129.5h1M338 107.5h1M405 115.5h1M314 117.5h1M398 125.5h1M372 85.5h1M379 131.5h1M357 106.5h1M364 138.5h1M358 133.5h1M367 96.5h1M374 113.5h1M393 123.5h1M321 106.5h1M364 103.5h1M396 107.5h1M390 124.5h1M320 132.5h1M359 108.5h1M358 128.5h1M357 138.5h1M375 102.5h1M369 127.5h1M347 123.5h1M368 108.5h1M354 101.5h1M335 137.5h1M347 114.5h1M360 144.5h1M327 100.5h1M371 109.5h1M382 103.5h1M381 142.5h1M384 133.5h1M388 105.5h1M371 84.5h1M388 131.5h1M352 118.5h1M362 97.5h1M392 89.5h1M407 118.5h1M340 113.5h1M384 107.5h1M403 107.5h1M377 124.5h1M358 114.5h1M332 113.5h1M323 128.5h1M393 81.5h1M379 133.5h1M360 122.5h1M318 106.5h1M335 114.5h1M333 137.5h1M342 125.5h1M357 99.5h1M396 115.5h1M335 145.5h1M351 128.5h1M359 112.5h1M322 127.5h1M363 115.5h1M327 113.5h1M338 123.5h1M358 82.5h1M349 132.5h1M353 124.5h1M324 111.5h1M372 101.5h1M319 100.5h1M375 118.5h1M337 119.5h1M316 121.5h1M348 143.5h1M320 84.5h1M335 106.5h1M346 104.5h1M373 129.5h1M374 110.5h1M365 100.5h1M342 120.5h1M344 142.5h1M341 121.5h1M347 109.5h1M335 109.5h1M335 104.5h1M374 122.5h1M312 132.5h1M351 112.5h1M387 111.5h1M328 139.5h1M322 120.5h1M344 124.5h1M341 100.5h1M358 106.5h1M390 79.5h1M347 95.5h1M367 120.5h1M334 137.5h1M336 113.5h1M359 97.5h1M331 119.5h1M386 131.5h1M339 114.5h1M346 131.5h1M320 117.5h1M338 98.5h1M321 104.5h1M336 113.5h1M350 125.5h1M402 108.5h1M402 115.5h1M347 109.5h1M377 112.5h1M321 114.5h1M319 143.5h1M348 137.5h1M396 107.5h1M313 128.5h1M348 99.5h1M328 119.5h1M322 128.5h1M324 117.5h1M392 126.5h1M386 125.5h1M310 117.5h1M347 95.5h1M337 145.5h1M383 106.5h1M326 129.5h1M398 120.5h1M351 111.5h1M327 147.5h1" stroke="#222" stroke-width="1" stroke-opacity="0.6" fill="none"/>
<path d="M363 106.5h1.1M398 92.5h1.1M376 89.5h1.1M379 102.5h1.1M393 87.5h1.1M354 113.5h1.1M394 87.5h1.1M375 99.5h1.1M395 86.5h1.1M384 94.5h1.1M376 93.5h1.1M386 83.5h1.1M358 106.5h1.1M392 80.5h1.1M380 92.5h1.1M383 69.5h1.1M346 106.5h1.1M399 74.5h1.1M378 97.5h1.1M391 92.5h1.1M375 103.5h1.1M397 71.5h1.1M380 96.5h1.1M392 72.5h1.1M386 82.5h1.1M373 96.5h1.1M406 76.5h1.1M390 98.5h1.1M384 89.5h1.1M403 76.5h1.1M371 120.5h1.1M370 101.5h1.1M384 90.5h1.1M367 99.5h1.1M357 101.5h1.1M356 107.5h1.1M357 117.5h1.1M394 76.5h1.1M372 104.5h1.1M358 107.5h1.1M385 85.5h1.1M375 95.5h1.1M347 104.5h1.1M373 89.5h1.1M371 101.5h1.1M372 105.5h1.1M377 91.5h1.1M368 108.5h1.1M383 90.5h1.1M403 77.5h1.1M375 103.5h1.1M381 91.5h1.1M379 99.5h1.1M360 107.5h1.1M357 98.5h1.1M359 101.5h1.1M370 104.5h1.1M362 99.5h1.1M382 73.5h1.1M387 89.5h1.1M390 89.5h1.1M358 100.5h1.1M366 105.5h1.1M394 99.5h1.1M376 99.5h1.1M401 91.5h1.1M375 92.5h1.1M349 107.5h1.1M382 103.5h1.1M364 107.5h1.1M391 82.5h1.1M347 118.5h1.1M366 105.5h1.1M369 108.5h1.1M378 106.5h1.1M378 99.5h1.1M398 78.5h1.1M389 87.5h1.1M397 93.5h1.1M369 110.5h1.1M375 98.5h1.1M366 100.5h1.1M356 115.5h1.1M378 92.5h1.1M362 96.5h1.1M383 98.5h1.1M359 114.5h1.1M348 110.5h1.1M390 83.5h1.1M393 83.5h1.1M375 99.5h1.1M385 97.5h1.1M367 108.5h1.1M367 109.5h1.1M381 93.5h1.1M385 97.5h1.1M375 86.5h1.1M367 104.5h1.1M368 98.5h1.1M384 92.5h1.1M370 100.5h1.1M406 88.5h1.1M380 94.5h1.1M389 84.5h1.1M383 99.5h1.1M375 102.5h1.1M363 90.5h1.1M370 111.5h1.1M370 103.5h1.1M407 80.5h1.1M382 88.5h1.1M371 85.5h1.1M397 88.5h1.1M351 115.5h1.1M382 83.5h1.1M392 86.5h1.1M382 97.5h1.1M393 87.5h1.1M365 111.5h1.1M394 82.5h1.1M385 100.5h1.1M393 94.5h1.1M397 81.5h1.1M372 99.5h1.1M365 105.5h1.1M399 77.5h1.1M359 103.5h1.1M399 92.5h1.1M389 99.5h1.1M369 83.5h1.1M396 78.5h1.1M400 71.5h1.1M407 76.5h1.1M387 82.5h1.1M357 107.5h1.1M386 108.5h1.1M376 90.5h1.1M386 92.5h1.1M399 75.5h1.1M374 97.5h1.1M391 78.5h1.1M362 95.5h1.1M388 77.5h1.1M365 108.5h1.1M406 75.5h1.1M375 91.5h1.1M378 106.5h1.1M359 115.5h1.1M374 113.5h1.1M384 97.5h1.1M354 105.5h1.1M388 74.5h1.1M380 83.5h1.1M379 84.5h1.1M362 109.5h1.1M375 95.5h1.1M387 88.5h1.1M363 105.5h1.1M361 99.5h1.1M349 102.5h1.1M359 111.5h1.1M375 86.5h1.1M397 75.5h1.1M364 101.5h1.1M403 85.5h1.1M387 74.5h1.1M400 79.5h1.1M395 77.5h1.1M363 97.5h1.1M397 91.5h1.1M370 120.5h1.1M383 106.5h1.1M350 106.5h1.1M352 96.5h1.1M382 95.5h1.1M379 112.5h1.1M396 84.5h1.1M362 106.5h1.1M380 80.5h1.1M387 84.5h1.1M364 106.5h1.1M405 73.5h1.1M384 93.5h1.1M368 102.5h1.1M388 92.5h1.1M394 94.5h1.1M358 110.5h1.1M368 95.5h1.1M358 114.5h1.1M389 87.5h1.1M391 82.5h1.1M382 100.5h1.1M395 95.5h1.1M393 84.5h1.1M376 102.5h1.1M370 106.5h1.1M355 111.5h1.1M370 89.5h1.1M368 104.5h1.1M364 95.5h1.1M368 115.5h1.1M387 89.5h1.1M366 103.5h1.1M371 101.5h1.1M396 93.5h1.1M376 84.5h1.1M364 91.5h1.1M379 96.5h1.1M359 107.5h1.1M371 106.5h1.1M403 88.5h1.1M396 95.5h1.1M359 98.5h1.1M388 94.5h1.1M355 116.5h1.1M378 97.5h1.1M375 103.5h1.1M367 105.5h1.1M376 104.5h1.1M370 104.5h1.1M398 92.5h1.1M363 107.5h1.1M400 88.5h1.1M364 107.5h1.1M363 110.5h1.1M380 84.5h1.1M376 108.5h1.1M361 113.5h1.1M399 78.5h1.1M370 98.5h1.1M396 88.5h1.1M362 111.5h1.1M398 82.5h1.1M404 77.5h1.1M368 101.5h1.1M370 101.5h1.1M371 111.5h1.1M386 90.5h1.1M368 96.5h1.1M404 94.5h1.1M386 103.5h1.1M375 90.5h1.1M375 107.5h1.1M369 101.5h1.1M364 104.5h1.1M379 97.5h1.1M367 94.5h1.1M390 94.5h1.1M379 96.5h1.1M402 80.5h1.1M363 103.5h1.1M382 92.5h1.1M363 95.5h1.1M371 110.5h1.1M348 111.5h1.1M369 106.5h1.1M363 101.5h1.1M394 92.5h1.1M364 98.5h1.1M366 106.5h1.1M389 79.5h1.1M362 87.5h1.1M382 101.5h1.1M375 97.5h1.1M382 100.5h1.1M367 99.5h1.1M389 85.5h1.1M366 109.5h1.1M389 88.5h1.1M377 109.5h1.1M367 113.5h1.1M357 100.5h1.1M361 103.5h1.1M403 81.5h1.1M399 75.5h1.1M358 108.5h1.1M387 86.5h1.1M389 91.5h1.1M374 108.5h1.1M386 108.5h1.1M387 92.5h1.1M365 96.5h1.1M347 106.5h1.1M395 78.5h1.1M364 97.5h1.1M390 84.5h1.1M371 92.5h1.1M403 83.5h1.1M366 103.5h1.1M383 83.5h1.1M373 105.5h1.1M403 76.5h1.1M369 105.5h1.1M354 110.5h1.1M376 85.5h1.1M373 83.5h1.1M358 105.5h1.1M385 84.5h1.1M391 84.5h1.1M377 102.5h1.1M375 100.5h1.1M396 82.5h1.1M374 94.5h1.1M388 93.5h1.1M372 96.5h1.1M363 102.5h1.1M397 81.5h1.1M377 99.5h1.1M364 119.5h1.1M393 104.5h1.1M370 93.5h1.1M400 84.5h1.1M394 83.5h1.1M390 89.5h1.1M361 113.5h1.1M371 102.5h1.1M395 89.5h1.1M389 74.5h1.1M392 88.5h1.1M386 99.5h1.1M384 108.5h1.1M356 103.5h1.1M379 103.5h1.1M396 98.5h1.1M379 97.5h1.1M370 110.5h1.1M394 77.5h1.1M360 100.5h1.1M379 86.5h1.1M373 89.5h1.1M389 90.5h1.1M387 69.5h1.1M368 106.5h1.1M389 71.5h1.1M397 88.5h1.1M385 96.5h1.1M377 94.5h1.1M390 73.5h1.1M372 91.5h1.1M361 104.5h1.1M360 106.5h1.1M369 122.5h1.1M377 71.5h1.1M376 95.5h1.1M385 101.5h1.1M399 97.5h1.1M368 114.5h1.1M369 92.5h1.1M390 98.5h1.1M371 92.5h1.1M369 97.5h1.1M376 98.5h1.1M372 103.5h1.1M360 97.5h1.1M343 104.5h1.1M384 66.5h1.1M383 81.5h1.1M375 86.5h1.1M392 90.5h1.1M353 105.5h1.1M405 82.5h1.1M379 101.5h1.1M396 96.5h1.1M364 120.5h1.1M361 109.5h1.1M367 99.5h1.1M369 110.5h1.1M376 104.5h1.1M389 101.5h1.1M366 110.5h1.1M387 72.5h1.1M393 78.5h1.1M362 92.5h1.1M366 98.5h1.1M373 109.5h1.1M364 104.5h1.1M362 105.5h1.1M357 110.5h1.1M389 76.5h1.1M376 97.5h1.1M360 106.5h1.1M405 72.5h1.1M363 98.5h1.1M391 85.5h1.1M387 92.5h1.1M372 107.5h1.1M383 88.5h1.1M369 102.5h1.1M389 99.5h1.1M344 125.5h1.1M362 119.5h1.1M372 101.5h1.1M383 87.5h1.1M389 93.5h1.1M361 105.5h1.1M358 104.5h1.1M373 103.5h1.1M395 103.5h1.1M360 104.5h1.1M350 102.5h1.1M370 94.5h1.1M368 97.5h1.1M374 105.5h1.1M363 97.5h1.1M379 93.5h1.1M387 89.5h1.1M403 84.5h1.1M359 100.5h1.1M360 108.5h1.1M391 84.5h1.1M385 95.5h1.1M383 92.5h1.1M348 106.5h1.1M396 85.5h1.1M362 111.5h1.1M347 118.5h1.1M363 103.5h1.1M366 110.5h1.1M391 85.5h1.1M367 98.5h1.1M362 107.5h1.1M364 97.5h1.1M363 121.5h1.1M391 93.5h1.1M368 95.5h1.1M344 106.5h1.1M391 79.5h1.1M359 92.5h1.1M390 90.5h1.1M351 98.5h1.1M388 90.5h1.1M360 120.5h1.1M367 104.5h1.1M398 78.5h1.1M350 117.5h1.1M370 97.5h1.1M383 97.5h1.1M363 101.5h1.1M393 86.5h1.1M369 94.5h1.1M352 114.5h1.1M391 91.5h1.1M379 108.5h1.1M369 112.5h1.1M367 101.5h1.1M390 87.5h1.1M382 94.5h1.1M385 94.5h1.1M350 120.5h1.1M363 105.5h1.1M381 84.5h1.1M390 81.5h1.1M369 111.5h1.1M368 98.5h1.1M381 102.5h1.1M369 94.5h1.1M406 84.5h1.1M387 86.5h1.1M383 91.5h1.1M366 110.5h1.1M376 96.5h1.1M382 91.5h1.1M389 91.5h1.1M369 108.5h1.1M403 93.5h1.1M394 75.5h1.1M400 87.5h1.1M386 103.5h1.1M368 114.5h1.1M369 96.5h1.1M371 94.5h1.1M375 97.5h1.1M374 90.5h1.1M367 107.5h1.1M376 84.5h1.1M389 89.5h1.1M366 95.5h1.1M356 109.5h1.1M357 104.5h1.1M367 95.5h1.1M397 71.5h1.1M378 95.5h1.1M396 74.5h1.1M387 96.5h1.1M352 95.5h1.1M395 73.5h1.1M382 96.5h1.1M391 83.5h1.1M395 93.5h1.1M366 105.5h1.1M398 87.5h1.1M377 101.5h1.1M349 98.5h1.1M382 92.5h1.1M373 106.5h1.1M367 109.5h1.1M394 89.5h1.1M393 74.5h1.1M360 103.5h1.1M388 84.5h1.1M400 78.5h1.1M405 78.5h1.1M368 111.5h1.1M365 115.5h1.1M370 110.5h1.1M395 79.5h1.1M407 81.5h1.1M349 110.5h1.1M406 82.5h1.1M375 86.5h1.1M400 96.5h1.1M374 91.5h1.1M379 89.5h1.1M397 68.5h1.1M366 97.5h1.1M399 72.5h1.1M395 82.5h1.1M369 104.5h1.1M368 94.5h1.1M380 105.5h1.1M371 100.5h1.1M389 103.5h1.1M374 88.5h1.1M403 76.5h1.1M382 109.5h1.1M363 108.5h1.1M347 111.5h1.1M367 102.5h1.1M402 95.5h1.1M370 109.5h1.1M380 100.5h1.1M402 73.5h1.1M373 93.5h1.1M368 104.5h1.1M384 89.5h1.1M391 78.5h1.1M374 100.5h1.1M366 91.5h1.1M395 98.5h1.1M370 112.5h1.1M383 79.5h1.1M365 107.5h1.1M396 79.5h1.1M366 106.5h1.1M367 90.5h1.1M394 80.5h1.1M381 99.5h1.1M393 75.5h1.1M359 96.5h1.1M384 93.5h1.1M352 105.5h1.1M384 103.5h1.1M392 82.5h1.1M362 121.5h1.1M354 104.5h1.1M391 93.5h1.1M370 101.5h1.1M380 92.5h1.1M377 92.5h1.1M384 83.5h1.1M401 75.5h1.1M382 91.5h1.1M362 107.5h1.1M355 102.5h1.1M380 91.5h1.1M361 100.5h1.1M390 90.5h1.1M359 115.5h1.1M375 106.5h1.1M374 110.5h1.1M378 106.5h1.1M370 99.5h1.1M356 111.5h1.1M377 100.5h1.1M404 78.5h1.1M350 124.5h1.1M390 86.5h1.1M375 105.5h1.1M362 105.5h1.1M374 98.5h1.1M357 83.5h1.1M365 98.5h1.1M363 101.5h1.1M407 91.5h1.1M386 92.5h1.1M376 97.5h1.1M383 106.5h1.1M383 96.5h1.1M384 93.5h1.1M398 94.5h1.1M352 99.5h1.1M383 92.5h1.1M349 112.5h1.1M370 99.5h1.1M377 96.5h1.1M393 99.5h1.1M368 101.5h1.1M362 99.5h1.1M380 99.5h1.1M394 91.5h1.1M365 100.5h1.1M395 98.5h1.1M392 82.5h1.1M349 110.5h1.1M382 98.5h1.1M376 95.5h1.1M373 105.5h1.1M350 104.5h1.1M365 113.5h1.1M373 90.5h1.1M396 77.5h1.1M386 92.5h1.1M386 94.5h1.1M355 104.5h1.1M395 84.5h1.1M353 109.5h1.1M370 94.5h1.1M367 104.5h1.1M386 106.5h1.1M357 105.5h1.1M366 112.5h1.1M379 118.5h1.1M358 104.5h1.1M402 84.5h1.1M401 78.5h1.1M364 101.5h1.1M383 85.5h1.1M371 102.5h1.1M389 71.5h1.1M380 91.5h1.1M381 92.5h1.1M380 98.5h1.1M373 86.5h1.1M389 88.5h1.1M399 99.5h1.1M347 107.5h1.1M397 79.5h1.1M372 89.5h1.1M383 79.5h1.1M336 104.5h1.1M393 74.5h1.1M388 88.5h1.1M363 106.5h1.1M365 113.5h1.1M344 103.5h1.1M398 84.5h1.1M395 100.5h1.1M362 108.5h1.1M358 100.5h1.1M391 78.5h1.1M372 99.5h1.1M363 110.5h1.1M384 98.5h1.1M386 97.5h1.1M402 102.5h1.1M361 107.5h1.1M382 95.5h1.1M396 81.5h1.1M372 90.5h1.1M400 84.5h1.1M406 84.5h1.1M396 93.5h1.1M353 86.5h1.1M363 115.5h1.1M382 105.5h1.1M390 86.5h1.1M370 97.5h1.1M382 96.5h1.1M378 111.5h1.1M379 86.5h1.1M363 115.5h1.1M399 86.5h1.1M389 102.5h1.1M349 103.5h1.1M364 97.5h1.1M398 83.5h1.1M377 99.5h1.1M397 95.5h1.1M394 73.5h1.1M378 81.5h1.1M367 105.5h1.1M382 97.5h1.1M406 76.5h1.1M395 97.5h1.1M383 73.5h1.1M380 90.5h1.1M375 90.5h1.1M388 87.5h1.1M373 106.5h1.1M399 79.5h1.1M367 104.5h1.1M362 112.5h1.1M380 98.5h1.1M394 87.5h1.1M384 88.5h1.1M355 112.5h1.1M372 95.5h1.1M399 80.5h1.1M379 103.5h1.1M358 114.5h1.1M397 76.5h1.1M375 98.5h1.1M365 115.5h1.1M385 111.5h1.1M400 73.5h1.1M399 84.5h1.1M367 97.5h1.1M388 91.5h1.1M370 103.5h1.1M353 106.5h1.1M386 90.5h1.1M374 94.5h1.1M393 76.5h1.1M391 89.5h1.1M401 78.5h1.1M386 88.5h1.1M372 103.5h1.1M367 107.5h1.1M365 118.5h1.1M382 96.5h1.1M399 92.5h1.1M350 99.5h1.1M357 105.5h1.1M379 85.5h1.1M374 100.5h1.1M373 102.5h1.1M388 96.5h1.1M358 107.5h1.1M405 83.5h1.1M371 96.5h1.1M355 108.5h1.1M398 79.5h1.1M390 85.5h1.1M360 104.5h1.1M398 85.5h1.1M368 96.5h1.1M382 97.5h1.1M382 90.5h1.1M390 81.5h1.1M402 73.5h1.1M377 77.5h1.1M405 86.5h1.1M364 103.5h1.1M348 113.5h1.1M364 104.5h1.1M381 82.5h1.1M366 100.5h1.1M357 102.5h1.1M351 106.5h1.1M379 84.5h1.1M388 99.5h1.1M357 105.5h1.1M382 99.5h1.1M400 89.5h1.1M386 104.5h1.1M364 99.5h1.1M384 84.5h1.1M383 88.5h1.1M372 100.5h1.1M362 100.5h1.1M374 111.5h1.1M394 83.5h1.1M360 109.5h1.1M363 106.5h1.1M361 107.5h1.1M370 92.5h1.1M400 90.5h1.1M384 79.5h1.1M393 95.5h1.1M398 74.5h1.1M399 82.5h1.1M393 88.5h1.1M395 92.5h1.1M374 109.5h1.1M365 105.5h1.1M370 109.5h1.1M404 87.5h1.1M369 91.5h1.1M359 111.5h1.1M380 96.5h1.1M399 77.5h1.1M382 104.5h1.1" stroke="#000" stroke-width="1.1" stroke-opacity="0.75" fill="none"/>
<path d="M441 109.5h1.15M438 112.5h1.15M445 121.5h1.15M441 106.5h1.15M443 84.5h1.15M446 112.5h1.15M442 121.5h1.15M448 113.5h1.15M446 129.5h1.15M452 121.5h1.15M438 134.5h1.15M445 118.5h1.15M446 112.5h1.15M446 127.5h1.15M432 133.5h1.15M438 107.5h1.15M446 99.5h1.15M448 142.5h1.15M445 105.5h1.15M445 123.5h1.15M452 106.5h1.15M442 120.5h1.15M440 143.5h1.15M448 90.5h1.15M443 87.5h1.15M454 127.5h1.15M443 146.5h1.15M440 121.5h1.15M452 110.5h1.15M436 132.5h1.15M444 97.5h1.15M448 128.5h1.15M443 142.5h1.15M441 140.5h1.15M447 129.5h1.15M437 105.5h1.15M443 109.5h1.15M449 97.5h1.15M453 140.5h1.15M443 114.5h1.15M444 114.5h1.15M442 120.5h1.15M448 102.5h1.15M442 126.5h1.15M446 125.5h1.15M452 124.5h1.15M452 116.5h1.15M435 66.5h1.15M452 111.5h1.15M442 88.5h1.15M446 82.5h1.15M446 105.5h1.15M441 111.5h1.15M448 109.5h1.15M450 98.5h1.15M444 79.5h1.15M449 124.5h1.15M451 104.5h1.15M446 140.5h1.15M446 132.5h1.15M447 117.5h1.15M442 86.5h1.15M446 130.5h1.15M443 134.5h1.15M442 128.5h1.15M431 109.5h1.15M434 127.5h1.15M447 100.5h1.15M449 120.5h1.15M447 122.5h1.15M445 110.5h1.15M443 95.5h1.15M448 110.5h1.15M442 98.5h1.15M444 91.5h1.15M453 135.5h1.15M436 112.5h1.15M441 105.5h1.15M443 105.5h1.15M433 123.5h1.15M437 108.5h1.15M451 101.5h1.15M447 120.5h1.15M444 118.5h1.15M452 97.5h1.15M439 94.5h1.15M456 140.5h1.15M444 109.5h1.15M441 138.5h1.15M451 126.5h1.15M447 113.5h1.15M445 110.5h1.15M434 102.5h1.15M432 107.5h1.15M444 98.5h1.15M450 112.5h1.15M440 96.5h1.15M445 117.5h1.15M435 90.5h1.15M435 125.5h1.15M444 121.5h1.15M448 119.5h1.15M449 103.5h1.15M451 140.5h1.15M443 112.5h1.15M449 99.5h1.15M438 127.5h1.15M442 110.5h1.15M444 117.5h1.15M444 127.5h1.15M449 88.5h1.15M447 129.5h1.15M442 94.5h1.15M430 90.5h1.15M449 107.5h1.15M450 143.5h1.15M447 102.5h1.15M446 124.5h1.15M447 96.5h1.15M451 127.5h1.15M441 121.5h1.15M444 137.5h1.15M438 118.5h1.15M443 115.5h1.15M439 78.5h1.15M439 121.5h1.15M432 130.5h1.15M444 118.5h1.15M450 118.5h1.15M426 126.5h1.15M452 132.5h1.15M444 97.5h1.15M440 113.5h1.15M446 123.5h1.15M443 120.5h1.15M444 96.5h1.15M452 75.5h1.15M445 121.5h1.15M446 129.5h1.15M443 123.5h1.15M439 97.5h1.15M443 123.5h1.15M439 112.5h1.15M451 101.5h1.15M443 86.5h1.15M448 79.5h1.15M452 101.5h1.15M450 106.5h1.15M440 116.5h1.15M454 115.5h1.15M433 119.5h1.15M429 113.5h1.15M439 141.5h1.15M444 99.5h1.15M440 100.5h1.15M432 104.5h1.15M435 79.5h1.15M434 119.5h1.15M448 129.5h1.15M452 123.5h1.15M446 147.5h1.15M444 68.5h1.15M442 139.5h1.15M460 120.5h1.15M451 103.5h1.15M448 136.5h1.15M446 115.5h1.15M450 101.5h1.15M433 76.5h1.15M430 116.5h1.15M451 146.5h1.15M440 127.5h1.15M447 102.5h1.15M440 109.5h1.15M442 102.5h1.15M454 119.5h1.15M446 113.5h1.15M446 89.5h1.15M435 85.5h1.15M449 137.5h1.15M440 89.5h1.15M447 92.5h1.15M446 98.5h1.15M447 88.5h1.15M435 95.5h1.15M446 129.5h1.15M439 99.5h1.15M451 111.5h1.15M446 68.5h1.15M444 102.5h1.15M462 115.5h1.15M449 115.5h1.15M442 143.5h1.15M449 124.5h1.15M452 81.5h1.15M438 96.5h1.15M456 108.5h1.15M441 115.5h1.15M442 126.5h1.15M440 80.5h1.15M442 69.5h1.15M455 129.5h1.15M445 94.5h1.15M438 67.5h1.15M443 95.5h1.15M446 105.5h1.15M450 89.5h1.15M442 90.5h1.15M445 134.5h1.15M461 91.5h1.15M443 120.5h1.15M445 118.5h1.15M437 106.5h1.15M441 86.5h1.15M451 94.5h1.15M449 108.5h1.15M441 119.5h1.15M442 136.5h1.15M442 127.5h1.15M445 106.5h1.15M442 106.5h1.15M441 137.5h1.15M445 144.5h1.15M444 103.5h1.15M442 138.5h1.15M449 125.5h1.15M450 119.5h1.15M441 92.5h1.15M457 88.5h1.15M446 122.5h1.15M455 104.5h1.15M436 122.5h1.15M447 80.5h1.15M450 146.5h1.15M449 92.5h1.15M450 111.5h1.15M435 111.5h1.15M438 103.5h1.15M448 104.5h1.15M432 123.5h1.15M443 115.5h1.15M446 116.5h1.15M449 116.5h1.15M446 100.5h1.15M439 126.5h1.15M438 104.5h1.15M447 94.5h1.15M448 127.5h1.15M446 77.5h1.15M445 104.5h1.15M445 106.5h1.15M436 111.5h1.15M444 83.5h1.15M449 95.5h1.15M437 111.5h1.15M447 126.5h1.15M448 112.5h1.15M458 110.5h1.15M444 97.5h1.15M443 114.5h1.15M438 127.5h1.15M434 133.5h1.15M433 114.5h1.15M448 95.5h1.15M444 141.5h1.15M446 100.5h1.15M435 141.5h1.15M432 109.5h1.15M434 99.5h1.15M454 110.5h1.15M451 100.5h1.15M436 111.5h1.15M445 124.5h1.15M445 109.5h1.15M438 105.5h1.15M440 114.5h1.15M450 122.5h1.15M448 114.5h1.15M449 125.5h1.15M446 126.5h1.15M445 120.5h1.15M447 128.5h1.15M443 114.5h1.15M454 137.5h1.15M446 122.5h1.15M447 131.5h1.15M444 110.5h1.15M440 86.5h1.15M444 105.5h1.15M442 115.5h1.15M439 121.5h1.15M449 113.5h1.15M456 143.5h1.15M446 88.5h1.15M444 79.5h1.15M440 110.5h1.15M436 101.5h1.15M448 115.5h1.15M448 127.5h1.15M445 88.5h1.15M439 93.5h1.15M453 113.5h1.15M445 85.5h1.15M447 99.5h1.15M454 139.5h1.15M431 113.5h1.15M447 113.5h1.15M446 136.5h1.15M443 80.5h1.15M444 116.5h1.15M452 113.5h1.15M440 119.5h1.15M440 94.5h1.15M455 106.5h1.15M450 112.5h1.15M447 128.5h1.15M449 100.5h1.15M445 126.5h1.15" stroke="#3a3a3a" stroke-width="1.15" stroke-opacity="0.65" fill="none"/>
<path d="M441 120.5h1.1M446 112.5h1.1M422 107.5h1.1M431 88.5h1.1M435 89.5h1.1M439 100.5h1.1M453 101.5h1.1M438 133.5h1.1M432 90.5h1.1M432 98.5h1.1M439 77.5h1.1M446 113.5h1.1M439 110.5h1.1M427 130.5h1.1M430 146.5h1.1M423 120.5h1.1M422 93.5h1.1M428 114.5h1.1M427 115.5h1.1M446 108.5h1.1M418 89.5h1.1M436 116.5h1.1M418 87.5h1.1M447 108.5h1.1M439 104.5h1.1M443 121.5h1.1M436 103.5h1.1M426 98.5h1.1M427 127.5h1.1M420 85.5h1.1M431 110.5h1.1M436 114.5h1.1M438 99.5h1.1M433 94.5h1.1M436 99.5h1.1M434 122.5h1.1M431 93.5h1.1M431 99.5h1.1M436 96.5h1.1M432 119.5h1.1M446 102.5h1.1M441 93.5h1.1M422 116.5h1.1M435 72.5h1.1M439 74.5h1.1M431 115.5h1.1M432 145.5h1.1M434 100.5h1.1M444 116.5h1.1M438 83.5h1.1M427 112.5h1.1M434 113.5h1.1M453 120.5h1.1M421 96.5h1.1M445 146.5h1.1M431 91.5h1.1M444 89.5h1.1M436 125.5h1.1M433 135.5h1.1M428 107.5h1.1M464 78.5h1.1M440 126.5h1.1M431 96.5h1.1M435 89.5h1.1M436 99.5h1.1M421 92.5h1.1M437 124.5h1.1M442 113.5h1.1M414 123.5h1.1M432 126.5h1.1M411 123.5h1.1M447 133.5h1.1M453 145.5h1.1M462 113.5h1.1M417 105.5h1.1M434 92.5h1.1M430 102.5h1.1M450 110.5h1.1M440 115.5h1.1M436 84.5h1.1M444 102.5h1.1M429 106.5h1.1M449 99.5h1.1M430 98.5h1.1M451 116.5h1.1M438 91.5h1.1M438 119.5h1.1M419 89.5h1.1M413 114.5h1.1M413 89.5h1.1M442 132.5h1.1M455 135.5h1.1M430 94.5h1.1M416 85.5h1.1M440 85.5h1.1M417 106.5h1.1M436 130.5h1.1M431 123.5h1.1M452 123.5h1.1M448 86.5h1.1M448 130.5h1.1M428 124.5h1.1M453 99.5h1.1M437 95.5h1.1M441 107.5h1.1M439 140.5h1.1M416 114.5h1.1M444 109.5h1.1M412 140.5h1.1M442 139.5h1.1M434 117.5h1.1M436 122.5h1.1M419 134.5h1.1M449 96.5h1.1M433 118.5h1.1M447 102.5h1.1M425 91.5h1.1M425 119.5h1.1M436 131.5h1.1M450 145.5h1.1M416 125.5h1.1M427 132.5h1.1M428 106.5h1.1M431 81.5h1.1M429 98.5h1.1M450 118.5h1.1M445 99.5h1.1M435 146.5h1.1M447 133.5h1.1M450 106.5h1.1M426 143.5h1.1M425 122.5h1.1M445 141.5h1.1M465 107.5h1.1M426 106.5h1.1M446 110.5h1.1M424 132.5h1.1M447 147.5h1.1M438 112.5h1.1M417 116.5h1.1M428 93.5h1.1M440 106.5h1.1M422 120.5h1.1M443 86.5h1.1M440 102.5h1.1M431 89.5h1.1M441 114.5h1.1M430 127.5h1.1M438 117.5h1.1M421 105.5h1.1M455 91.5h1.1M431 79.5h1.1M452 110.5h1.1M466 139.5h1.1M458 105.5h1.1M435 109.5h1.1M437 102.5h1.1M434 89.5h1.1M440 130.5h1.1M423 124.5h1.1M440 86.5h1.1M436 136.5h1.1M457 93.5h1.1M461 109.5h1.1M416 90.5h1.1M422 116.5h1.1M446 95.5h1.1M452 99.5h1.1M437 89.5h1.1M436 146.5h1.1M468 114.5h1.1M425 123.5h1.1M443 121.5h1.1M440 110.5h1.1M422 108.5h1.1M447 103.5h1.1M456 125.5h1.1M434 87.5h1.1M437 94.5h1.1M445 124.5h1.1M449 83.5h1.1M447 141.5h1.1M422 105.5h1.1M422 114.5h1.1M427 136.5h1.1M416 113.5h1.1M432 99.5h1.1M426 120.5h1.1M423 123.5h1.1M448 93.5h1.1M440 123.5h1.1M447 129.5h1.1M433 119.5h1.1M429 96.5h1.1M423 128.5h1.1M439 136.5h1.1M423 75.5h1.1M443 97.5h1.1M447 111.5h1.1M434 135.5h1.1M419 133.5h1.1M443 123.5h1.1M425 98.5h1.1M433 125.5h1.1M421 110.5h1.1M461 91.5h1.1M456 76.5h1.1M423 129.5h1.1M418 79.5h1.1M434 134.5h1.1M453 111.5h1.1M434 94.5h1.1M417 98.5h1.1M439 97.5h1.1M439 118.5h1.1M412 129.5h1.1M431 96.5h1.1M431 104.5h1.1M421 98.5h1.1M438 132.5h1.1M450 129.5h1.1M450 94.5h1.1M422 104.5h1.1M427 113.5h1.1M445 76.5h1.1M430 100.5h1.1M430 113.5h1.1M467 83.5h1.1M426 111.5h1.1M423 99.5h1.1M434 130.5h1.1M459 92.5h1.1M433 118.5h1.1M431 105.5h1.1M437 131.5h1.1M431 95.5h1.1M440 122.5h1.1M425 132.5h1.1M432 141.5h1.1M434 81.5h1.1M444 89.5h1.1M434 129.5h1.1M431 104.5h1.1M437 115.5h1.1M422 135.5h1.1M451 114.5h1.1M426 108.5h1.1M414 79.5h1.1M446 96.5h1.1M433 129.5h1.1M437 82.5h1.1M412 116.5h1.1M415 114.5h1.1M421 110.5h1.1M433 125.5h1.1M433 96.5h1.1M455 137.5h1.1M457 102.5h1.1M437 130.5h1.1M434 99.5h1.1M462 115.5h1.1M436 104.5h1.1M449 143.5h1.1M428 90.5h1.1M434 98.5h1.1M431 138.5h1.1M425 126.5h1.1M440 109.5h1.1M423 105.5h1.1M433 85.5h1.1M441 105.5h1.1M465 117.5h1.1M436 128.5h1.1M444 138.5h1.1M430 118.5h1.1M447 96.5h1.1M443 103.5h1.1M442 140.5h1.1M429 112.5h1.1M432 137.5h1.1M432 80.5h1.1M421 101.5h1.1M438 95.5h1.1M420 115.5h1.1M422 95.5h1.1M415 85.5h1.1M451 109.5h1.1M427 66.5h1.1M422 99.5h1.1M446 118.5h1.1M429 88.5h1.1M440 109.5h1.1M432 93.5h1.1M440 103.5h1.1M438 115.5h1.1M456 119.5h1.1M449 96.5h1.1M414 140.5h1.1M448 117.5h1.1M432 98.5h1.1M437 136.5h1.1M453 103.5h1.1M449 127.5h1.1M464 108.5h1.1M451 101.5h1.1M426 94.5h1.1M417 95.5h1.1M447 105.5h1.1M411 137.5h1.1M430 114.5h1.1M430 109.5h1.1M425 119.5h1.1M454 104.5h1.1M440 86.5h1.1M432 81.5h1.1M448 138.5h1.1M429 105.5h1.1M452 142.5h1.1M433 116.5h1.1M433 126.5h1.1M451 103.5h1.1M417 112.5h1.1M420 110.5h1.1M412 140.5h1.1M435 109.5h1.1M439 128.5h1.1M435 113.5h1.1M435 123.5h1.1M448 147.5h1.1M450 80.5h1.1M453 133.5h1.1M433 98.5h1.1M435 115.5h1.1M456 104.5h1.1M441 101.5h1.1M454 84.5h1.1M426 128.5h1.1M435 106.5h1.1M441 74.5h1.1M429 124.5h1.1M463 142.5h1.1M414 119.5h1.1M447 77.5h1.1M419 100.5h1.1M439 116.5h1.1M424 109.5h1.1M436 133.5h1.1M436 91.5h1.1M424 98.5h1.1M425 133.5h1.1M435 123.5h1.1M447 102.5h1.1M458 75.5h1.1M441 82.5h1.1M428 85.5h1.1M435 72.5h1.1M439 82.5h1.1M446 92.5h1.1M441 89.5h1.1M435 132.5h1.1M457 124.5h1.1M439 112.5h1.1M435 99.5h1.1M451 109.5h1.1M419 84.5h1.1M422 118.5h1.1M456 91.5h1.1M432 100.5h1.1M446 93.5h1.1M452 82.5h1.1M424 131.5h1.1M416 76.5h1.1M434 84.5h1.1M440 87.5h1.1M426 96.5h1.1M422 107.5h1.1M442 100.5h1.1M412 138.5h1.1M419 134.5h1.1M430 128.5h1.1M426 108.5h1.1M438 114.5h1.1M442 99.5h1.1M461 76.5h1.1M440 117.5h1.1M448 132.5h1.1M413 116.5h1.1M425 109.5h1.1M450 127.5h1.1M414 116.5h1.1" stroke="#666" stroke-width="1.1" stroke-opacity="0.55" fill="none"/>
<path d="M451 188.5h1.15M443 206.5h1.15M436 198.5h1.15M448 158.5h1.15M450 208.5h1.15M442 222.5h1.15M447 186.5h1.15M449 205.5h1.15M432 200.5h1.15M458 187.5h1.15M449 185.5h1.15M444 209.5h1.15M440 180.5h1.15M438 182.5h1.15M462 206.5h1.15M444 207.5h1.15M449 218.5h1.15M442 181.5h1.15M444 169.5h1.15M449 210.5h1.15M441 165.5h1.15M445 184.5h1.15M444 188.5h1.15M448 221.5h1.15M450 192.5h1.15M445 171.5h1.15M453 191.5h1.15M443 214.5h1.15M444 161.5h1.15M446 169.5h1.15M444 209.5h1.15M449 194.5h1.15M431 174.5h1.15M437 188.5h1.15M434 193.5h1.15M453 172.5h1.15M450 182.5h1.15M442 216.5h1.15M447 197.5h1.15M437 211.5h1.15M444 191.5h1.15M453 182.5h1.15M449 197.5h1.15M456 176.5h1.15M443 198.5h1.15M451 186.5h1.15M446 187.5h1.15M447 187.5h1.15M447 175.5h1.15M449 215.5h1.15M452 166.5h1.15M446 195.5h1.15M447 170.5h1.15M445 207.5h1.15M447 188.5h1.15M441 195.5h1.15M451 200.5h1.15M449 198.5h1.15M447 195.5h1.15M445 198.5h1.15M442 198.5h1.15M441 184.5h1.15M440 187.5h1.15M442 187.5h1.15M450 179.5h1.15M448 182.5h1.15M438 214.5h1.15M441 167.5h1.15M452 220.5h1.15M454 183.5h1.15M450 202.5h1.15M456 192.5h1.15M442 189.5h1.15M448 201.5h1.15M442 221.5h1.15M457 190.5h1.15M448 191.5h1.15M448 182.5h1.15M448 226.5h1.15M442 212.5h1.15M445 211.5h1.15M434 192.5h1.15M443 159.5h1.15M441 200.5h1.15M450 161.5h1.15M453 181.5h1.15M447 208.5h1.15M441 182.5h1.15M440 180.5h1.15M444 204.5h1.15M444 199.5h1.15M440 183.5h1.15M447 198.5h1.15M447 164.5h1.15M450 176.5h1.15M441 195.5h1.15M446 207.5h1.15M439 191.5h1.15M447 171.5h1.15M446 183.5h1.15M444 211.5h1.15M450 181.5h1.15M439 196.5h1.15M454 199.5h1.15M448 182.5h1.15M449 192.5h1.15M447 161.5h1.15M442 182.5h1.15M443 192.5h1.15M451 202.5h1.15M446 214.5h1.15M448 183.5h1.15M444 200.5h1.15M450 189.5h1.15M449 178.5h1.15M439 178.5h1.15M456 191.5h1.15M451 192.5h1.15M450 179.5h1.15M448 238.5h1.15M446 191.5h1.15M450 203.5h1.15M459 187.5h1.15M445 239.5h1.15M446 185.5h1.15M446 195.5h1.15M451 212.5h1.15M440 191.5h1.15M444 175.5h1.15M444 218.5h1.15M451 203.5h1.15M452 187.5h1.15M447 187.5h1.15M451 187.5h1.15M446 194.5h1.15M446 162.5h1.15M434 194.5h1.15M441 181.5h1.15M440 200.5h1.15M448 197.5h1.15M446 174.5h1.15M440 214.5h1.15M446 204.5h1.15M445 176.5h1.15M448 174.5h1.15M443 180.5h1.15M442 197.5h1.15M452 213.5h1.15M444 176.5h1.15M451 178.5h1.15M441 200.5h1.15M445 190.5h1.15M444 190.5h1.15M441 189.5h1.15M449 186.5h1.15M439 221.5h1.15M447 208.5h1.15M435 186.5h1.15M449 213.5h1.15M446 223.5h1.15M451 199.5h1.15M456 197.5h1.15M442 183.5h1.15M446 193.5h1.15M439 195.5h1.15M443 213.5h1.15M446 175.5h1.15M446 164.5h1.15M450 183.5h1.15M448 198.5h1.15M442 188.5h1.15M446 178.5h1.15M440 172.5h1.15M445 194.5h1.15M432 211.5h1.15M445 168.5h1.15M446 195.5h1.15M443 188.5h1.15M444 202.5h1.15M437 191.5h1.15M442 181.5h1.15M443 206.5h1.15M447 198.5h1.15M448 174.5h1.15M445 179.5h1.15M447 195.5h1.15M441 204.5h1.15M451 181.5h1.15M456 185.5h1.15M447 161.5h1.15M443 183.5h1.15M447 193.5h1.15M451 181.5h1.15M452 189.5h1.15M439 175.5h1.15M447 176.5h1.15M442 196.5h1.15M443 165.5h1.15M447 191.5h1.15M448 211.5h1.15M444 181.5h1.15M441 183.5h1.15M445 177.5h1.15M440 169.5h1.15M454 181.5h1.15M438 169.5h1.15M449 187.5h1.15M446 182.5h1.15M446 172.5h1.15M440 191.5h1.15M443 208.5h1.15M444 204.5h1.15M443 186.5h1.15M444 190.5h1.15M446 173.5h1.15M443 186.5h1.15M448 202.5h1.15M449 203.5h1.15M443 213.5h1.15M449 165.5h1.15M446 217.5h1.15M443 197.5h1.15M448 217.5h1.15M451 191.5h1.15M444 211.5h1.15M436 190.5h1.15M449 173.5h1.15M450 196.5h1.15M440 182.5h1.15M445 190.5h1.15M448 199.5h1.15M434 203.5h1.15M449 201.5h1.15M449 207.5h1.15M450 164.5h1.15M453 210.5h1.15M440 176.5h1.15M450 192.5h1.15M457 183.5h1.15M434 171.5h1.15M444 205.5h1.15M449 173.5h1.15M442 181.5h1.15M436 215.5h1.15M446 162.5h1.15M442 206.5h1.15M447 183.5h1.15M450 204.5h1.15M450 190.5h1.15M448 182.5h1.15M439 202.5h1.15M444 179.5h1.15M434 181.5h1.15M440 194.5h1.15M446 172.5h1.15M448 166.5h1.15M445 162.5h1.15M445 206.5h1.15M436 223.5h1.15M439 210.5h1.15M440 180.5h1.15M442 182.5h1.15M442 174.5h1.15M456 190.5h1.15M450 208.5h1.15M440 189.5h1.15M442 190.5h1.15M442 196.5h1.15M443 170.5h1.15M435 186.5h1.15M451 197.5h1.15M449 193.5h1.15M448 203.5h1.15M446 216.5h1.15M443 164.5h1.15M435 219.5h1.15M446 199.5h1.15M445 179.5h1.15M439 186.5h1.15M434 191.5h1.15M451 209.5h1.15M440 185.5h1.15M444 191.5h1.15M442 168.5h1.15M454 216.5h1.15M438 198.5h1.15M451 183.5h1.15M433 168.5h1.15M450 190.5h1.15M443 206.5h1.15M434 230.5h1.15M446 223.5h1.15M445 185.5h1.15M437 184.5h1.15M447 174.5h1.15M445 199.5h1.15M448 178.5h1.15M438 201.5h1.15M441 197.5h1.15M440 198.5h1.15M446 175.5h1.15M443 211.5h1.15M440 188.5h1.15M452 171.5h1.15M443 191.5h1.15M451 194.5h1.15M449 192.5h1.15M442 207.5h1.15M436 212.5h1.15M446 230.5h1.15M449 190.5h1.15M451 212.5h1.15M447 223.5h1.15M442 191.5h1.15M442 213.5h1.15M461 187.5h1.15M451 201.5h1.15M439 202.5h1.15M447 181.5h1.15M448 182.5h1.15M444 201.5h1.15M448 189.5h1.15M454 188.5h1.15M453 212.5h1.15M443 197.5h1.15M444 195.5h1.15M443 159.5h1.15M446 194.5h1.15M450 187.5h1.15M440 208.5h1.15M444 183.5h1.15M442 171.5h1.15M441 188.5h1.15M443 223.5h1.15M454 177.5h1.15M454 213.5h1.15M453 189.5h1.15M447 202.5h1.15M457 232.5h1.15M447 199.5h1.15M442 173.5h1.15M448 188.5h1.15M444 176.5h1.15M447 201.5h1.15M444 206.5h1.15M445 199.5h1.15M440 174.5h1.15M445 181.5h1.15M449 190.5h1.15M446 221.5h1.15M444 183.5h1.15M438 179.5h1.15M451 208.5h1.15M439 181.5h1.15M449 174.5h1.15M443 189.5h1.15M449 206.5h1.15M451 194.5h1.15M444 185.5h1.15M430 216.5h1.15M435 215.5h1.15M440 164.5h1.15M441 172.5h1.15M447 176.5h1.15M455 188.5h1.15M449 194.5h1.15M445 190.5h1.15M452 193.5h1.15" stroke="#000" stroke-width="1.15" stroke-opacity="0.78" fill="none"/>
<path d="M447 185.5h1M427 166.5h1M418 178.5h1M455 180.5h1M444 210.5h1M437 184.5h1M448 182.5h1M438 188.5h1M427 211.5h1M438 166.5h1M445 156.5h1M449 166.5h1M436 182.5h1M448 198.5h1M458 164.5h1M438 158.5h1M436 199.5h1M455 203.5h1M443 163.5h1M429 197.5h1M437 176.5h1M456 169.5h1M446 177.5h1M462 161.5h1M454 164.5h1M435 186.5h1M454 188.5h1M441 199.5h1M439 163.5h1M446 179.5h1M430 158.5h1M432 202.5h1M448 177.5h1M445 221.5h1M443 195.5h1M450 170.5h1M432 165.5h1M460 208.5h1M432 201.5h1M439 225.5h1M448 187.5h1M445 157.5h1M443 171.5h1M453 179.5h1M432 195.5h1M451 201.5h1M438 158.5h1M440 174.5h1M437 202.5h1M422 160.5h1M427 157.5h1M445 203.5h1M461 194.5h1M457 160.5h1M437 178.5h1M447 182.5h1M439 156.5h1M450 209.5h1M444 194.5h1M438 224.5h1M426 195.5h1M435 185.5h1M461 173.5h1M443 191.5h1M443 168.5h1M445 210.5h1M438 204.5h1M446 200.5h1M438 187.5h1M447 218.5h1M449 220.5h1M446 207.5h1M452 205.5h1M463 163.5h1M461 212.5h1M443 221.5h1M430 189.5h1M455 191.5h1M443 177.5h1M451 184.5h1M438 173.5h1M452 190.5h1M430 176.5h1M428 166.5h1M464 189.5h1M439 184.5h1M419 212.5h1M456 201.5h1M453 208.5h1M457 179.5h1M430 204.5h1M446 164.5h1M457 165.5h1M440 200.5h1M447 185.5h1M440 162.5h1M439 201.5h1M457 212.5h1M434 197.5h1M443 209.5h1M449 200.5h1M443 200.5h1M452 162.5h1M455 172.5h1M440 168.5h1M448 182.5h1M440 164.5h1M438 180.5h1M450 160.5h1M465 174.5h1M436 213.5h1M435 157.5h1M429 211.5h1M429 197.5h1M437 179.5h1M450 171.5h1M437 186.5h1M433 172.5h1M441 201.5h1M434 173.5h1M472 166.5h1M459 192.5h1M443 162.5h1M424 192.5h1M432 168.5h1M433 184.5h1M419 164.5h1M437 201.5h1M436 178.5h1M435 184.5h1M446 192.5h1M433 182.5h1M431 185.5h1M451 187.5h1M455 164.5h1M448 180.5h1M452 180.5h1M437 175.5h1M445 224.5h1M437 179.5h1M423 183.5h1M441 186.5h1M447 200.5h1M440 160.5h1M433 226.5h1M437 167.5h1M446 183.5h1M428 171.5h1M459 171.5h1M418 199.5h1M437 207.5h1M444 168.5h1M440 235.5h1M452 158.5h1M443 175.5h1M446 175.5h1M427 189.5h1M440 214.5h1M436 178.5h1M429 193.5h1M463 199.5h1M441 162.5h1M442 181.5h1M425 221.5h1M448 188.5h1M441 226.5h1M460 164.5h1M435 180.5h1M434 157.5h1M455 194.5h1M446 187.5h1M439 161.5h1M442 185.5h1M442 193.5h1M419 158.5h1M451 192.5h1M432 157.5h1M436 188.5h1M445 208.5h1M450 194.5h1M437 207.5h1M447 204.5h1M444 166.5h1M432 170.5h1M439 211.5h1M438 187.5h1M449 189.5h1M428 204.5h1M434 192.5h1M443 211.5h1M468 183.5h1M440 183.5h1M454 173.5h1M451 207.5h1M461 200.5h1M448 167.5h1M438 202.5h1M458 190.5h1M465 186.5h1M456 173.5h1M468 180.5h1M450 166.5h1M433 210.5h1M443 211.5h1M445 179.5h1M452 181.5h1M452 187.5h1M433 200.5h1M455 185.5h1M436 170.5h1M445 175.5h1M449 187.5h1M450 177.5h1M448 172.5h1M436 208.5h1M441 190.5h1M452 201.5h1M437 161.5h1M430 199.5h1M415 181.5h1M442 175.5h1M433 165.5h1M442 166.5h1M431 170.5h1M437 183.5h1M438 179.5h1M452 225.5h1M433 191.5h1M429 186.5h1M443 179.5h1M451 163.5h1M432 163.5h1M448 189.5h1M448 217.5h1M422 215.5h1M439 208.5h1" stroke="#222" stroke-width="1" stroke-opacity="0.55" fill="none"/>
<path d="M439 161.5h1M440 173.5h1M435 162.5h1M445 157.5h1M420 166.5h1M424 174.5h1M434 169.5h1M429 185.5h1M414 175.5h1M437 172.5h1M439 170.5h1M426 156.5h1M432 169.5h1M438 169.5h1M423 161.5h1M420 167.5h1M427 162.5h1M416 170.5h1M431 171.5h1M447 169.5h1M416 170.5h1M445 192.5h1M438 168.5h1M438 173.5h1M442 168.5h1M424 178.5h1M440 189.5h1M413 184.5h1M420 172.5h1M432 157.5h1M436 172.5h1M409 161.5h1M433 163.5h1M431 158.5h1M435 169.5h1M428 165.5h1M415 162.5h1M440 172.5h1M436 162.5h1M430 180.5h1M450 174.5h1M431 165.5h1M444 173.5h1M427 162.5h1M417 178.5h1M426 173.5h1M440 186.5h1M436 190.5h1M418 158.5h1M434 163.5h1M438 167.5h1M448 176.5h1M427 161.5h1M445 169.5h1M428 174.5h1M435 184.5h1M430 168.5h1M422 175.5h1M430 173.5h1M424 169.5h1M434 165.5h1M418 172.5h1M419 175.5h1M437 156.5h1M434 165.5h1M434 171.5h1M434 171.5h1M439 171.5h1M433 183.5h1M438 178.5h1" stroke="#333" stroke-width="1" stroke-opacity="0.55" fill="none"/>
<path d="M350 164.5h1.2M402 187.5h1.2M360 172.5h1.2M357 188.5h1.2M392 166.5h1.2M367 168.5h1.2M342 158.5h1.2M384 170.5h1.2M381 189.5h1.2M382 181.5h1.2" stroke="#444" stroke-width="1.2" stroke-opacity="0.6" fill="none"/>
<rect x="148.7" y="64" width="97.5" height="83.6" fill="none" stroke="#111" stroke-width="1.6" stroke-dasharray="4.8 1.9 1.5 1.9"/>
<rect x="62.6" y="60.4" width="191.4" height="181.1" fill="none" stroke="#2a2a2a" stroke-width="1.25"/>
<path d="M144.5 60.4V241.5M62.6 153.5H254" stroke="#111" stroke-width="1.15" fill="none"/>
<path d="M67.8 241.5v3M71.5 241.5v3M74.4 241.5v3M77.0 241.5v3M79.1 241.5v3M81.1 241.5v3M82.8 241.5v4.6M94.1 241.5v3M100.8 241.5v3M105.5 241.5v3M109.2 241.5v3M112.1 241.5v3M114.7 241.5v3M116.8 241.5v3M118.8 241.5v3M120.5 241.5v4.6M131.8 241.5v3M138.5 241.5v3M143.2 241.5v3M146.9 241.5v3M149.8 241.5v3M152.4 241.5v3M154.5 241.5v3M156.5 241.5v3M158.2 241.5v4.6M169.5 241.5v3M176.2 241.5v3M180.9 241.5v3M184.6 241.5v3M187.5 241.5v3M190.1 241.5v3M192.2 241.5v3M194.2 241.5v3M195.9 241.5v4.6M207.2 241.5v3M213.9 241.5v3M218.6 241.5v3M222.3 241.5v3M225.2 241.5v3M227.8 241.5v3M229.9 241.5v3M231.9 241.5v3M233.6 241.5v4.6M244.9 241.5v3M251.6 241.5v3M62.6 237.3h-3M62.6 233.8h-3M62.6 231.0h-3M62.6 228.5h-3M62.6 226.4h-3M62.6 224.6h-3M62.6 222.9h-5.2M62.6 212.0h-3M62.6 205.6h-3M62.6 201.0h-3M62.6 197.5h-3M62.6 194.7h-3M62.6 192.2h-3M62.6 190.1h-3M62.6 188.3h-3M62.6 186.6h-5.2M62.6 175.7h-3M62.6 169.3h-3M62.6 164.7h-3M62.6 161.2h-3M62.6 158.4h-3M62.6 155.9h-3M62.6 153.8h-3M62.6 152.0h-3M62.6 150.3h-5.2M62.6 139.4h-3M62.6 133.0h-3M62.6 128.4h-3M62.6 124.9h-3M62.6 122.1h-3M62.6 119.6h-3M62.6 117.5h-3M62.6 115.7h-3M62.6 114.0h-5.2M62.6 103.1h-3M62.6 96.7h-3M62.6 92.1h-3M62.6 88.6h-3M62.6 85.8h-3M62.6 83.3h-3M62.6 81.2h-3M62.6 79.4h-3M62.6 77.7h-5.2M62.6 66.8h-3" stroke="#111" stroke-width="0.9" fill="none"/>
<rect x="408.4" y="63.7" width="90.60000000000002" height="83.89999999999999" fill="none" stroke="#111" stroke-width="1.6" stroke-dasharray="4.8 1.9 1.5 1.9"/>
<rect x="309" y="61.5" width="192" height="180.0" fill="none" stroke="#3c3c3c" stroke-width="1.1"/>
<path d="M406.5 61.5V241.5M309 154.9H501" stroke="#111" stroke-width="1.15" fill="none"/>
<path d="M310.1 241.5v3M314.9 241.5v3M318.6 241.5v3M321.6 241.5v3M324.1 241.5v3M326.3 241.5v3M328.3 241.5v3M330.0 241.5v4.6M341.4 241.5v3M348.1 241.5v3M352.9 241.5v3M356.6 241.5v3M359.6 241.5v3M362.1 241.5v3M364.3 241.5v3M366.3 241.5v3M368.0 241.5v4.6M379.4 241.5v3M386.1 241.5v3M390.9 241.5v3M394.6 241.5v3M397.6 241.5v3M400.1 241.5v3M402.3 241.5v3M404.3 241.5v3M406.0 241.5v4.6M417.4 241.5v3M424.1 241.5v3M428.9 241.5v3M432.6 241.5v3M435.6 241.5v3M438.1 241.5v3M440.3 241.5v3M442.3 241.5v3M444.0 241.5v4.6M455.4 241.5v3M462.1 241.5v3M466.9 241.5v3M470.6 241.5v3M473.6 241.5v3M476.1 241.5v3M478.3 241.5v3M480.3 241.5v3M482.0 241.5v4.6M493.4 241.5v3M500.1 241.5v3M309 237.7h-3M309 234.2h-3M309 231.3h-3M309 228.8h-3M309 226.7h-3M309 224.9h-3M309 223.2h-5.2M309 212.2h-3M309 205.8h-3M309 201.3h-3M309 197.8h-3M309 194.9h-3M309 192.4h-3M309 190.3h-3M309 188.5h-3M309 186.8h-5.2M309 175.8h-3M309 169.4h-3M309 164.9h-3M309 161.4h-3M309 158.5h-3M309 156.0h-3M309 153.9h-3M309 152.1h-3M309 150.4h-5.2M309 139.4h-3M309 133.0h-3M309 128.5h-3M309 125.0h-3M309 122.1h-3M309 119.6h-3M309 117.5h-3M309 115.7h-3M309 114.0h-5.2M309 103.0h-3M309 96.6h-3M309 92.1h-3M309 88.6h-3M309 85.7h-3M309 83.2h-3M309 81.1h-3M309 79.3h-3M309 77.6h-5.2M309 66.6h-3" stroke="#111" stroke-width="0.9" fill="none"/>
<g font-family="Liberation Sans, sans-serif" fill="#000" stroke="#000" stroke-width="0.4">
<text x="75.4" y="259.1" font-size="12" textLength="11.4" lengthAdjust="spacingAndGlyphs">10</text><text x="87.3" y="255.4" font-size="12.4" textLength="6.3" lengthAdjust="spacingAndGlyphs">1</text>
<text x="36.0" y="228.2" font-size="12" textLength="11.4" lengthAdjust="spacingAndGlyphs">10</text><text x="47.9" y="224.5" font-size="12.4" textLength="6.3" lengthAdjust="spacingAndGlyphs">1</text>
<text x="113.1" y="259.1" font-size="12" textLength="11.4" lengthAdjust="spacingAndGlyphs">10</text><text x="125.0" y="255.4" font-size="12.4" textLength="6.3" lengthAdjust="spacingAndGlyphs">2</text>
<text x="36.0" y="191.9" font-size="12" textLength="11.4" lengthAdjust="spacingAndGlyphs">10</text><text x="47.9" y="188.2" font-size="12.4" textLength="6.3" lengthAdjust="spacingAndGlyphs">2</text>
<text x="150.8" y="259.1" font-size="12" textLength="11.4" lengthAdjust="spacingAndGlyphs">10</text><text x="162.7" y="255.4" font-size="12.4" textLength="6.3" lengthAdjust="spacingAndGlyphs">3</text>
<text x="36.0" y="155.6" font-size="12" textLength="11.4" lengthAdjust="spacingAndGlyphs">10</text><text x="47.9" y="151.9" font-size="12.4" textLength="6.3" lengthAdjust="spacingAndGlyphs">3</text>
<text x="188.5" y="259.1" font-size="12" textLength="11.4" lengthAdjust="spacingAndGlyphs">10</text><text x="200.4" y="255.4" font-size="12.4" textLength="6.3" lengthAdjust="spacingAndGlyphs">4</text>
<text x="36.0" y="119.3" font-size="12" textLength="11.4" lengthAdjust="spacingAndGlyphs">10</text><text x="47.9" y="115.6" font-size="12.4" textLength="6.3" lengthAdjust="spacingAndGlyphs">4</text>
<text x="226.2" y="259.1" font-size="12" textLength="11.4" lengthAdjust="spacingAndGlyphs">10</text><text x="238.1" y="255.4" font-size="12.4" textLength="6.3" lengthAdjust="spacingAndGlyphs">5</text>
<text x="36.0" y="83.0" font-size="12" textLength="11.4" lengthAdjust="spacingAndGlyphs">10</text><text x="47.9" y="79.3" font-size="12.4" textLength="6.3" lengthAdjust="spacingAndGlyphs">5</text>
<text x="321.3" y="260.0" font-size="12" textLength="11.4" lengthAdjust="spacingAndGlyphs">10</text><text x="333.2" y="256.3" font-size="12.4" textLength="6.3" lengthAdjust="spacingAndGlyphs">1</text>
<text x="282.0" y="228.7" font-size="12" textLength="11.4" lengthAdjust="spacingAndGlyphs">10</text><text x="293.9" y="225.0" font-size="12.4" textLength="6.3" lengthAdjust="spacingAndGlyphs">1</text>
<text x="359.3" y="260.0" font-size="12" textLength="11.4" lengthAdjust="spacingAndGlyphs">10</text><text x="371.2" y="256.3" font-size="12.4" textLength="6.3" lengthAdjust="spacingAndGlyphs">2</text>
<text x="282.0" y="192.3" font-size="12" textLength="11.4" lengthAdjust="spacingAndGlyphs">10</text><text x="293.9" y="188.6" font-size="12.4" textLength="6.3" lengthAdjust="spacingAndGlyphs">2</text>
<text x="397.3" y="260.0" font-size="12" textLength="11.4" lengthAdjust="spacingAndGlyphs">10</text><text x="409.2" y="256.3" font-size="12.4" textLength="6.3" lengthAdjust="spacingAndGlyphs">3</text>
<text x="282.0" y="155.9" font-size="12" textLength="11.4" lengthAdjust="spacingAndGlyphs">10</text><text x="293.9" y="152.2" font-size="12.4" textLength="6.3" lengthAdjust="spacingAndGlyphs">3</text>
<text x="435.3" y="260.0" font-size="12" textLength="11.4" lengthAdjust="spacingAndGlyphs">10</text><text x="447.2" y="256.3" font-size="12.4" textLength="6.3" lengthAdjust="spacingAndGlyphs">4</text>
<text x="282.0" y="119.5" font-size="12" textLength="11.4" lengthAdjust="spacingAndGlyphs">10</text><text x="293.9" y="115.8" font-size="12.4" textLength="6.3" lengthAdjust="spacingAndGlyphs">4</text>
<text x="473.3" y="260.0" font-size="12" textLength="11.4" lengthAdjust="spacingAndGlyphs">10</text><text x="485.2" y="256.3" font-size="12.4" textLength="6.3" lengthAdjust="spacingAndGlyphs">5</text>
<text x="282.0" y="83.1" font-size="12" textLength="11.4" lengthAdjust="spacingAndGlyphs">10</text><text x="293.9" y="79.4" font-size="12.4" textLength="6.3" lengthAdjust="spacingAndGlyphs">5</text>
</g>
<g font-family="Liberation Sans, sans-serif" font-weight="bold" fill="#000" stroke="#000" stroke-width="0.25">
<text x="2.8" y="30.8" font-size="25.8" stroke-width="0.4">A</text>
<text x="267.8" y="10.8" font-size="15" textLength="121.5" lengthAdjust="spacingAndGlyphs">Immune complex</text>
<text x="190.1" y="296.1" font-size="15.2" textLength="189" lengthAdjust="spacingAndGlyphs">CFSE labeled NK effectors</text>
<text transform="translate(12,235.3) rotate(-90)" font-size="14.5" textLength="169.3" lengthAdjust="spacingAndGlyphs">PKH labeled MM targets</text>
</g>
<path d="M259.5 18.5L229 47.5" stroke="#000" stroke-width="1.7" fill="none"/>
<path d="M225.5 50.5l3.2 -8.6l5.4 5.6z" fill="#000"/>
<path d="M388.5 18L424.5 47" stroke="#000" stroke-width="1.7" fill="none"/>
<path d="M428 50l-8.8 -2.6l5 -6z" fill="#000"/>
<path d="M194.2 277.1H376" stroke="#000" stroke-width="3.4" fill="none"/>
<path d="M382.5 277.1l-9 -4.4l1.8 4.4l-1.8 4.4z" fill="#000"/>
<path d="M25.6 226.3V84" stroke="#000" stroke-width="3.4" fill="none"/>
<path d="M25.6 77l-4.3 8.5h8.6z" fill="#000"/>
<path d="M66.9 334V583.8M63.5 580.0H517.6" stroke="#707070" stroke-width="1.1" fill="none"/>
<path d="M63.5 530.9h3.4M63.5 481.8h3.4M63.5 432.7h3.4M63.5 383.6h3.4M63.5 334.5h3.4M161.5 580.0v4M282.7 580.0v4M401.5 580.0v4M517.2 580.0v4" stroke="#707070" stroke-width="1.1" fill="none"/>
<g font-family="Liberation Sans, sans-serif" font-weight="bold" fill="#111" font-size="13" stroke="#000" stroke-width="0.25">
<text x="52.7" y="584.6">0</text>
<text x="37.6" y="535.5" letter-spacing="1">100</text>
<text x="37.6" y="486.4" letter-spacing="1">200</text>
<text x="37.6" y="437.3" letter-spacing="1">300</text>
<text x="37.6" y="388.2" letter-spacing="1">400</text>
<text x="37.6" y="339.1" letter-spacing="1">500</text>
</g>
<path d="M84.05 510.5V488M77.3 488H90.8" stroke="#3a3a3a" stroke-width="1.1" fill="none"/>
<rect x="77.3" y="510.5" width="13.5" height="69.5" fill="#c8c8c8" stroke="#2c2c2c" stroke-width="1.2"/>
<path d="M130.2 453.8V411.3M123.5 411.3H136.9" stroke="#3a3a3a" stroke-width="1.1" fill="none"/>
<rect x="123.5" y="453.8" width="13.400000000000006" height="126.19999999999999" fill="#808080" stroke="#2c2c2c" stroke-width="1.2"/>
<path d="M205.35 516.5V496M198.7 496H212" stroke="#3a3a3a" stroke-width="1.1" fill="none"/>
<rect x="198.7" y="516.5" width="13.300000000000011" height="63.5" fill="#c8c8c8" stroke="#2c2c2c" stroke-width="1.2"/>
<path d="M251.8 420.5V368M244.8 368H258.8" stroke="#3a3a3a" stroke-width="1.1" fill="none"/>
<rect x="244.8" y="420.5" width="14.0" height="159.5" fill="#808080" stroke="#2c2c2c" stroke-width="1.2"/>
<path d="M324.4 536V522M317.6 522H331.2" stroke="#3a3a3a" stroke-width="1.1" fill="none"/>
<rect x="317.6" y="536" width="13.599999999999966" height="44.0" fill="#c8c8c8" stroke="#2c2c2c" stroke-width="1.2"/>
<path d="M371.2 513.5V491.5M364.2 491.5H378.2" stroke="#3a3a3a" stroke-width="1.1" fill="none"/>
<rect x="364.2" y="513.5" width="14.0" height="66.5" fill="#808080" stroke="#2c2c2c" stroke-width="1.2"/>
<path d="M440.35 516V495.5M433.5 495.5H447.2" stroke="#3a3a3a" stroke-width="1.1" fill="none"/>
<rect x="433.5" y="516" width="13.699999999999989" height="64.0" fill="#c8c8c8" stroke="#2c2c2c" stroke-width="1.2"/>
<path d="M486.8 491.5V462.5M479.8 462.5H493.8" stroke="#3a3a3a" stroke-width="1.1" fill="none"/>
<rect x="479.8" y="491.5" width="14.0" height="88.5" fill="#808080" stroke="#2c2c2c" stroke-width="1.2"/>
<path d="M84 397.3V383.9H129.8V397.3" stroke="#000" stroke-width="1.3" fill="none"/>
<text x="99.8" y="390.6" font-family="Liberation Sans, sans-serif" font-weight="normal" font-size="22" letter-spacing="1.6" fill="#000" stroke="#000" stroke-width="0.45">*</text>
<path d="M207.3 351.8V338.3H253V351.8" stroke="#000" stroke-width="1.3" fill="none"/>
<text x="222.5" y="345.0" font-family="Liberation Sans, sans-serif" font-weight="normal" font-size="22" letter-spacing="1.6" fill="#000" stroke="#000" stroke-width="0.45">**</text>
<path d="M323.9 467.8V455.7H369.3V467.8" stroke="#000" stroke-width="1.3" fill="none"/>
<text x="332.6" y="462.4" font-family="Liberation Sans, sans-serif" font-weight="normal" font-size="22" letter-spacing="1.6" fill="#000" stroke="#000" stroke-width="0.45">***</text>
<path d="M440.4 442V429H485.5V442" stroke="#000" stroke-width="1.3" fill="none"/>
<text x="442.2" y="435.7" font-family="Liberation Sans, sans-serif" font-weight="normal" font-size="22" letter-spacing="1.6" fill="#000" stroke="#000" stroke-width="0.45">****</text>
<g font-family="Liberation Sans, sans-serif" font-weight="bold" fill="#000" stroke="#000" stroke-width="0.25">
<text x="1.7" y="333.3" font-size="25" stroke-width="0.4">B</text>
<text x="93" y="596.7" font-size="15" textLength="34.2" lengthAdjust="spacingAndGlyphs">K562</text>
<text x="212.7" y="596.7" font-size="15" textLength="34.6" lengthAdjust="spacingAndGlyphs">U226</text>
<text x="310.8" y="596.7" font-size="15" textLength="70.7" lengthAdjust="spacingAndGlyphs">RPMI8266</text>
<text x="420.8" y="596.7" font-size="15" textLength="84.6" lengthAdjust="spacingAndGlyphs">Primary MM</text>
<text transform="translate(12.1,506.3) rotate(-90)" font-size="15" textLength="138.4" lengthAdjust="spacingAndGlyphs">Immune complexes</text>
<text transform="translate(30.2,489) rotate(-90)" font-size="15" textLength="103.4" lengthAdjust="spacingAndGlyphs">(mean +/-SEM)</text>
<text x="403.7" y="363.8" font-size="15" textLength="50" lengthAdjust="spacingAndGlyphs">control</text>
<text x="403.7" y="396.2" font-size="15" textLength="48" lengthAdjust="spacingAndGlyphs">CT-011</text>
</g>
<rect x="382" y="347.5" width="17.8" height="17.7" fill="#c8c8c8" stroke="#000" stroke-width="2.3"/>
<rect x="382" y="384" width="17.8" height="17.4" fill="#808080" stroke="#000" stroke-width="2.3"/>
<path d="M80.6 651V891.3" stroke="#777" stroke-width="1.5" fill="none"/>
<path d="M77.8 887.5H513.5" stroke="#2a2a2a" stroke-width="1.5" fill="none"/>
<path d="M77.8 853.8h2.6M77.8 820.1h2.6M77.8 786.4h2.6M77.8 752.6h2.6M77.8 718.9h2.6M77.8 685.2h2.6M77.8 651.5h2.6M167.5 887.5v4M278.5 887.5v4M426.5 887.5v4M513 887.5v4" stroke="#707070" stroke-width="1.1" fill="none"/>
<g font-family="Liberation Sans, sans-serif" font-weight="bold" fill="#111" font-size="12.2" stroke="#000" stroke-width="0.25">
<text x="73.5" y="891.9" text-anchor="end" letter-spacing="0.15">0</text>
<text x="73.5" y="858.2" text-anchor="end" letter-spacing="0.15">200</text>
<text x="73.5" y="790.8" text-anchor="end" letter-spacing="0.15">600</text>
<text x="73.5" y="723.3" text-anchor="end" letter-spacing="0.15">1000</text>
<text x="73.5" y="655.9" text-anchor="end" letter-spacing="0.15">1400</text>
</g>
<path d="M112.35 780.8V768.2M100.7 768.2H124.5" stroke="#4a4a4a" stroke-width="1.1" fill="none"/>
<rect x="99.7" y="780.8" width="25.299999999999997" height="106.70000000000005" fill="#c8c8c8" stroke="#2c2c2c" stroke-width="1"/>
<path d="M199.1 691.2V683.2M187.6 683.2H211.1" stroke="#4a4a4a" stroke-width="1.1" fill="none"/>
<rect x="186.6" y="691.2" width="25.0" height="196.29999999999995" fill="#808080" stroke="#2c2c2c" stroke-width="1"/>
<path d="M371.5 832.5V826.5M360 826.5H383.5" stroke="#4a4a4a" stroke-width="1.1" fill="none"/>
<rect x="359" y="832.5" width="25" height="55.0" fill="#c8c8c8" stroke="#2c2c2c" stroke-width="1"/>
<path d="M458.4 838.4V834.5M446.8 834.5H470.5" stroke="#4a4a4a" stroke-width="1.1" fill="none"/>
<rect x="445.8" y="838.4" width="25.19999999999999" height="49.10000000000002" fill="#808080" stroke="#2c2c2c" stroke-width="1"/>
<path d="M110.2 669.4V656.9H197.2V669.4" stroke="#000" stroke-width="1.3" fill="none"/>
<text x="143.6" y="663.6" font-family="Liberation Sans, sans-serif" font-weight="normal" font-size="22" letter-spacing="1.6" fill="#000" stroke="#000" stroke-width="0.45">*</text>
<g font-family="Liberation Sans, sans-serif" font-weight="bold" fill="#000" stroke="#000" stroke-width="0.25">
<text x="0.9" y="645.3" font-size="25" stroke-width="0.4">C</text>
<text x="87.7" y="923.8" font-size="15.7" textLength="175.6" lengthAdjust="spacingAndGlyphs">CD138(+),PD-L1(+) MM</text>
<text x="311.1" y="923.8" font-size="15.7" textLength="200.2" lengthAdjust="spacingAndGlyphs">CD138(-),PD-L1(-) marrow</text>
<text transform="translate(11.4,816.7) rotate(-90)" font-size="14.5" textLength="131.5" lengthAdjust="spacingAndGlyphs">Immune complexes</text>
<text transform="translate(28,800.6) rotate(-90)" font-size="14.5" textLength="98.4" lengthAdjust="spacingAndGlyphs">(mean +/-SEM)</text>
<text x="378.5" y="675" font-size="14" textLength="47" lengthAdjust="spacingAndGlyphs">control</text>
<text x="378.5" y="705.3" font-size="14" textLength="46" lengthAdjust="spacingAndGlyphs">CT-011</text>
</g>
<rect x="351" y="661.6" width="15.9" height="15.7" fill="#d0d0d0" stroke="#000" stroke-width="2.3"/>
<rect x="351" y="693.7" width="15.9" height="15.4" fill="#808080" stroke="#000" stroke-width="2.3"/>
</svg>
</body></html>
